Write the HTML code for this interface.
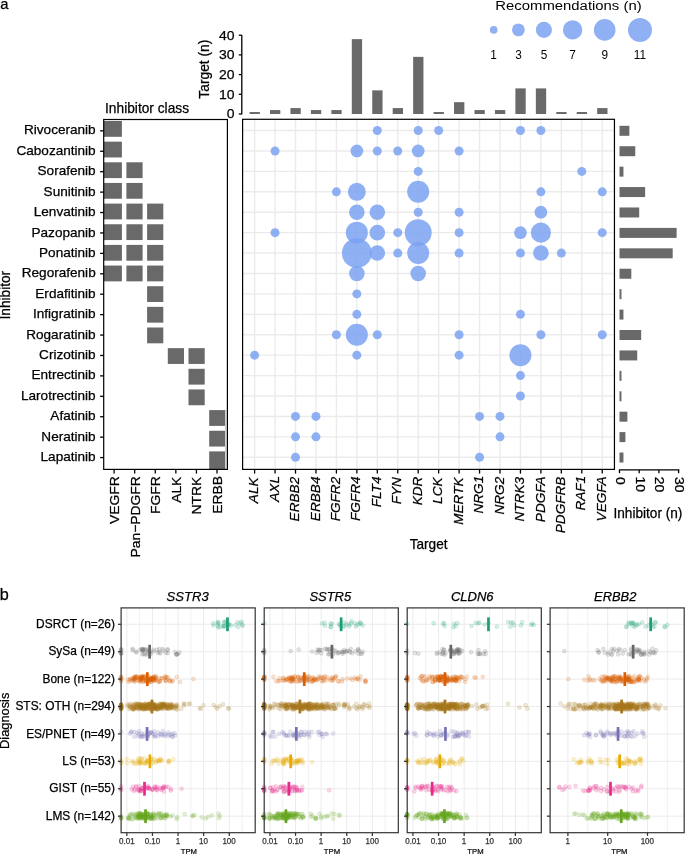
<!DOCTYPE html>
<html><head><meta charset="utf-8"><style>
html,body{margin:0;padding:0;background:#fff;}
svg{display:block;will-change:transform;}
text{-webkit-font-smoothing:antialiased;}
</style></head><body>
<svg width="685" height="854" viewBox="0 0 685 854">
<rect width="685" height="854" fill="#fff"/>
<rect x="242.6" y="119.3" width="371.85" height="350.09999999999997" fill="#fff"/>
<line x1="254.60" y1="119.3" x2="254.60" y2="469.4" stroke="#EBEBEB" stroke-width="1.4"/>
<line x1="275.05" y1="119.3" x2="275.05" y2="469.4" stroke="#EBEBEB" stroke-width="1.4"/>
<line x1="295.50" y1="119.3" x2="295.50" y2="469.4" stroke="#EBEBEB" stroke-width="1.4"/>
<line x1="315.95" y1="119.3" x2="315.95" y2="469.4" stroke="#EBEBEB" stroke-width="1.4"/>
<line x1="336.40" y1="119.3" x2="336.40" y2="469.4" stroke="#EBEBEB" stroke-width="1.4"/>
<line x1="356.85" y1="119.3" x2="356.85" y2="469.4" stroke="#EBEBEB" stroke-width="1.4"/>
<line x1="377.30" y1="119.3" x2="377.30" y2="469.4" stroke="#EBEBEB" stroke-width="1.4"/>
<line x1="397.75" y1="119.3" x2="397.75" y2="469.4" stroke="#EBEBEB" stroke-width="1.4"/>
<line x1="418.20" y1="119.3" x2="418.20" y2="469.4" stroke="#EBEBEB" stroke-width="1.4"/>
<line x1="438.65" y1="119.3" x2="438.65" y2="469.4" stroke="#EBEBEB" stroke-width="1.4"/>
<line x1="459.10" y1="119.3" x2="459.10" y2="469.4" stroke="#EBEBEB" stroke-width="1.4"/>
<line x1="479.55" y1="119.3" x2="479.55" y2="469.4" stroke="#EBEBEB" stroke-width="1.4"/>
<line x1="500.00" y1="119.3" x2="500.00" y2="469.4" stroke="#EBEBEB" stroke-width="1.4"/>
<line x1="520.45" y1="119.3" x2="520.45" y2="469.4" stroke="#EBEBEB" stroke-width="1.4"/>
<line x1="540.90" y1="119.3" x2="540.90" y2="469.4" stroke="#EBEBEB" stroke-width="1.4"/>
<line x1="561.35" y1="119.3" x2="561.35" y2="469.4" stroke="#EBEBEB" stroke-width="1.4"/>
<line x1="581.80" y1="119.3" x2="581.80" y2="469.4" stroke="#EBEBEB" stroke-width="1.4"/>
<line x1="602.25" y1="119.3" x2="602.25" y2="469.4" stroke="#EBEBEB" stroke-width="1.4"/>
<line x1="242.6" y1="130.55" x2="614.45" y2="130.55" stroke="#EBEBEB" stroke-width="1.4"/>
<line x1="242.6" y1="150.97" x2="614.45" y2="150.97" stroke="#EBEBEB" stroke-width="1.4"/>
<line x1="242.6" y1="171.39" x2="614.45" y2="171.39" stroke="#EBEBEB" stroke-width="1.4"/>
<line x1="242.6" y1="191.81" x2="614.45" y2="191.81" stroke="#EBEBEB" stroke-width="1.4"/>
<line x1="242.6" y1="212.23" x2="614.45" y2="212.23" stroke="#EBEBEB" stroke-width="1.4"/>
<line x1="242.6" y1="232.65" x2="614.45" y2="232.65" stroke="#EBEBEB" stroke-width="1.4"/>
<line x1="242.6" y1="253.07" x2="614.45" y2="253.07" stroke="#EBEBEB" stroke-width="1.4"/>
<line x1="242.6" y1="273.49" x2="614.45" y2="273.49" stroke="#EBEBEB" stroke-width="1.4"/>
<line x1="242.6" y1="293.91" x2="614.45" y2="293.91" stroke="#EBEBEB" stroke-width="1.4"/>
<line x1="242.6" y1="314.33" x2="614.45" y2="314.33" stroke="#EBEBEB" stroke-width="1.4"/>
<line x1="242.6" y1="334.75" x2="614.45" y2="334.75" stroke="#EBEBEB" stroke-width="1.4"/>
<line x1="242.6" y1="355.17" x2="614.45" y2="355.17" stroke="#EBEBEB" stroke-width="1.4"/>
<line x1="242.6" y1="375.59" x2="614.45" y2="375.59" stroke="#EBEBEB" stroke-width="1.4"/>
<line x1="242.6" y1="396.01" x2="614.45" y2="396.01" stroke="#EBEBEB" stroke-width="1.4"/>
<line x1="242.6" y1="416.43" x2="614.45" y2="416.43" stroke="#EBEBEB" stroke-width="1.4"/>
<line x1="242.6" y1="436.85" x2="614.45" y2="436.85" stroke="#EBEBEB" stroke-width="1.4"/>
<line x1="242.6" y1="457.27" x2="614.45" y2="457.27" stroke="#EBEBEB" stroke-width="1.4"/>
<g fill="#7DA2F2" fill-opacity="0.85">
<circle cx="377.30" cy="130.55" r="4.50"/>
<circle cx="418.20" cy="130.55" r="4.50"/>
<circle cx="438.65" cy="130.55" r="4.50"/>
<circle cx="520.45" cy="130.55" r="4.50"/>
<circle cx="540.90" cy="130.55" r="4.50"/>
<circle cx="275.05" cy="150.97" r="4.50"/>
<circle cx="356.85" cy="150.97" r="6.36"/>
<circle cx="377.30" cy="150.97" r="4.50"/>
<circle cx="397.75" cy="150.97" r="4.50"/>
<circle cx="418.20" cy="150.97" r="6.36"/>
<circle cx="459.10" cy="150.97" r="4.50"/>
<circle cx="418.20" cy="171.39" r="4.50"/>
<circle cx="581.80" cy="171.39" r="4.50"/>
<circle cx="336.40" cy="191.81" r="4.50"/>
<circle cx="356.85" cy="191.81" r="9.00"/>
<circle cx="418.20" cy="191.81" r="11.02"/>
<circle cx="540.90" cy="191.81" r="4.50"/>
<circle cx="602.25" cy="191.81" r="4.50"/>
<circle cx="356.85" cy="212.23" r="7.79"/>
<circle cx="377.30" cy="212.23" r="7.79"/>
<circle cx="418.20" cy="212.23" r="4.50"/>
<circle cx="459.10" cy="212.23" r="4.50"/>
<circle cx="540.90" cy="212.23" r="6.36"/>
<circle cx="275.05" cy="232.65" r="4.50"/>
<circle cx="356.85" cy="232.65" r="11.02"/>
<circle cx="377.30" cy="232.65" r="7.79"/>
<circle cx="397.75" cy="232.65" r="4.50"/>
<circle cx="418.20" cy="232.65" r="13.50"/>
<circle cx="459.10" cy="232.65" r="4.50"/>
<circle cx="520.45" cy="232.65" r="6.36"/>
<circle cx="540.90" cy="232.65" r="10.06"/>
<circle cx="602.25" cy="232.65" r="4.50"/>
<circle cx="356.85" cy="253.07" r="14.92"/>
<circle cx="377.30" cy="253.07" r="7.79"/>
<circle cx="397.75" cy="253.07" r="4.50"/>
<circle cx="418.20" cy="253.07" r="11.02"/>
<circle cx="459.10" cy="253.07" r="4.50"/>
<circle cx="520.45" cy="253.07" r="4.50"/>
<circle cx="540.90" cy="253.07" r="7.79"/>
<circle cx="561.35" cy="253.07" r="4.50"/>
<circle cx="356.85" cy="273.49" r="7.79"/>
<circle cx="418.20" cy="273.49" r="7.79"/>
<circle cx="356.85" cy="293.91" r="4.50"/>
<circle cx="356.85" cy="314.33" r="4.50"/>
<circle cx="520.45" cy="314.33" r="4.50"/>
<circle cx="336.40" cy="334.75" r="4.50"/>
<circle cx="356.85" cy="334.75" r="11.02"/>
<circle cx="377.30" cy="334.75" r="4.50"/>
<circle cx="459.10" cy="334.75" r="4.50"/>
<circle cx="540.90" cy="334.75" r="4.50"/>
<circle cx="602.25" cy="334.75" r="4.50"/>
<circle cx="254.60" cy="355.17" r="4.50"/>
<circle cx="356.85" cy="355.17" r="4.50"/>
<circle cx="459.10" cy="355.17" r="4.50"/>
<circle cx="520.45" cy="355.17" r="11.02"/>
<circle cx="520.45" cy="375.59" r="4.50"/>
<circle cx="520.45" cy="396.01" r="4.50"/>
<circle cx="295.50" cy="416.43" r="4.50"/>
<circle cx="315.95" cy="416.43" r="4.50"/>
<circle cx="479.55" cy="416.43" r="4.50"/>
<circle cx="500.00" cy="416.43" r="4.50"/>
<circle cx="295.50" cy="436.85" r="4.50"/>
<circle cx="315.95" cy="436.85" r="4.50"/>
<circle cx="500.00" cy="436.85" r="4.50"/>
<circle cx="295.50" cy="457.27" r="4.50"/>
<circle cx="479.55" cy="457.27" r="4.50"/>
</g>
<rect x="242.6" y="119.3" width="371.85" height="350.09999999999997" fill="none" stroke="#000" stroke-width="1.2"/>
<line x1="254.60" y1="469.4" x2="254.60" y2="473.60" stroke="#000" stroke-width="1.3"/>
<line x1="275.05" y1="469.4" x2="275.05" y2="473.60" stroke="#000" stroke-width="1.3"/>
<line x1="295.50" y1="469.4" x2="295.50" y2="473.60" stroke="#000" stroke-width="1.3"/>
<line x1="315.95" y1="469.4" x2="315.95" y2="473.60" stroke="#000" stroke-width="1.3"/>
<line x1="336.40" y1="469.4" x2="336.40" y2="473.60" stroke="#000" stroke-width="1.3"/>
<line x1="356.85" y1="469.4" x2="356.85" y2="473.60" stroke="#000" stroke-width="1.3"/>
<line x1="377.30" y1="469.4" x2="377.30" y2="473.60" stroke="#000" stroke-width="1.3"/>
<line x1="397.75" y1="469.4" x2="397.75" y2="473.60" stroke="#000" stroke-width="1.3"/>
<line x1="418.20" y1="469.4" x2="418.20" y2="473.60" stroke="#000" stroke-width="1.3"/>
<line x1="438.65" y1="469.4" x2="438.65" y2="473.60" stroke="#000" stroke-width="1.3"/>
<line x1="459.10" y1="469.4" x2="459.10" y2="473.60" stroke="#000" stroke-width="1.3"/>
<line x1="479.55" y1="469.4" x2="479.55" y2="473.60" stroke="#000" stroke-width="1.3"/>
<line x1="500.00" y1="469.4" x2="500.00" y2="473.60" stroke="#000" stroke-width="1.3"/>
<line x1="520.45" y1="469.4" x2="520.45" y2="473.60" stroke="#000" stroke-width="1.3"/>
<line x1="540.90" y1="469.4" x2="540.90" y2="473.60" stroke="#000" stroke-width="1.3"/>
<line x1="561.35" y1="469.4" x2="561.35" y2="473.60" stroke="#000" stroke-width="1.3"/>
<line x1="581.80" y1="469.4" x2="581.80" y2="473.60" stroke="#000" stroke-width="1.3"/>
<line x1="602.25" y1="469.4" x2="602.25" y2="473.60" stroke="#000" stroke-width="1.3"/>
<rect x="104.00" y="121.00" width="17.90" height="15.80" fill="#696969"/>
<rect x="104.00" y="141.65" width="17.90" height="15.80" fill="#696969"/>
<rect x="104.00" y="162.30" width="17.90" height="15.80" fill="#696969"/>
<rect x="126.40" y="162.30" width="16.20" height="15.80" fill="#696969"/>
<rect x="104.00" y="182.95" width="17.90" height="15.80" fill="#696969"/>
<rect x="126.40" y="182.95" width="16.20" height="15.80" fill="#696969"/>
<rect x="104.00" y="203.60" width="17.90" height="15.80" fill="#696969"/>
<rect x="126.40" y="203.60" width="16.20" height="15.80" fill="#696969"/>
<rect x="147.10" y="203.60" width="16.20" height="15.80" fill="#696969"/>
<rect x="104.00" y="224.25" width="17.90" height="15.80" fill="#696969"/>
<rect x="126.40" y="224.25" width="16.20" height="15.80" fill="#696969"/>
<rect x="147.10" y="224.25" width="16.20" height="15.80" fill="#696969"/>
<rect x="104.00" y="244.90" width="17.90" height="15.80" fill="#696969"/>
<rect x="126.40" y="244.90" width="16.20" height="15.80" fill="#696969"/>
<rect x="147.10" y="244.90" width="16.20" height="15.80" fill="#696969"/>
<rect x="104.00" y="265.55" width="17.90" height="15.80" fill="#696969"/>
<rect x="126.40" y="265.55" width="16.20" height="15.80" fill="#696969"/>
<rect x="147.10" y="265.55" width="16.20" height="15.80" fill="#696969"/>
<rect x="147.10" y="286.20" width="16.20" height="15.80" fill="#696969"/>
<rect x="147.10" y="306.85" width="16.20" height="15.80" fill="#696969"/>
<rect x="147.10" y="327.50" width="16.20" height="15.80" fill="#696969"/>
<rect x="167.80" y="348.15" width="16.20" height="15.80" fill="#696969"/>
<rect x="188.50" y="348.15" width="16.20" height="15.80" fill="#696969"/>
<rect x="188.50" y="368.80" width="16.20" height="15.80" fill="#696969"/>
<rect x="188.50" y="389.45" width="16.20" height="15.80" fill="#696969"/>
<rect x="209.20" y="410.10" width="16.20" height="15.80" fill="#696969"/>
<rect x="209.20" y="430.75" width="16.20" height="15.80" fill="#696969"/>
<rect x="209.20" y="451.40" width="16.20" height="18.00" fill="#696969"/>
<rect x="225.0" y="410.10" width="1.5" height="59.30" fill="#d2d2d2"/>
<rect x="103.7" y="119.5" width="123.7" height="349.9" fill="none" stroke="#000" stroke-width="1.2"/>
<line x1="114.10" y1="469.4" x2="114.10" y2="473.60" stroke="#000" stroke-width="1.3"/>
<line x1="134.68" y1="469.4" x2="134.68" y2="473.60" stroke="#000" stroke-width="1.3"/>
<line x1="155.26" y1="469.4" x2="155.26" y2="473.60" stroke="#000" stroke-width="1.3"/>
<line x1="175.84" y1="469.4" x2="175.84" y2="473.60" stroke="#000" stroke-width="1.3"/>
<line x1="196.42" y1="469.4" x2="196.42" y2="473.60" stroke="#000" stroke-width="1.3"/>
<line x1="217.00" y1="469.4" x2="217.00" y2="473.60" stroke="#000" stroke-width="1.3"/>
<line x1="100.10" y1="130.85" x2="103.7" y2="130.85" stroke="#000" stroke-width="1.3"/>
<line x1="100.10" y1="151.27" x2="103.7" y2="151.27" stroke="#000" stroke-width="1.3"/>
<line x1="100.10" y1="171.69" x2="103.7" y2="171.69" stroke="#000" stroke-width="1.3"/>
<line x1="100.10" y1="192.11" x2="103.7" y2="192.11" stroke="#000" stroke-width="1.3"/>
<line x1="100.10" y1="212.53" x2="103.7" y2="212.53" stroke="#000" stroke-width="1.3"/>
<line x1="100.10" y1="232.95" x2="103.7" y2="232.95" stroke="#000" stroke-width="1.3"/>
<line x1="100.10" y1="253.37" x2="103.7" y2="253.37" stroke="#000" stroke-width="1.3"/>
<line x1="100.10" y1="273.79" x2="103.7" y2="273.79" stroke="#000" stroke-width="1.3"/>
<line x1="100.10" y1="294.21" x2="103.7" y2="294.21" stroke="#000" stroke-width="1.3"/>
<line x1="100.10" y1="314.63" x2="103.7" y2="314.63" stroke="#000" stroke-width="1.3"/>
<line x1="100.10" y1="335.05" x2="103.7" y2="335.05" stroke="#000" stroke-width="1.3"/>
<line x1="100.10" y1="355.47" x2="103.7" y2="355.47" stroke="#000" stroke-width="1.3"/>
<line x1="100.10" y1="375.89" x2="103.7" y2="375.89" stroke="#000" stroke-width="1.3"/>
<line x1="100.10" y1="396.31" x2="103.7" y2="396.31" stroke="#000" stroke-width="1.3"/>
<line x1="100.10" y1="416.73" x2="103.7" y2="416.73" stroke="#000" stroke-width="1.3"/>
<line x1="100.10" y1="437.15" x2="103.7" y2="437.15" stroke="#000" stroke-width="1.3"/>
<line x1="100.10" y1="457.57" x2="103.7" y2="457.57" stroke="#000" stroke-width="1.3"/>
<rect x="249.55" y="112.03" width="10.3" height="1.97" fill="#696969"/>
<rect x="270.00" y="110.06" width="10.3" height="3.94" fill="#696969"/>
<rect x="290.45" y="108.09" width="10.3" height="5.91" fill="#696969"/>
<rect x="310.90" y="110.06" width="10.3" height="3.94" fill="#696969"/>
<rect x="331.35" y="110.06" width="10.3" height="3.94" fill="#696969"/>
<rect x="351.80" y="39.14" width="10.3" height="74.86" fill="#696969"/>
<rect x="372.25" y="90.36" width="10.3" height="23.64" fill="#696969"/>
<rect x="392.70" y="108.09" width="10.3" height="5.91" fill="#696969"/>
<rect x="413.15" y="56.87" width="10.3" height="57.13" fill="#696969"/>
<rect x="433.60" y="112.03" width="10.3" height="1.97" fill="#696969"/>
<rect x="454.05" y="102.18" width="10.3" height="11.82" fill="#696969"/>
<rect x="474.50" y="110.06" width="10.3" height="3.94" fill="#696969"/>
<rect x="494.95" y="110.06" width="10.3" height="3.94" fill="#696969"/>
<rect x="515.40" y="88.39" width="10.3" height="25.61" fill="#696969"/>
<rect x="535.85" y="88.39" width="10.3" height="25.61" fill="#696969"/>
<rect x="556.30" y="112.03" width="10.3" height="1.97" fill="#696969"/>
<rect x="576.75" y="112.03" width="10.3" height="1.97" fill="#696969"/>
<rect x="597.20" y="108.09" width="10.3" height="5.91" fill="#696969"/>
<line x1="241.8" y1="34.9" x2="241.8" y2="114.3" stroke="#000" stroke-width="1.3"/>
<line x1="238.8" y1="114.00" x2="241.8" y2="114.00" stroke="#000" stroke-width="1.3"/>
<line x1="238.8" y1="94.30" x2="241.8" y2="94.30" stroke="#000" stroke-width="1.3"/>
<line x1="238.8" y1="74.60" x2="241.8" y2="74.60" stroke="#000" stroke-width="1.3"/>
<line x1="238.8" y1="54.90" x2="241.8" y2="54.90" stroke="#000" stroke-width="1.3"/>
<line x1="238.8" y1="35.20" x2="241.8" y2="35.20" stroke="#000" stroke-width="1.3"/>
<rect x="619.50" y="125.80" width="9.85" height="10.0" fill="#696969"/>
<rect x="619.50" y="146.22" width="15.76" height="10.0" fill="#696969"/>
<rect x="619.50" y="166.64" width="3.94" height="10.0" fill="#696969"/>
<rect x="619.50" y="187.06" width="25.61" height="10.0" fill="#696969"/>
<rect x="619.50" y="207.48" width="19.70" height="10.0" fill="#696969"/>
<rect x="619.50" y="227.90" width="57.13" height="10.0" fill="#696969"/>
<rect x="619.50" y="248.32" width="53.19" height="10.0" fill="#696969"/>
<rect x="619.50" y="268.74" width="11.82" height="10.0" fill="#696969"/>
<rect x="619.50" y="289.16" width="1.97" height="10.0" fill="#696969"/>
<rect x="619.50" y="309.58" width="3.94" height="10.0" fill="#696969"/>
<rect x="619.50" y="330.00" width="21.67" height="10.0" fill="#696969"/>
<rect x="619.50" y="350.42" width="17.73" height="10.0" fill="#696969"/>
<rect x="619.50" y="370.84" width="1.97" height="10.0" fill="#696969"/>
<rect x="619.50" y="391.26" width="1.97" height="10.0" fill="#696969"/>
<rect x="619.50" y="411.68" width="7.88" height="10.0" fill="#696969"/>
<rect x="619.50" y="432.10" width="5.91" height="10.0" fill="#696969"/>
<rect x="619.50" y="452.52" width="3.94" height="10.0" fill="#696969"/>
<line x1="618.9" y1="469.9" x2="679.3" y2="469.9" stroke="#000" stroke-width="1.3"/>
<line x1="619.50" y1="469.9" x2="619.50" y2="473.2" stroke="#000" stroke-width="1.3"/>
<line x1="639.20" y1="469.9" x2="639.20" y2="473.2" stroke="#000" stroke-width="1.3"/>
<line x1="658.90" y1="469.9" x2="658.90" y2="473.2" stroke="#000" stroke-width="1.3"/>
<line x1="678.60" y1="469.9" x2="678.60" y2="473.2" stroke="#000" stroke-width="1.3"/>
<circle cx="493.7" cy="29.9" r="3.80" fill="#7DA2F2" fill-opacity="0.85"/>
<circle cx="518.4" cy="29.9" r="6.40" fill="#7DA2F2" fill-opacity="0.85"/>
<circle cx="543.9" cy="29.9" r="8.05" fill="#7DA2F2" fill-opacity="0.85"/>
<circle cx="572.6" cy="29.9" r="9.65" fill="#7DA2F2" fill-opacity="0.85"/>
<circle cx="604.7" cy="29.9" r="10.80" fill="#7DA2F2" fill-opacity="0.85"/>
<circle cx="640.0" cy="29.9" r="12.00" fill="#7DA2F2" fill-opacity="0.85"/>
<text x="0.21" y="8.80" textLength="8.21" lengthAdjust="spacingAndGlyphs" style='font-family:"Liberation Sans",sans-serif;font-size:15.5px;' fill="#000" stroke="#000" stroke-width="0.25">a</text>
<text x="495.31" y="9.90" textLength="146.32" lengthAdjust="spacingAndGlyphs" style='font-family:"Liberation Sans",sans-serif;font-size:12.5px;' fill="#000" stroke="#000" stroke-width="0.0">Recommendations (n)</text>
<text x="490.25" y="59.00" textLength="6.56" lengthAdjust="spacingAndGlyphs" style='font-family:"Liberation Sans",sans-serif;font-size:13.5px;' fill="#000" stroke="#000" stroke-width="0.0">1</text>
<text x="515.13" y="59.00" textLength="6.56" lengthAdjust="spacingAndGlyphs" style='font-family:"Liberation Sans",sans-serif;font-size:13.5px;' fill="#000" stroke="#000" stroke-width="0.0">3</text>
<text x="540.63" y="59.00" textLength="6.56" lengthAdjust="spacingAndGlyphs" style='font-family:"Liberation Sans",sans-serif;font-size:13.5px;' fill="#000" stroke="#000" stroke-width="0.0">5</text>
<text x="569.33" y="59.00" textLength="6.56" lengthAdjust="spacingAndGlyphs" style='font-family:"Liberation Sans",sans-serif;font-size:13.5px;' fill="#000" stroke="#000" stroke-width="0.0">7</text>
<text x="601.43" y="59.00" textLength="6.56" lengthAdjust="spacingAndGlyphs" style='font-family:"Liberation Sans",sans-serif;font-size:13.5px;' fill="#000" stroke="#000" stroke-width="0.0">9</text>
<text x="633.72" y="59.00" textLength="12.25" lengthAdjust="spacingAndGlyphs" style='font-family:"Liberation Sans",sans-serif;font-size:13.5px;' fill="#000" stroke="#000" stroke-width="0.0">11</text>
<text x="-98.68" y="209.30" textLength="58.96" lengthAdjust="spacingAndGlyphs" style='font-family:"Liberation Sans",sans-serif;font-size:14.3px;' fill="#000" stroke="#000" stroke-width="0.25" transform="rotate(-90)">Target (n)</text>
<text x="226.84" y="118.30" textLength="7.77" lengthAdjust="spacingAndGlyphs" style='font-family:"Liberation Sans",sans-serif;font-size:13.7px;' fill="#000" stroke="#000" stroke-width="0.25">0</text>
<text x="219.08" y="98.60" textLength="15.54" lengthAdjust="spacingAndGlyphs" style='font-family:"Liberation Sans",sans-serif;font-size:13.7px;' fill="#000" stroke="#000" stroke-width="0.25">10</text>
<text x="219.08" y="78.90" textLength="15.54" lengthAdjust="spacingAndGlyphs" style='font-family:"Liberation Sans",sans-serif;font-size:13.7px;' fill="#000" stroke="#000" stroke-width="0.25">20</text>
<text x="219.08" y="59.20" textLength="15.54" lengthAdjust="spacingAndGlyphs" style='font-family:"Liberation Sans",sans-serif;font-size:13.7px;' fill="#000" stroke="#000" stroke-width="0.25">30</text>
<text x="219.08" y="39.50" textLength="15.54" lengthAdjust="spacingAndGlyphs" style='font-family:"Liberation Sans",sans-serif;font-size:13.7px;' fill="#000" stroke="#000" stroke-width="0.25">40</text>
<text x="105.06" y="113.00" textLength="84.00" lengthAdjust="spacingAndGlyphs" style='font-family:"Liberation Sans",sans-serif;font-size:14.3px;' fill="#000" stroke="#000" stroke-width="0.25">Inhibitor class</text>
<text x="23.99" y="134.45" textLength="71.66" lengthAdjust="spacingAndGlyphs" style='font-family:"Liberation Sans",sans-serif;font-size:13.4px;' fill="#000" stroke="#000" stroke-width="0.25">Rivoceranib</text>
<text x="16.46" y="154.87" textLength="79.22" lengthAdjust="spacingAndGlyphs" style='font-family:"Liberation Sans",sans-serif;font-size:13.4px;' fill="#000" stroke="#000" stroke-width="0.25">Cabozantinib</text>
<text x="37.56" y="175.29" textLength="58.09" lengthAdjust="spacingAndGlyphs" style='font-family:"Liberation Sans",sans-serif;font-size:13.4px;' fill="#000" stroke="#000" stroke-width="0.25">Sorafenib</text>
<text x="43.60" y="195.71" textLength="52.06" lengthAdjust="spacingAndGlyphs" style='font-family:"Liberation Sans",sans-serif;font-size:13.4px;' fill="#000" stroke="#000" stroke-width="0.25">Sunitinib</text>
<text x="33.76" y="216.13" textLength="61.87" lengthAdjust="spacingAndGlyphs" style='font-family:"Liberation Sans",sans-serif;font-size:13.4px;' fill="#000" stroke="#000" stroke-width="0.25">Lenvatinib</text>
<text x="31.52" y="236.55" textLength="64.14" lengthAdjust="spacingAndGlyphs" style='font-family:"Liberation Sans",sans-serif;font-size:13.4px;' fill="#000" stroke="#000" stroke-width="0.25">Pazopanib</text>
<text x="39.06" y="256.97" textLength="56.59" lengthAdjust="spacingAndGlyphs" style='font-family:"Liberation Sans",sans-serif;font-size:13.4px;' fill="#000" stroke="#000" stroke-width="0.25">Ponatinib</text>
<text x="21.75" y="277.39" textLength="73.94" lengthAdjust="spacingAndGlyphs" style='font-family:"Liberation Sans",sans-serif;font-size:13.4px;' fill="#000" stroke="#000" stroke-width="0.25">Regorafenib</text>
<text x="35.32" y="297.81" textLength="60.35" lengthAdjust="spacingAndGlyphs" style='font-family:"Liberation Sans",sans-serif;font-size:13.4px;' fill="#000" stroke="#000" stroke-width="0.25">Erdafitinib</text>
<text x="33.02" y="318.23" textLength="62.61" lengthAdjust="spacingAndGlyphs" style='font-family:"Liberation Sans",sans-serif;font-size:13.4px;' fill="#000" stroke="#000" stroke-width="0.25">Infigratinib</text>
<text x="26.23" y="338.65" textLength="69.40" lengthAdjust="spacingAndGlyphs" style='font-family:"Liberation Sans",sans-serif;font-size:13.4px;' fill="#000" stroke="#000" stroke-width="0.25">Rogaratinib</text>
<text x="39.12" y="359.07" textLength="56.56" lengthAdjust="spacingAndGlyphs" style='font-family:"Liberation Sans",sans-serif;font-size:13.4px;' fill="#000" stroke="#000" stroke-width="0.25">Crizotinib</text>
<text x="31.52" y="379.49" textLength="64.12" lengthAdjust="spacingAndGlyphs" style='font-family:"Liberation Sans",sans-serif;font-size:13.4px;' fill="#000" stroke="#000" stroke-width="0.25">Entrectinib</text>
<text x="21.01" y="399.91" textLength="74.68" lengthAdjust="spacingAndGlyphs" style='font-family:"Liberation Sans",sans-serif;font-size:13.4px;' fill="#000" stroke="#000" stroke-width="0.25">Larotrectinib</text>
<text x="50.39" y="420.33" textLength="45.26" lengthAdjust="spacingAndGlyphs" style='font-family:"Liberation Sans",sans-serif;font-size:13.4px;' fill="#000" stroke="#000" stroke-width="0.25">Afatinib</text>
<text x="41.36" y="440.75" textLength="54.31" lengthAdjust="spacingAndGlyphs" style='font-family:"Liberation Sans",sans-serif;font-size:13.4px;' fill="#000" stroke="#000" stroke-width="0.25">Neratinib</text>
<text x="40.55" y="461.17" textLength="55.08" lengthAdjust="spacingAndGlyphs" style='font-family:"Liberation Sans",sans-serif;font-size:13.4px;' fill="#000" stroke="#000" stroke-width="0.25">Lapatinib</text>
<text x="-319.43" y="10.30" textLength="48.57" lengthAdjust="spacingAndGlyphs" style='font-family:"Liberation Sans",sans-serif;font-size:14.3px;' fill="#000" stroke="#000" stroke-width="0.25" transform="rotate(-90)">Inhibitor</text>
<text x="-523.99" y="119.00" textLength="47.82" lengthAdjust="spacingAndGlyphs" style='font-family:"Liberation Sans",sans-serif;font-size:13.7px;' fill="#000" stroke="#000" stroke-width="0.25" transform="rotate(-90)">VEGFR</text>
<text x="-557.51" y="139.58" textLength="81.38" lengthAdjust="spacingAndGlyphs" style='font-family:"Liberation Sans",sans-serif;font-size:13.7px;' fill="#000" stroke="#000" stroke-width="0.25" transform="rotate(-90)">Pan−PDGFR</text>
<text x="-513.93" y="160.16" textLength="37.78" lengthAdjust="spacingAndGlyphs" style='font-family:"Liberation Sans",sans-serif;font-size:13.7px;' fill="#000" stroke="#000" stroke-width="0.25" transform="rotate(-90)">FGFR</text>
<text x="-502.89" y="180.74" textLength="26.24" lengthAdjust="spacingAndGlyphs" style='font-family:"Liberation Sans",sans-serif;font-size:13.7px;' fill="#000" stroke="#000" stroke-width="0.25" transform="rotate(-90)">ALK</text>
<text x="-514.41" y="201.32" textLength="37.79" lengthAdjust="spacingAndGlyphs" style='font-family:"Liberation Sans",sans-serif;font-size:13.7px;' fill="#000" stroke="#000" stroke-width="0.25" transform="rotate(-90)">NTRK</text>
<text x="-513.86" y="221.90" textLength="37.80" lengthAdjust="spacingAndGlyphs" style='font-family:"Liberation Sans",sans-serif;font-size:13.7px;' fill="#000" stroke="#000" stroke-width="0.25" transform="rotate(-90)">ERBB</text>
<text x="-503.18" y="258.20" textLength="25.71" lengthAdjust="spacingAndGlyphs" style='font-family:"Liberation Sans",sans-serif;font-size:13.7px;font-style:italic;' fill="#000" stroke="#000" stroke-width="0.25" transform="rotate(-90)">ALK</text>
<text x="-501.75" y="278.65" textLength="25.71" lengthAdjust="spacingAndGlyphs" style='font-family:"Liberation Sans",sans-serif;font-size:13.7px;font-style:italic;' fill="#000" stroke="#000" stroke-width="0.25" transform="rotate(-90)">AXL</text>
<text x="-521.40" y="299.10" textLength="44.60" lengthAdjust="spacingAndGlyphs" style='font-family:"Liberation Sans",sans-serif;font-size:13.7px;font-style:italic;' fill="#000" stroke="#000" stroke-width="0.25" transform="rotate(-90)">ERBB2</text>
<text x="-521.13" y="319.55" textLength="44.60" lengthAdjust="spacingAndGlyphs" style='font-family:"Liberation Sans",sans-serif;font-size:13.7px;font-style:italic;' fill="#000" stroke="#000" stroke-width="0.25" transform="rotate(-90)">ERBB4</text>
<text x="-521.34" y="340.00" textLength="44.58" lengthAdjust="spacingAndGlyphs" style='font-family:"Liberation Sans",sans-serif;font-size:13.7px;font-style:italic;' fill="#000" stroke="#000" stroke-width="0.25" transform="rotate(-90)">FGFR2</text>
<text x="-521.06" y="360.45" textLength="44.58" lengthAdjust="spacingAndGlyphs" style='font-family:"Liberation Sans",sans-serif;font-size:13.7px;font-style:italic;' fill="#000" stroke="#000" stroke-width="0.25" transform="rotate(-90)">FGFR4</text>
<text x="-507.26" y="380.90" textLength="30.73" lengthAdjust="spacingAndGlyphs" style='font-family:"Liberation Sans",sans-serif;font-size:13.7px;font-style:italic;' fill="#000" stroke="#000" stroke-width="0.25" transform="rotate(-90)">FLT4</text>
<text x="-504.27" y="401.35" textLength="27.20" lengthAdjust="spacingAndGlyphs" style='font-family:"Liberation Sans",sans-serif;font-size:13.7px;font-style:italic;' fill="#000" stroke="#000" stroke-width="0.25" transform="rotate(-90)">FYN</text>
<text x="-505.29" y="421.80" textLength="28.72" lengthAdjust="spacingAndGlyphs" style='font-family:"Liberation Sans",sans-serif;font-size:13.7px;font-style:italic;' fill="#000" stroke="#000" stroke-width="0.25" transform="rotate(-90)">KDR</text>
<text x="-503.93" y="442.25" textLength="26.46" lengthAdjust="spacingAndGlyphs" style='font-family:"Liberation Sans",sans-serif;font-size:13.7px;font-style:italic;' fill="#000" stroke="#000" stroke-width="0.25" transform="rotate(-90)">LCK</text>
<text x="-524.80" y="462.70" textLength="47.36" lengthAdjust="spacingAndGlyphs" style='font-family:"Liberation Sans",sans-serif;font-size:13.7px;font-style:italic;' fill="#000" stroke="#000" stroke-width="0.25" transform="rotate(-90)">MERTK</text>
<text x="-513.58" y="483.15" textLength="37.79" lengthAdjust="spacingAndGlyphs" style='font-family:"Liberation Sans",sans-serif;font-size:13.7px;font-style:italic;' fill="#000" stroke="#000" stroke-width="0.25" transform="rotate(-90)">NRG1</text>
<text x="-514.54" y="503.60" textLength="37.79" lengthAdjust="spacingAndGlyphs" style='font-family:"Liberation Sans",sans-serif;font-size:13.7px;font-style:italic;' fill="#000" stroke="#000" stroke-width="0.25" transform="rotate(-90)">NRG2</text>
<text x="-521.47" y="524.05" textLength="44.59" lengthAdjust="spacingAndGlyphs" style='font-family:"Liberation Sans",sans-serif;font-size:13.7px;font-style:italic;' fill="#000" stroke="#000" stroke-width="0.25" transform="rotate(-90)">NTRK3</text>
<text x="-522.15" y="544.50" textLength="45.84" lengthAdjust="spacingAndGlyphs" style='font-family:"Liberation Sans",sans-serif;font-size:13.7px;font-style:italic;' fill="#000" stroke="#000" stroke-width="0.25" transform="rotate(-90)">PDGFA</text>
<text x="-533.24" y="564.95" textLength="56.67" lengthAdjust="spacingAndGlyphs" style='font-family:"Liberation Sans",sans-serif;font-size:13.7px;font-style:italic;' fill="#000" stroke="#000" stroke-width="0.25" transform="rotate(-90)">PDGFRB</text>
<text x="-510.59" y="585.40" textLength="34.77" lengthAdjust="spacingAndGlyphs" style='font-family:"Liberation Sans",sans-serif;font-size:13.7px;font-style:italic;' fill="#000" stroke="#000" stroke-width="0.25" transform="rotate(-90)">RAF1</text>
<text x="-521.40" y="605.85" textLength="45.09" lengthAdjust="spacingAndGlyphs" style='font-family:"Liberation Sans",sans-serif;font-size:13.7px;font-style:italic;' fill="#000" stroke="#000" stroke-width="0.25" transform="rotate(-90)">VEGFA</text>
<text x="409.63" y="548.80" textLength="37.90" lengthAdjust="spacingAndGlyphs" style='font-family:"Liberation Sans",sans-serif;font-size:14.4px;' fill="#000" stroke="#000" stroke-width="0.25">Target</text>
<text x="476.94" y="-615.80" textLength="7.77" lengthAdjust="spacingAndGlyphs" style='font-family:"Liberation Sans",sans-serif;font-size:13.7px;' fill="#000" stroke="#000" stroke-width="0.25" transform="rotate(90)">0</text>
<text x="476.45" y="-635.50" textLength="15.54" lengthAdjust="spacingAndGlyphs" style='font-family:"Liberation Sans",sans-serif;font-size:13.7px;' fill="#000" stroke="#000" stroke-width="0.25" transform="rotate(90)">10</text>
<text x="476.80" y="-655.20" textLength="15.54" lengthAdjust="spacingAndGlyphs" style='font-family:"Liberation Sans",sans-serif;font-size:13.7px;' fill="#000" stroke="#000" stroke-width="0.25" transform="rotate(90)">20</text>
<text x="476.94" y="-674.90" textLength="15.54" lengthAdjust="spacingAndGlyphs" style='font-family:"Liberation Sans",sans-serif;font-size:13.7px;' fill="#000" stroke="#000" stroke-width="0.25" transform="rotate(90)">30</text>
<text x="613.47" y="518.10" textLength="68.88" lengthAdjust="spacingAndGlyphs" style='font-family:"Liberation Sans",sans-serif;font-size:13.8px;' fill="#000" stroke="#000" stroke-width="0.25">Inhibitor (n)</text>
<line x1="139.65" y1="607.9" x2="139.65" y2="832.7" stroke="#EBEBEB" stroke-width="0.75"/>
<line x1="165.25" y1="607.9" x2="165.25" y2="832.7" stroke="#EBEBEB" stroke-width="0.75"/>
<line x1="190.85" y1="607.9" x2="190.85" y2="832.7" stroke="#EBEBEB" stroke-width="0.75"/>
<line x1="216.45" y1="607.9" x2="216.45" y2="832.7" stroke="#EBEBEB" stroke-width="0.75"/>
<line x1="242.05" y1="607.9" x2="242.05" y2="832.7" stroke="#EBEBEB" stroke-width="0.75"/>
<line x1="126.85" y1="607.9" x2="126.85" y2="832.7" stroke="#EBEBEB" stroke-width="1.0"/>
<line x1="152.45" y1="607.9" x2="152.45" y2="832.7" stroke="#EBEBEB" stroke-width="1.0"/>
<line x1="178.05" y1="607.9" x2="178.05" y2="832.7" stroke="#EBEBEB" stroke-width="1.0"/>
<line x1="203.65" y1="607.9" x2="203.65" y2="832.7" stroke="#EBEBEB" stroke-width="1.0"/>
<line x1="229.25" y1="607.9" x2="229.25" y2="832.7" stroke="#EBEBEB" stroke-width="1.0"/>
<line x1="121.1" y1="624.30" x2="255.2" y2="624.30" stroke="#EBEBEB" stroke-width="1.0"/>
<line x1="121.1" y1="651.71" x2="255.2" y2="651.71" stroke="#EBEBEB" stroke-width="1.0"/>
<line x1="121.1" y1="679.12" x2="255.2" y2="679.12" stroke="#EBEBEB" stroke-width="1.0"/>
<line x1="121.1" y1="706.53" x2="255.2" y2="706.53" stroke="#EBEBEB" stroke-width="1.0"/>
<line x1="121.1" y1="733.94" x2="255.2" y2="733.94" stroke="#EBEBEB" stroke-width="1.0"/>
<line x1="121.1" y1="761.35" x2="255.2" y2="761.35" stroke="#EBEBEB" stroke-width="1.0"/>
<line x1="121.1" y1="788.76" x2="255.2" y2="788.76" stroke="#EBEBEB" stroke-width="1.0"/>
<line x1="121.1" y1="816.17" x2="255.2" y2="816.17" stroke="#EBEBEB" stroke-width="1.0"/>
<g fill="#1B9E77" fill-opacity="0.17" stroke="#1B9E77" stroke-opacity="0.3" stroke-width="0.5">
<circle cx="213.18" cy="623.24" r="1.95"/>
<circle cx="224.05" cy="621.60" r="1.95"/>
<circle cx="217.83" cy="625.57" r="1.95"/>
<circle cx="226.17" cy="621.77" r="1.95"/>
<circle cx="218.22" cy="627.27" r="1.95"/>
<circle cx="223.77" cy="626.82" r="1.95"/>
<circle cx="223.75" cy="626.03" r="1.95"/>
<circle cx="223.11" cy="625.93" r="1.95"/>
<circle cx="218.70" cy="623.51" r="1.95"/>
<circle cx="213.59" cy="625.37" r="1.95"/>
<circle cx="242.59" cy="625.87" r="1.95"/>
<circle cx="227.58" cy="624.18" r="1.95"/>
<circle cx="241.75" cy="621.67" r="1.95"/>
<circle cx="229.14" cy="625.06" r="1.95"/>
<circle cx="240.07" cy="623.25" r="1.95"/>
<circle cx="235.49" cy="624.96" r="1.95"/>
<circle cx="228.95" cy="623.82" r="1.95"/>
<circle cx="238.20" cy="627.02" r="1.95"/>
<circle cx="224.29" cy="622.51" r="1.95"/>
<circle cx="224.33" cy="625.91" r="1.95"/>
<circle cx="230.95" cy="625.49" r="1.95"/>
<circle cx="242.32" cy="624.64" r="1.95"/>
<circle cx="217.91" cy="621.78" r="1.95"/>
<circle cx="237.69" cy="622.29" r="1.95"/>
<circle cx="219.90" cy="627.10" r="1.95"/>
<circle cx="217.69" cy="622.68" r="1.95"/>
</g>
<rect x="226.11" y="617.40" width="2.7" height="13.8" fill="#1B9E77"/>
<g fill="#666666" fill-opacity="0.17" stroke="#666666" stroke-opacity="0.3" stroke-width="0.5">
<circle cx="140.13" cy="649.62" r="1.95"/>
<circle cx="150.51" cy="651.90" r="1.95"/>
<circle cx="149.61" cy="652.24" r="1.95"/>
<circle cx="160.30" cy="653.40" r="1.95"/>
<circle cx="156.97" cy="649.69" r="1.95"/>
<circle cx="148.64" cy="651.20" r="1.95"/>
<circle cx="141.92" cy="648.86" r="1.95"/>
<circle cx="157.84" cy="652.69" r="1.95"/>
<circle cx="150.58" cy="653.92" r="1.95"/>
<circle cx="142.32" cy="650.83" r="1.95"/>
<circle cx="147.78" cy="653.61" r="1.95"/>
<circle cx="165.86" cy="652.66" r="1.95"/>
<circle cx="132.53" cy="648.81" r="1.95"/>
<circle cx="153.63" cy="651.53" r="1.95"/>
<circle cx="146.01" cy="648.98" r="1.95"/>
<circle cx="163.37" cy="650.59" r="1.95"/>
<circle cx="143.65" cy="653.51" r="1.95"/>
<circle cx="142.40" cy="649.46" r="1.95"/>
<circle cx="159.35" cy="652.10" r="1.95"/>
<circle cx="159.20" cy="649.05" r="1.95"/>
<circle cx="142.40" cy="649.37" r="1.95"/>
<circle cx="142.54" cy="654.42" r="1.95"/>
<circle cx="167.55" cy="649.29" r="1.95"/>
<circle cx="153.48" cy="649.75" r="1.95"/>
<circle cx="144.74" cy="654.35" r="1.95"/>
<circle cx="142.71" cy="650.56" r="1.95"/>
<circle cx="167.69" cy="650.01" r="1.95"/>
<circle cx="143.34" cy="649.29" r="1.95"/>
<circle cx="135.94" cy="651.71" r="1.95"/>
<circle cx="162.62" cy="649.06" r="1.95"/>
<circle cx="145.90" cy="650.03" r="1.95"/>
<circle cx="132.70" cy="650.04" r="1.95"/>
<circle cx="167.78" cy="653.18" r="1.95"/>
<circle cx="144.56" cy="649.68" r="1.95"/>
<circle cx="136.64" cy="652.24" r="1.95"/>
<circle cx="148.30" cy="650.16" r="1.95"/>
<circle cx="146.52" cy="654.67" r="1.95"/>
<circle cx="176.45" cy="654.65" r="1.95"/>
<circle cx="176.70" cy="654.25" r="1.95"/>
<circle cx="177.94" cy="654.11" r="1.95"/>
<circle cx="175.09" cy="652.03" r="1.95"/>
<circle cx="176.41" cy="654.30" r="1.95"/>
<circle cx="179.33" cy="652.55" r="1.95"/>
<circle cx="121.10" cy="649.94" r="1.95"/>
<circle cx="121.10" cy="652.92" r="1.95"/>
<circle cx="121.10" cy="653.53" r="1.95"/>
<circle cx="121.10" cy="649.19" r="1.95"/>
<circle cx="121.10" cy="650.12" r="1.95"/>
<circle cx="121.10" cy="653.19" r="1.95"/>
</g>
<rect x="148.28" y="644.81" width="2.7" height="13.8" fill="#666666"/>
<g fill="#D95F02" fill-opacity="0.17" stroke="#D95F02" stroke-opacity="0.3" stroke-width="0.5">
<circle cx="150.54" cy="679.77" r="1.95"/>
<circle cx="137.71" cy="676.58" r="1.95"/>
<circle cx="167.01" cy="677.33" r="1.95"/>
<circle cx="142.01" cy="676.74" r="1.95"/>
<circle cx="159.81" cy="678.54" r="1.95"/>
<circle cx="152.47" cy="678.06" r="1.95"/>
<circle cx="128.08" cy="679.47" r="1.95"/>
<circle cx="153.68" cy="680.01" r="1.95"/>
<circle cx="140.39" cy="677.56" r="1.95"/>
<circle cx="137.06" cy="677.73" r="1.95"/>
<circle cx="154.47" cy="676.27" r="1.95"/>
<circle cx="134.10" cy="676.85" r="1.95"/>
<circle cx="151.22" cy="678.41" r="1.95"/>
<circle cx="159.85" cy="681.52" r="1.95"/>
<circle cx="165.34" cy="677.25" r="1.95"/>
<circle cx="151.24" cy="678.57" r="1.95"/>
<circle cx="143.14" cy="676.20" r="1.95"/>
<circle cx="149.84" cy="679.65" r="1.95"/>
<circle cx="130.63" cy="678.64" r="1.95"/>
<circle cx="134.88" cy="678.11" r="1.95"/>
<circle cx="132.19" cy="678.46" r="1.95"/>
<circle cx="140.95" cy="677.76" r="1.95"/>
<circle cx="151.81" cy="678.57" r="1.95"/>
<circle cx="145.02" cy="677.23" r="1.95"/>
<circle cx="138.31" cy="680.40" r="1.95"/>
<circle cx="151.81" cy="681.72" r="1.95"/>
<circle cx="158.58" cy="681.56" r="1.95"/>
<circle cx="161.58" cy="678.32" r="1.95"/>
<circle cx="144.73" cy="676.19" r="1.95"/>
<circle cx="149.23" cy="680.73" r="1.95"/>
<circle cx="139.74" cy="678.89" r="1.95"/>
<circle cx="129.91" cy="679.39" r="1.95"/>
<circle cx="142.81" cy="680.05" r="1.95"/>
<circle cx="148.96" cy="680.99" r="1.95"/>
<circle cx="134.47" cy="679.23" r="1.95"/>
<circle cx="133.41" cy="678.73" r="1.95"/>
<circle cx="153.44" cy="676.91" r="1.95"/>
<circle cx="142.09" cy="676.37" r="1.95"/>
<circle cx="136.90" cy="677.11" r="1.95"/>
<circle cx="142.02" cy="677.05" r="1.95"/>
<circle cx="158.28" cy="681.76" r="1.95"/>
<circle cx="154.95" cy="679.52" r="1.95"/>
<circle cx="148.76" cy="676.28" r="1.95"/>
<circle cx="142.58" cy="678.03" r="1.95"/>
<circle cx="140.75" cy="678.59" r="1.95"/>
<circle cx="146.35" cy="681.13" r="1.95"/>
<circle cx="153.32" cy="678.60" r="1.95"/>
<circle cx="134.46" cy="679.40" r="1.95"/>
<circle cx="155.82" cy="677.70" r="1.95"/>
<circle cx="152.88" cy="678.06" r="1.95"/>
<circle cx="134.77" cy="676.60" r="1.95"/>
<circle cx="140.66" cy="680.82" r="1.95"/>
<circle cx="152.69" cy="679.05" r="1.95"/>
<circle cx="155.26" cy="680.51" r="1.95"/>
<circle cx="146.06" cy="679.55" r="1.95"/>
<circle cx="144.80" cy="676.65" r="1.95"/>
<circle cx="135.85" cy="677.73" r="1.95"/>
<circle cx="155.61" cy="678.04" r="1.95"/>
<circle cx="134.92" cy="680.82" r="1.95"/>
<circle cx="161.78" cy="678.20" r="1.95"/>
<circle cx="128.37" cy="681.91" r="1.95"/>
<circle cx="139.37" cy="680.90" r="1.95"/>
<circle cx="148.94" cy="680.26" r="1.95"/>
<circle cx="149.26" cy="679.31" r="1.95"/>
<circle cx="165.95" cy="680.27" r="1.95"/>
<circle cx="151.70" cy="678.15" r="1.95"/>
<circle cx="147.55" cy="676.73" r="1.95"/>
<circle cx="159.90" cy="681.27" r="1.95"/>
<circle cx="150.84" cy="678.88" r="1.95"/>
<circle cx="140.43" cy="681.87" r="1.95"/>
<circle cx="133.51" cy="680.51" r="1.95"/>
<circle cx="152.71" cy="679.57" r="1.95"/>
<circle cx="142.15" cy="678.68" r="1.95"/>
<circle cx="146.52" cy="680.24" r="1.95"/>
<circle cx="165.03" cy="677.57" r="1.95"/>
<circle cx="155.63" cy="678.24" r="1.95"/>
<circle cx="134.46" cy="678.04" r="1.95"/>
<circle cx="130.41" cy="681.03" r="1.95"/>
<circle cx="134.90" cy="681.82" r="1.95"/>
<circle cx="140.85" cy="676.70" r="1.95"/>
<circle cx="136.79" cy="676.27" r="1.95"/>
<circle cx="151.82" cy="678.24" r="1.95"/>
<circle cx="132.27" cy="680.22" r="1.95"/>
<circle cx="148.81" cy="678.75" r="1.95"/>
<circle cx="154.07" cy="680.68" r="1.95"/>
<circle cx="150.67" cy="681.93" r="1.95"/>
<circle cx="150.47" cy="680.12" r="1.95"/>
<circle cx="142.15" cy="680.12" r="1.95"/>
<circle cx="135.32" cy="676.98" r="1.95"/>
<circle cx="155.03" cy="679.63" r="1.95"/>
<circle cx="140.66" cy="679.89" r="1.95"/>
<circle cx="153.86" cy="677.29" r="1.95"/>
<circle cx="156.28" cy="676.28" r="1.95"/>
<circle cx="165.60" cy="680.19" r="1.95"/>
<circle cx="149.47" cy="682.08" r="1.95"/>
<circle cx="153.14" cy="680.00" r="1.95"/>
<circle cx="141.33" cy="677.32" r="1.95"/>
<circle cx="165.64" cy="681.34" r="1.95"/>
<circle cx="143.59" cy="678.03" r="1.95"/>
<circle cx="140.44" cy="678.17" r="1.95"/>
<circle cx="145.95" cy="681.00" r="1.95"/>
<circle cx="145.75" cy="680.88" r="1.95"/>
<circle cx="143.29" cy="681.71" r="1.95"/>
<circle cx="143.71" cy="681.43" r="1.95"/>
<circle cx="165.35" cy="676.13" r="1.95"/>
<circle cx="144.65" cy="677.49" r="1.95"/>
<circle cx="138.84" cy="679.62" r="1.95"/>
<circle cx="167.88" cy="677.51" r="1.95"/>
<circle cx="169.57" cy="681.23" r="1.95"/>
<circle cx="172.72" cy="680.54" r="1.95"/>
<circle cx="170.26" cy="680.66" r="1.95"/>
<circle cx="172.02" cy="681.78" r="1.95"/>
<circle cx="169.69" cy="680.37" r="1.95"/>
<circle cx="180.10" cy="681.90" r="1.95"/>
<circle cx="193.41" cy="678.92" r="1.95"/>
<circle cx="176.77" cy="676.94" r="1.95"/>
<circle cx="121.10" cy="679.21" r="1.95"/>
<circle cx="121.10" cy="681.45" r="1.95"/>
<circle cx="121.10" cy="679.71" r="1.95"/>
<circle cx="121.10" cy="678.20" r="1.95"/>
<circle cx="121.10" cy="677.03" r="1.95"/>
<circle cx="121.10" cy="677.22" r="1.95"/>
</g>
<rect x="145.98" y="672.22" width="2.7" height="13.8" fill="#D95F02"/>
<g fill="#A6761D" fill-opacity="0.17" stroke="#A6761D" stroke-opacity="0.3" stroke-width="0.5">
<circle cx="163.24" cy="704.88" r="1.95"/>
<circle cx="147.42" cy="708.68" r="1.95"/>
<circle cx="145.92" cy="708.26" r="1.95"/>
<circle cx="143.25" cy="706.98" r="1.95"/>
<circle cx="142.80" cy="704.74" r="1.95"/>
<circle cx="176.74" cy="706.40" r="1.95"/>
<circle cx="140.63" cy="708.44" r="1.95"/>
<circle cx="167.27" cy="704.18" r="1.95"/>
<circle cx="152.53" cy="708.95" r="1.95"/>
<circle cx="151.79" cy="704.00" r="1.95"/>
<circle cx="166.13" cy="707.86" r="1.95"/>
<circle cx="136.69" cy="703.64" r="1.95"/>
<circle cx="152.13" cy="708.66" r="1.95"/>
<circle cx="156.21" cy="705.42" r="1.95"/>
<circle cx="154.81" cy="706.84" r="1.95"/>
<circle cx="152.90" cy="703.79" r="1.95"/>
<circle cx="160.67" cy="707.53" r="1.95"/>
<circle cx="157.65" cy="709.51" r="1.95"/>
<circle cx="164.78" cy="705.34" r="1.95"/>
<circle cx="162.44" cy="708.56" r="1.95"/>
<circle cx="148.38" cy="704.44" r="1.95"/>
<circle cx="159.89" cy="703.75" r="1.95"/>
<circle cx="141.35" cy="707.53" r="1.95"/>
<circle cx="172.74" cy="705.15" r="1.95"/>
<circle cx="159.48" cy="707.82" r="1.95"/>
<circle cx="135.90" cy="703.92" r="1.95"/>
<circle cx="160.48" cy="704.33" r="1.95"/>
<circle cx="163.36" cy="705.43" r="1.95"/>
<circle cx="176.26" cy="706.64" r="1.95"/>
<circle cx="168.33" cy="704.97" r="1.95"/>
<circle cx="144.23" cy="704.29" r="1.95"/>
<circle cx="127.46" cy="704.20" r="1.95"/>
<circle cx="147.66" cy="705.73" r="1.95"/>
<circle cx="139.94" cy="703.90" r="1.95"/>
<circle cx="140.97" cy="706.78" r="1.95"/>
<circle cx="163.26" cy="703.71" r="1.95"/>
<circle cx="136.31" cy="706.65" r="1.95"/>
<circle cx="169.52" cy="705.43" r="1.95"/>
<circle cx="145.22" cy="703.77" r="1.95"/>
<circle cx="163.37" cy="703.66" r="1.95"/>
<circle cx="155.88" cy="707.02" r="1.95"/>
<circle cx="161.50" cy="707.80" r="1.95"/>
<circle cx="163.70" cy="704.61" r="1.95"/>
<circle cx="129.77" cy="706.96" r="1.95"/>
<circle cx="152.86" cy="704.04" r="1.95"/>
<circle cx="153.99" cy="706.32" r="1.95"/>
<circle cx="169.12" cy="708.43" r="1.95"/>
<circle cx="164.00" cy="704.66" r="1.95"/>
<circle cx="171.97" cy="706.32" r="1.95"/>
<circle cx="143.64" cy="708.95" r="1.95"/>
<circle cx="148.41" cy="705.14" r="1.95"/>
<circle cx="141.47" cy="708.23" r="1.95"/>
<circle cx="135.86" cy="704.00" r="1.95"/>
<circle cx="143.35" cy="705.17" r="1.95"/>
<circle cx="130.47" cy="708.19" r="1.95"/>
<circle cx="144.55" cy="708.74" r="1.95"/>
<circle cx="146.03" cy="705.28" r="1.95"/>
<circle cx="157.80" cy="706.00" r="1.95"/>
<circle cx="143.58" cy="705.52" r="1.95"/>
<circle cx="153.57" cy="704.68" r="1.95"/>
<circle cx="171.10" cy="705.51" r="1.95"/>
<circle cx="154.17" cy="708.56" r="1.95"/>
<circle cx="154.87" cy="706.97" r="1.95"/>
<circle cx="168.00" cy="708.59" r="1.95"/>
<circle cx="173.40" cy="706.95" r="1.95"/>
<circle cx="171.42" cy="707.59" r="1.95"/>
<circle cx="152.99" cy="706.86" r="1.95"/>
<circle cx="172.19" cy="704.80" r="1.95"/>
<circle cx="139.07" cy="706.47" r="1.95"/>
<circle cx="162.05" cy="705.60" r="1.95"/>
<circle cx="140.14" cy="704.90" r="1.95"/>
<circle cx="164.20" cy="705.43" r="1.95"/>
<circle cx="129.53" cy="709.05" r="1.95"/>
<circle cx="132.74" cy="709.31" r="1.95"/>
<circle cx="133.33" cy="709.34" r="1.95"/>
<circle cx="148.62" cy="706.80" r="1.95"/>
<circle cx="160.19" cy="705.18" r="1.95"/>
<circle cx="140.83" cy="705.72" r="1.95"/>
<circle cx="150.48" cy="705.31" r="1.95"/>
<circle cx="150.95" cy="709.30" r="1.95"/>
<circle cx="133.70" cy="708.71" r="1.95"/>
<circle cx="134.06" cy="708.25" r="1.95"/>
<circle cx="138.65" cy="706.65" r="1.95"/>
<circle cx="163.97" cy="706.44" r="1.95"/>
<circle cx="136.27" cy="707.94" r="1.95"/>
<circle cx="140.29" cy="708.87" r="1.95"/>
<circle cx="141.02" cy="707.83" r="1.95"/>
<circle cx="133.84" cy="709.21" r="1.95"/>
<circle cx="171.66" cy="707.15" r="1.95"/>
<circle cx="152.30" cy="708.56" r="1.95"/>
<circle cx="167.21" cy="707.17" r="1.95"/>
<circle cx="154.16" cy="706.83" r="1.95"/>
<circle cx="147.08" cy="708.46" r="1.95"/>
<circle cx="155.34" cy="706.21" r="1.95"/>
<circle cx="158.04" cy="708.59" r="1.95"/>
<circle cx="129.11" cy="705.08" r="1.95"/>
<circle cx="138.52" cy="709.38" r="1.95"/>
<circle cx="148.45" cy="707.92" r="1.95"/>
<circle cx="161.36" cy="704.70" r="1.95"/>
<circle cx="138.61" cy="707.64" r="1.95"/>
<circle cx="142.38" cy="705.26" r="1.95"/>
<circle cx="169.86" cy="704.11" r="1.95"/>
<circle cx="150.02" cy="704.32" r="1.95"/>
<circle cx="157.77" cy="706.13" r="1.95"/>
<circle cx="176.09" cy="709.22" r="1.95"/>
<circle cx="164.13" cy="704.96" r="1.95"/>
<circle cx="171.34" cy="706.79" r="1.95"/>
<circle cx="162.77" cy="706.17" r="1.95"/>
<circle cx="152.93" cy="704.55" r="1.95"/>
<circle cx="134.30" cy="707.70" r="1.95"/>
<circle cx="133.62" cy="705.35" r="1.95"/>
<circle cx="150.00" cy="703.80" r="1.95"/>
<circle cx="137.16" cy="708.63" r="1.95"/>
<circle cx="168.07" cy="708.10" r="1.95"/>
<circle cx="149.03" cy="703.81" r="1.95"/>
<circle cx="154.53" cy="706.24" r="1.95"/>
<circle cx="141.49" cy="705.44" r="1.95"/>
<circle cx="145.57" cy="707.47" r="1.95"/>
<circle cx="145.65" cy="705.41" r="1.95"/>
<circle cx="159.86" cy="707.73" r="1.95"/>
<circle cx="153.04" cy="703.80" r="1.95"/>
<circle cx="158.09" cy="708.98" r="1.95"/>
<circle cx="165.80" cy="707.41" r="1.95"/>
<circle cx="142.83" cy="705.92" r="1.95"/>
<circle cx="157.52" cy="708.44" r="1.95"/>
<circle cx="172.03" cy="707.97" r="1.95"/>
<circle cx="164.93" cy="705.41" r="1.95"/>
<circle cx="133.71" cy="704.07" r="1.95"/>
<circle cx="155.48" cy="707.36" r="1.95"/>
<circle cx="127.25" cy="706.08" r="1.95"/>
<circle cx="163.60" cy="708.73" r="1.95"/>
<circle cx="154.21" cy="704.43" r="1.95"/>
<circle cx="148.83" cy="708.51" r="1.95"/>
<circle cx="166.82" cy="708.59" r="1.95"/>
<circle cx="153.05" cy="704.76" r="1.95"/>
<circle cx="153.99" cy="705.06" r="1.95"/>
<circle cx="155.09" cy="707.21" r="1.95"/>
<circle cx="177.28" cy="705.24" r="1.95"/>
<circle cx="154.55" cy="706.45" r="1.95"/>
<circle cx="140.92" cy="706.73" r="1.95"/>
<circle cx="151.25" cy="705.89" r="1.95"/>
<circle cx="162.11" cy="704.27" r="1.95"/>
<circle cx="135.69" cy="705.23" r="1.95"/>
<circle cx="173.73" cy="708.40" r="1.95"/>
<circle cx="159.50" cy="708.33" r="1.95"/>
<circle cx="162.28" cy="704.14" r="1.95"/>
<circle cx="139.44" cy="707.69" r="1.95"/>
<circle cx="161.07" cy="708.81" r="1.95"/>
<circle cx="145.20" cy="707.19" r="1.95"/>
<circle cx="157.31" cy="709.29" r="1.95"/>
<circle cx="161.90" cy="707.07" r="1.95"/>
<circle cx="163.59" cy="706.34" r="1.95"/>
<circle cx="133.23" cy="705.94" r="1.95"/>
<circle cx="152.73" cy="707.03" r="1.95"/>
<circle cx="155.08" cy="707.50" r="1.95"/>
<circle cx="177.24" cy="709.48" r="1.95"/>
<circle cx="166.42" cy="704.43" r="1.95"/>
<circle cx="155.65" cy="705.48" r="1.95"/>
<circle cx="150.39" cy="708.89" r="1.95"/>
<circle cx="142.94" cy="707.65" r="1.95"/>
<circle cx="169.99" cy="705.38" r="1.95"/>
<circle cx="163.37" cy="706.91" r="1.95"/>
<circle cx="171.36" cy="703.91" r="1.95"/>
<circle cx="176.57" cy="704.43" r="1.95"/>
<circle cx="164.86" cy="703.76" r="1.95"/>
<circle cx="171.04" cy="708.60" r="1.95"/>
<circle cx="160.39" cy="704.35" r="1.95"/>
<circle cx="147.68" cy="705.76" r="1.95"/>
<circle cx="147.08" cy="705.51" r="1.95"/>
<circle cx="145.47" cy="707.71" r="1.95"/>
<circle cx="160.57" cy="703.97" r="1.95"/>
<circle cx="146.02" cy="703.58" r="1.95"/>
<circle cx="148.59" cy="704.56" r="1.95"/>
<circle cx="175.78" cy="706.94" r="1.95"/>
<circle cx="155.54" cy="705.65" r="1.95"/>
<circle cx="137.98" cy="703.99" r="1.95"/>
<circle cx="166.98" cy="705.25" r="1.95"/>
<circle cx="132.37" cy="705.12" r="1.95"/>
<circle cx="160.04" cy="707.89" r="1.95"/>
<circle cx="156.98" cy="707.81" r="1.95"/>
<circle cx="151.05" cy="703.65" r="1.95"/>
<circle cx="168.15" cy="708.54" r="1.95"/>
<circle cx="138.37" cy="704.17" r="1.95"/>
<circle cx="129.77" cy="705.93" r="1.95"/>
<circle cx="136.71" cy="706.07" r="1.95"/>
<circle cx="152.84" cy="703.71" r="1.95"/>
<circle cx="139.51" cy="704.18" r="1.95"/>
<circle cx="168.95" cy="707.98" r="1.95"/>
<circle cx="147.41" cy="707.66" r="1.95"/>
<circle cx="166.27" cy="708.26" r="1.95"/>
<circle cx="155.59" cy="709.34" r="1.95"/>
<circle cx="145.75" cy="708.86" r="1.95"/>
<circle cx="172.29" cy="705.33" r="1.95"/>
<circle cx="138.35" cy="707.47" r="1.95"/>
<circle cx="145.19" cy="707.49" r="1.95"/>
<circle cx="137.95" cy="704.89" r="1.95"/>
<circle cx="135.54" cy="708.09" r="1.95"/>
<circle cx="133.23" cy="708.99" r="1.95"/>
<circle cx="140.64" cy="707.08" r="1.95"/>
<circle cx="153.90" cy="708.22" r="1.95"/>
<circle cx="157.16" cy="705.22" r="1.95"/>
<circle cx="155.03" cy="708.60" r="1.95"/>
<circle cx="168.14" cy="705.52" r="1.95"/>
<circle cx="150.31" cy="705.35" r="1.95"/>
<circle cx="131.97" cy="706.91" r="1.95"/>
<circle cx="144.32" cy="707.20" r="1.95"/>
<circle cx="151.71" cy="706.33" r="1.95"/>
<circle cx="154.94" cy="708.52" r="1.95"/>
<circle cx="137.53" cy="708.06" r="1.95"/>
<circle cx="154.58" cy="706.68" r="1.95"/>
<circle cx="142.34" cy="708.83" r="1.95"/>
<circle cx="175.49" cy="705.94" r="1.95"/>
<circle cx="167.86" cy="705.87" r="1.95"/>
<circle cx="150.15" cy="709.41" r="1.95"/>
<circle cx="150.73" cy="705.42" r="1.95"/>
<circle cx="145.70" cy="704.33" r="1.95"/>
<circle cx="145.81" cy="708.66" r="1.95"/>
<circle cx="144.05" cy="707.67" r="1.95"/>
<circle cx="143.76" cy="705.46" r="1.95"/>
<circle cx="152.71" cy="708.37" r="1.95"/>
<circle cx="150.60" cy="707.60" r="1.95"/>
<circle cx="145.62" cy="706.25" r="1.95"/>
<circle cx="152.50" cy="706.71" r="1.95"/>
<circle cx="144.62" cy="709.23" r="1.95"/>
<circle cx="162.00" cy="706.77" r="1.95"/>
<circle cx="149.54" cy="704.15" r="1.95"/>
<circle cx="161.57" cy="706.17" r="1.95"/>
<circle cx="141.51" cy="705.35" r="1.95"/>
<circle cx="142.58" cy="709.28" r="1.95"/>
<circle cx="163.63" cy="706.15" r="1.95"/>
<circle cx="149.96" cy="705.93" r="1.95"/>
<circle cx="149.55" cy="708.12" r="1.95"/>
<circle cx="153.66" cy="708.12" r="1.95"/>
<circle cx="130.48" cy="704.01" r="1.95"/>
<circle cx="131.31" cy="707.61" r="1.95"/>
<circle cx="143.66" cy="709.13" r="1.95"/>
<circle cx="170.33" cy="707.01" r="1.95"/>
<circle cx="141.12" cy="705.19" r="1.95"/>
<circle cx="150.88" cy="709.12" r="1.95"/>
<circle cx="140.92" cy="703.92" r="1.95"/>
<circle cx="159.59" cy="706.47" r="1.95"/>
<circle cx="147.82" cy="704.72" r="1.95"/>
<circle cx="166.35" cy="706.86" r="1.95"/>
<circle cx="159.36" cy="705.94" r="1.95"/>
<circle cx="155.71" cy="708.82" r="1.95"/>
<circle cx="149.32" cy="703.97" r="1.95"/>
<circle cx="147.99" cy="706.32" r="1.95"/>
<circle cx="164.53" cy="705.26" r="1.95"/>
<circle cx="156.46" cy="704.18" r="1.95"/>
<circle cx="156.59" cy="708.60" r="1.95"/>
<circle cx="160.55" cy="707.43" r="1.95"/>
<circle cx="138.26" cy="705.64" r="1.95"/>
<circle cx="134.45" cy="706.72" r="1.95"/>
<circle cx="153.59" cy="706.21" r="1.95"/>
<circle cx="188.66" cy="703.89" r="1.95"/>
<circle cx="183.79" cy="705.51" r="1.95"/>
<circle cx="190.03" cy="703.73" r="1.95"/>
<circle cx="223.05" cy="704.12" r="1.95"/>
<circle cx="200.75" cy="708.63" r="1.95"/>
<circle cx="228.19" cy="708.22" r="1.95"/>
<circle cx="203.47" cy="705.31" r="1.95"/>
<circle cx="183.99" cy="703.64" r="1.95"/>
<circle cx="217.22" cy="708.82" r="1.95"/>
<circle cx="184.18" cy="703.94" r="1.95"/>
<circle cx="213.70" cy="704.99" r="1.95"/>
<circle cx="229.05" cy="708.62" r="1.95"/>
<circle cx="216.17" cy="706.98" r="1.95"/>
<circle cx="219.71" cy="706.16" r="1.95"/>
<circle cx="199.84" cy="708.22" r="1.95"/>
<circle cx="181.24" cy="709.04" r="1.95"/>
<circle cx="121.10" cy="706.93" r="1.95"/>
<circle cx="121.10" cy="708.72" r="1.95"/>
<circle cx="121.10" cy="704.29" r="1.95"/>
<circle cx="121.10" cy="706.63" r="1.95"/>
<circle cx="121.10" cy="707.50" r="1.95"/>
<circle cx="121.10" cy="708.33" r="1.95"/>
<circle cx="121.10" cy="706.40" r="1.95"/>
<circle cx="121.10" cy="707.20" r="1.95"/>
<circle cx="121.10" cy="705.43" r="1.95"/>
<circle cx="121.10" cy="707.73" r="1.95"/>
<circle cx="121.10" cy="706.94" r="1.95"/>
<circle cx="121.10" cy="709.08" r="1.95"/>
<circle cx="121.10" cy="706.68" r="1.95"/>
<circle cx="121.10" cy="704.93" r="1.95"/>
<circle cx="121.10" cy="708.05" r="1.95"/>
<circle cx="121.10" cy="706.28" r="1.95"/>
<circle cx="121.10" cy="704.61" r="1.95"/>
<circle cx="121.10" cy="708.93" r="1.95"/>
<circle cx="121.10" cy="706.51" r="1.95"/>
<circle cx="121.10" cy="704.80" r="1.95"/>
<circle cx="121.10" cy="704.98" r="1.95"/>
<circle cx="121.10" cy="705.25" r="1.95"/>
<circle cx="121.10" cy="708.75" r="1.95"/>
<circle cx="121.10" cy="708.16" r="1.95"/>
</g>
<rect x="150.59" y="699.63" width="2.7" height="13.8" fill="#A6761D"/>
<g fill="#7570B3" fill-opacity="0.17" stroke="#7570B3" stroke-opacity="0.3" stroke-width="0.5">
<circle cx="161.29" cy="735.13" r="1.95"/>
<circle cx="146.68" cy="735.01" r="1.95"/>
<circle cx="172.60" cy="736.56" r="1.95"/>
<circle cx="159.74" cy="733.93" r="1.95"/>
<circle cx="147.82" cy="736.04" r="1.95"/>
<circle cx="161.49" cy="733.96" r="1.95"/>
<circle cx="172.26" cy="736.87" r="1.95"/>
<circle cx="134.32" cy="731.94" r="1.95"/>
<circle cx="151.13" cy="732.74" r="1.95"/>
<circle cx="175.31" cy="735.56" r="1.95"/>
<circle cx="141.57" cy="733.47" r="1.95"/>
<circle cx="138.54" cy="734.32" r="1.95"/>
<circle cx="147.97" cy="736.26" r="1.95"/>
<circle cx="151.14" cy="732.22" r="1.95"/>
<circle cx="131.21" cy="731.33" r="1.95"/>
<circle cx="139.33" cy="731.04" r="1.95"/>
<circle cx="148.09" cy="734.65" r="1.95"/>
<circle cx="134.23" cy="736.61" r="1.95"/>
<circle cx="168.52" cy="732.38" r="1.95"/>
<circle cx="144.05" cy="733.97" r="1.95"/>
<circle cx="129.83" cy="733.51" r="1.95"/>
<circle cx="165.02" cy="733.90" r="1.95"/>
<circle cx="163.57" cy="735.88" r="1.95"/>
<circle cx="158.02" cy="736.25" r="1.95"/>
<circle cx="169.10" cy="734.45" r="1.95"/>
<circle cx="149.73" cy="733.78" r="1.95"/>
<circle cx="142.73" cy="736.38" r="1.95"/>
<circle cx="153.05" cy="733.60" r="1.95"/>
<circle cx="137.24" cy="732.76" r="1.95"/>
<circle cx="172.38" cy="733.81" r="1.95"/>
<circle cx="170.78" cy="734.91" r="1.95"/>
<circle cx="157.98" cy="732.35" r="1.95"/>
<circle cx="141.23" cy="735.41" r="1.95"/>
<circle cx="174.51" cy="733.18" r="1.95"/>
<circle cx="154.29" cy="731.30" r="1.95"/>
<circle cx="165.20" cy="735.13" r="1.95"/>
<circle cx="154.23" cy="736.25" r="1.95"/>
<circle cx="155.13" cy="736.40" r="1.95"/>
<circle cx="140.53" cy="736.83" r="1.95"/>
<circle cx="147.52" cy="731.23" r="1.95"/>
<circle cx="141.99" cy="736.78" r="1.95"/>
<circle cx="137.91" cy="736.34" r="1.95"/>
<circle cx="145.02" cy="736.28" r="1.95"/>
<circle cx="162.92" cy="730.99" r="1.95"/>
<circle cx="154.89" cy="734.97" r="1.95"/>
<circle cx="131.54" cy="732.13" r="1.95"/>
<circle cx="168.15" cy="736.35" r="1.95"/>
<circle cx="150.50" cy="732.59" r="1.95"/>
<circle cx="121.10" cy="731.64" r="1.95"/>
</g>
<rect x="145.72" y="727.04" width="2.7" height="13.8" fill="#7570B3"/>
<g fill="#E6AB02" fill-opacity="0.17" stroke="#E6AB02" stroke-opacity="0.3" stroke-width="0.5">
<circle cx="156.56" cy="760.21" r="1.95"/>
<circle cx="131.61" cy="761.17" r="1.95"/>
<circle cx="153.81" cy="758.71" r="1.95"/>
<circle cx="147.88" cy="760.16" r="1.95"/>
<circle cx="141.57" cy="758.38" r="1.95"/>
<circle cx="141.55" cy="759.08" r="1.95"/>
<circle cx="140.56" cy="762.30" r="1.95"/>
<circle cx="146.78" cy="761.69" r="1.95"/>
<circle cx="147.26" cy="761.12" r="1.95"/>
<circle cx="138.12" cy="758.50" r="1.95"/>
<circle cx="152.86" cy="762.90" r="1.95"/>
<circle cx="160.33" cy="758.94" r="1.95"/>
<circle cx="156.39" cy="762.54" r="1.95"/>
<circle cx="147.20" cy="760.79" r="1.95"/>
<circle cx="140.88" cy="763.58" r="1.95"/>
<circle cx="126.80" cy="758.93" r="1.95"/>
<circle cx="150.78" cy="760.46" r="1.95"/>
<circle cx="144.85" cy="758.60" r="1.95"/>
<circle cx="134.66" cy="763.97" r="1.95"/>
<circle cx="137.93" cy="762.04" r="1.95"/>
<circle cx="162.17" cy="760.38" r="1.95"/>
<circle cx="151.84" cy="759.32" r="1.95"/>
<circle cx="137.08" cy="763.70" r="1.95"/>
<circle cx="158.54" cy="760.48" r="1.95"/>
<circle cx="173.39" cy="759.10" r="1.95"/>
<circle cx="160.84" cy="761.16" r="1.95"/>
<circle cx="158.34" cy="760.53" r="1.95"/>
<circle cx="127.17" cy="763.26" r="1.95"/>
<circle cx="139.83" cy="758.71" r="1.95"/>
<circle cx="146.72" cy="762.95" r="1.95"/>
<circle cx="143.83" cy="763.68" r="1.95"/>
<circle cx="150.89" cy="758.71" r="1.95"/>
<circle cx="140.59" cy="762.43" r="1.95"/>
<circle cx="168.51" cy="762.71" r="1.95"/>
<circle cx="144.76" cy="762.90" r="1.95"/>
<circle cx="139.63" cy="763.56" r="1.95"/>
<circle cx="168.58" cy="761.15" r="1.95"/>
<circle cx="139.19" cy="762.23" r="1.95"/>
<circle cx="142.51" cy="761.87" r="1.95"/>
<circle cx="169.17" cy="761.00" r="1.95"/>
<circle cx="160.23" cy="759.15" r="1.95"/>
<circle cx="156.21" cy="761.61" r="1.95"/>
<circle cx="147.72" cy="761.51" r="1.95"/>
<circle cx="138.86" cy="760.42" r="1.95"/>
<circle cx="132.82" cy="762.73" r="1.95"/>
<circle cx="145.71" cy="763.67" r="1.95"/>
<circle cx="159.38" cy="761.40" r="1.95"/>
<circle cx="168.94" cy="760.62" r="1.95"/>
<circle cx="134.43" cy="761.41" r="1.95"/>
<circle cx="151.84" cy="762.78" r="1.95"/>
<circle cx="121.10" cy="760.32" r="1.95"/>
<circle cx="121.10" cy="763.04" r="1.95"/>
<circle cx="121.10" cy="762.19" r="1.95"/>
</g>
<rect x="148.54" y="754.45" width="2.7" height="13.8" fill="#E6AB02"/>
<g fill="#E7298A" fill-opacity="0.17" stroke="#E7298A" stroke-opacity="0.3" stroke-width="0.5">
<circle cx="163.12" cy="787.61" r="1.95"/>
<circle cx="152.90" cy="789.69" r="1.95"/>
<circle cx="133.82" cy="791.06" r="1.95"/>
<circle cx="141.40" cy="788.45" r="1.95"/>
<circle cx="140.81" cy="791.10" r="1.95"/>
<circle cx="157.25" cy="790.34" r="1.95"/>
<circle cx="154.41" cy="787.33" r="1.95"/>
<circle cx="163.96" cy="786.17" r="1.95"/>
<circle cx="148.23" cy="787.66" r="1.95"/>
<circle cx="152.40" cy="789.33" r="1.95"/>
<circle cx="149.95" cy="789.25" r="1.95"/>
<circle cx="132.92" cy="786.73" r="1.95"/>
<circle cx="137.66" cy="789.87" r="1.95"/>
<circle cx="147.50" cy="787.67" r="1.95"/>
<circle cx="142.01" cy="788.06" r="1.95"/>
<circle cx="155.14" cy="786.44" r="1.95"/>
<circle cx="161.69" cy="790.02" r="1.95"/>
<circle cx="164.82" cy="787.26" r="1.95"/>
<circle cx="168.63" cy="786.98" r="1.95"/>
<circle cx="139.68" cy="791.13" r="1.95"/>
<circle cx="162.75" cy="787.76" r="1.95"/>
<circle cx="170.70" cy="790.61" r="1.95"/>
<circle cx="144.35" cy="786.11" r="1.95"/>
<circle cx="146.18" cy="788.78" r="1.95"/>
<circle cx="134.80" cy="789.63" r="1.95"/>
<circle cx="140.84" cy="789.99" r="1.95"/>
<circle cx="156.55" cy="788.55" r="1.95"/>
<circle cx="157.14" cy="786.79" r="1.95"/>
<circle cx="161.02" cy="789.02" r="1.95"/>
<circle cx="141.13" cy="791.06" r="1.95"/>
<circle cx="148.78" cy="787.53" r="1.95"/>
<circle cx="147.74" cy="788.20" r="1.95"/>
<circle cx="156.72" cy="789.74" r="1.95"/>
<circle cx="155.23" cy="787.87" r="1.95"/>
<circle cx="139.75" cy="789.66" r="1.95"/>
<circle cx="149.29" cy="788.26" r="1.95"/>
<circle cx="166.28" cy="786.74" r="1.95"/>
<circle cx="143.99" cy="788.63" r="1.95"/>
<circle cx="148.17" cy="786.13" r="1.95"/>
<circle cx="135.85" cy="786.24" r="1.95"/>
<circle cx="142.77" cy="788.34" r="1.95"/>
<circle cx="159.85" cy="787.81" r="1.95"/>
<circle cx="138.47" cy="790.58" r="1.95"/>
<circle cx="139.13" cy="786.08" r="1.95"/>
<circle cx="163.64" cy="787.84" r="1.95"/>
<circle cx="139.37" cy="789.37" r="1.95"/>
<circle cx="171.06" cy="789.18" r="1.95"/>
<circle cx="152.23" cy="789.48" r="1.95"/>
<circle cx="131.69" cy="789.22" r="1.95"/>
<circle cx="164.06" cy="791.55" r="1.95"/>
<circle cx="136.44" cy="787.10" r="1.95"/>
<circle cx="181.63" cy="788.80" r="1.95"/>
<circle cx="121.10" cy="786.55" r="1.95"/>
<circle cx="121.10" cy="790.13" r="1.95"/>
<circle cx="121.10" cy="789.01" r="1.95"/>
</g>
<rect x="143.16" y="781.86" width="2.7" height="13.8" fill="#E7298A"/>
<g fill="#66A61E" fill-opacity="0.17" stroke="#66A61E" stroke-opacity="0.3" stroke-width="0.5">
<circle cx="138.74" cy="816.40" r="1.95"/>
<circle cx="127.77" cy="818.14" r="1.95"/>
<circle cx="131.95" cy="819.17" r="1.95"/>
<circle cx="135.76" cy="817.48" r="1.95"/>
<circle cx="147.34" cy="813.18" r="1.95"/>
<circle cx="128.89" cy="818.61" r="1.95"/>
<circle cx="151.63" cy="816.72" r="1.95"/>
<circle cx="167.03" cy="813.94" r="1.95"/>
<circle cx="143.48" cy="817.38" r="1.95"/>
<circle cx="146.25" cy="818.80" r="1.95"/>
<circle cx="140.48" cy="814.81" r="1.95"/>
<circle cx="147.33" cy="816.61" r="1.95"/>
<circle cx="152.67" cy="816.94" r="1.95"/>
<circle cx="145.05" cy="816.80" r="1.95"/>
<circle cx="137.73" cy="815.19" r="1.95"/>
<circle cx="150.78" cy="816.47" r="1.95"/>
<circle cx="154.36" cy="818.70" r="1.95"/>
<circle cx="170.27" cy="816.48" r="1.95"/>
<circle cx="141.17" cy="814.18" r="1.95"/>
<circle cx="148.50" cy="816.60" r="1.95"/>
<circle cx="128.71" cy="817.64" r="1.95"/>
<circle cx="148.26" cy="813.63" r="1.95"/>
<circle cx="144.01" cy="818.34" r="1.95"/>
<circle cx="139.18" cy="816.02" r="1.95"/>
<circle cx="150.28" cy="814.46" r="1.95"/>
<circle cx="135.24" cy="814.51" r="1.95"/>
<circle cx="139.99" cy="813.65" r="1.95"/>
<circle cx="139.84" cy="818.27" r="1.95"/>
<circle cx="146.41" cy="818.09" r="1.95"/>
<circle cx="165.71" cy="815.66" r="1.95"/>
<circle cx="133.05" cy="819.09" r="1.95"/>
<circle cx="150.93" cy="814.51" r="1.95"/>
<circle cx="139.94" cy="813.19" r="1.95"/>
<circle cx="164.47" cy="818.15" r="1.95"/>
<circle cx="150.41" cy="817.73" r="1.95"/>
<circle cx="144.41" cy="814.26" r="1.95"/>
<circle cx="139.80" cy="815.09" r="1.95"/>
<circle cx="140.87" cy="813.65" r="1.95"/>
<circle cx="138.16" cy="816.51" r="1.95"/>
<circle cx="157.00" cy="816.36" r="1.95"/>
<circle cx="144.17" cy="816.96" r="1.95"/>
<circle cx="139.15" cy="818.23" r="1.95"/>
<circle cx="160.55" cy="818.25" r="1.95"/>
<circle cx="138.45" cy="815.23" r="1.95"/>
<circle cx="130.08" cy="815.69" r="1.95"/>
<circle cx="161.00" cy="814.08" r="1.95"/>
<circle cx="137.88" cy="816.67" r="1.95"/>
<circle cx="140.69" cy="815.50" r="1.95"/>
<circle cx="149.09" cy="817.34" r="1.95"/>
<circle cx="164.86" cy="814.99" r="1.95"/>
<circle cx="148.61" cy="815.33" r="1.95"/>
<circle cx="163.27" cy="817.07" r="1.95"/>
<circle cx="143.00" cy="814.07" r="1.95"/>
<circle cx="129.76" cy="814.59" r="1.95"/>
<circle cx="145.06" cy="816.52" r="1.95"/>
<circle cx="145.11" cy="817.16" r="1.95"/>
<circle cx="138.66" cy="813.90" r="1.95"/>
<circle cx="162.07" cy="815.63" r="1.95"/>
<circle cx="144.35" cy="815.89" r="1.95"/>
<circle cx="146.29" cy="815.61" r="1.95"/>
<circle cx="132.73" cy="813.58" r="1.95"/>
<circle cx="142.37" cy="817.29" r="1.95"/>
<circle cx="146.39" cy="817.36" r="1.95"/>
<circle cx="165.27" cy="814.65" r="1.95"/>
<circle cx="140.66" cy="816.39" r="1.95"/>
<circle cx="154.10" cy="818.14" r="1.95"/>
<circle cx="142.84" cy="817.62" r="1.95"/>
<circle cx="153.71" cy="813.23" r="1.95"/>
<circle cx="133.86" cy="815.08" r="1.95"/>
<circle cx="153.31" cy="814.50" r="1.95"/>
<circle cx="136.77" cy="818.38" r="1.95"/>
<circle cx="140.08" cy="817.36" r="1.95"/>
<circle cx="141.42" cy="817.67" r="1.95"/>
<circle cx="158.86" cy="813.25" r="1.95"/>
<circle cx="151.95" cy="817.64" r="1.95"/>
<circle cx="145.35" cy="814.02" r="1.95"/>
<circle cx="156.75" cy="814.28" r="1.95"/>
<circle cx="142.44" cy="815.96" r="1.95"/>
<circle cx="134.96" cy="816.82" r="1.95"/>
<circle cx="151.35" cy="814.69" r="1.95"/>
<circle cx="157.35" cy="818.34" r="1.95"/>
<circle cx="137.66" cy="817.55" r="1.95"/>
<circle cx="152.49" cy="818.96" r="1.95"/>
<circle cx="136.62" cy="814.04" r="1.95"/>
<circle cx="161.55" cy="816.00" r="1.95"/>
<circle cx="145.28" cy="815.37" r="1.95"/>
<circle cx="143.13" cy="815.55" r="1.95"/>
<circle cx="146.92" cy="813.77" r="1.95"/>
<circle cx="137.56" cy="818.60" r="1.95"/>
<circle cx="147.30" cy="813.92" r="1.95"/>
<circle cx="158.62" cy="813.48" r="1.95"/>
<circle cx="137.72" cy="813.27" r="1.95"/>
<circle cx="165.63" cy="817.92" r="1.95"/>
<circle cx="151.52" cy="818.39" r="1.95"/>
<circle cx="157.81" cy="815.11" r="1.95"/>
<circle cx="143.20" cy="814.31" r="1.95"/>
<circle cx="144.14" cy="814.85" r="1.95"/>
<circle cx="167.36" cy="815.76" r="1.95"/>
<circle cx="145.71" cy="816.85" r="1.95"/>
<circle cx="147.63" cy="814.77" r="1.95"/>
<circle cx="152.15" cy="817.61" r="1.95"/>
<circle cx="148.22" cy="817.58" r="1.95"/>
<circle cx="149.96" cy="818.74" r="1.95"/>
<circle cx="145.65" cy="818.81" r="1.95"/>
<circle cx="128.54" cy="817.64" r="1.95"/>
<circle cx="150.01" cy="818.82" r="1.95"/>
<circle cx="140.15" cy="817.85" r="1.95"/>
<circle cx="166.64" cy="815.49" r="1.95"/>
<circle cx="147.31" cy="813.32" r="1.95"/>
<circle cx="130.94" cy="814.46" r="1.95"/>
<circle cx="143.33" cy="818.84" r="1.95"/>
<circle cx="151.80" cy="817.14" r="1.95"/>
<circle cx="142.53" cy="818.08" r="1.95"/>
<circle cx="161.21" cy="813.51" r="1.95"/>
<circle cx="139.98" cy="817.88" r="1.95"/>
<circle cx="153.80" cy="814.85" r="1.95"/>
<circle cx="153.33" cy="814.94" r="1.95"/>
<circle cx="143.37" cy="815.79" r="1.95"/>
<circle cx="161.39" cy="818.17" r="1.95"/>
<circle cx="161.01" cy="817.42" r="1.95"/>
<circle cx="129.31" cy="819.10" r="1.95"/>
<circle cx="139.76" cy="813.21" r="1.95"/>
<circle cx="166.56" cy="815.79" r="1.95"/>
<circle cx="208.07" cy="816.88" r="1.95"/>
<circle cx="219.93" cy="815.86" r="1.95"/>
<circle cx="172.41" cy="815.51" r="1.95"/>
<circle cx="205.66" cy="818.56" r="1.95"/>
<circle cx="192.83" cy="816.22" r="1.95"/>
<circle cx="184.68" cy="814.08" r="1.95"/>
<circle cx="192.44" cy="815.50" r="1.95"/>
<circle cx="211.84" cy="815.55" r="1.95"/>
<circle cx="194.49" cy="814.88" r="1.95"/>
<circle cx="218.52" cy="813.77" r="1.95"/>
<circle cx="218.84" cy="818.19" r="1.95"/>
<circle cx="201.65" cy="817.36" r="1.95"/>
<circle cx="176.61" cy="819.01" r="1.95"/>
<circle cx="177.19" cy="817.31" r="1.95"/>
<circle cx="121.10" cy="816.16" r="1.95"/>
<circle cx="121.10" cy="818.36" r="1.95"/>
<circle cx="121.10" cy="816.76" r="1.95"/>
<circle cx="121.10" cy="818.17" r="1.95"/>
<circle cx="121.10" cy="818.19" r="1.95"/>
</g>
<rect x="144.19" y="809.27" width="2.7" height="13.8" fill="#66A61E"/>
<rect x="121.1" y="607.9" width="134.1" height="224.80" fill="none" stroke="#333333" stroke-width="1.2"/>
<line x1="117.89999999999999" y1="624.30" x2="121.1" y2="624.30" stroke="#333333" stroke-width="1.25"/>
<line x1="117.89999999999999" y1="651.71" x2="121.1" y2="651.71" stroke="#333333" stroke-width="1.25"/>
<line x1="117.89999999999999" y1="679.12" x2="121.1" y2="679.12" stroke="#333333" stroke-width="1.25"/>
<line x1="117.89999999999999" y1="706.53" x2="121.1" y2="706.53" stroke="#333333" stroke-width="1.25"/>
<line x1="117.89999999999999" y1="733.94" x2="121.1" y2="733.94" stroke="#333333" stroke-width="1.25"/>
<line x1="117.89999999999999" y1="761.35" x2="121.1" y2="761.35" stroke="#333333" stroke-width="1.25"/>
<line x1="117.89999999999999" y1="788.76" x2="121.1" y2="788.76" stroke="#333333" stroke-width="1.25"/>
<line x1="117.89999999999999" y1="816.17" x2="121.1" y2="816.17" stroke="#333333" stroke-width="1.25"/>
<line x1="126.85" y1="832.7" x2="126.85" y2="835.90" stroke="#333333" stroke-width="1.25"/>
<text x="119.09" y="844.20" textLength="15.57" lengthAdjust="spacingAndGlyphs" style='font-family:"Liberation Sans",sans-serif;font-size:8.5px;' fill="#333333" stroke="#333333" stroke-width="0.25">0.01</text>
<line x1="152.45" y1="832.7" x2="152.45" y2="835.90" stroke="#333333" stroke-width="1.25"/>
<text x="144.65" y="844.20" textLength="15.57" lengthAdjust="spacingAndGlyphs" style='font-family:"Liberation Sans",sans-serif;font-size:8.5px;' fill="#333333" stroke="#333333" stroke-width="0.25">0.10</text>
<line x1="178.05" y1="832.7" x2="178.05" y2="835.90" stroke="#333333" stroke-width="1.25"/>
<text x="175.71" y="844.20" textLength="4.45" lengthAdjust="spacingAndGlyphs" style='font-family:"Liberation Sans",sans-serif;font-size:8.5px;' fill="#333333" stroke="#333333" stroke-width="0.25">1</text>
<line x1="203.65" y1="832.7" x2="203.65" y2="835.90" stroke="#333333" stroke-width="1.25"/>
<text x="199.05" y="844.20" textLength="8.90" lengthAdjust="spacingAndGlyphs" style='font-family:"Liberation Sans",sans-serif;font-size:8.5px;' fill="#333333" stroke="#333333" stroke-width="0.25">10</text>
<line x1="229.25" y1="832.7" x2="229.25" y2="835.90" stroke="#333333" stroke-width="1.25"/>
<text x="222.43" y="844.20" textLength="13.35" lengthAdjust="spacingAndGlyphs" style='font-family:"Liberation Sans",sans-serif;font-size:8.5px;' fill="#333333" stroke="#333333" stroke-width="0.25">100</text>
<text x="180.71" y="854.30" textLength="16.25" lengthAdjust="spacingAndGlyphs" style='font-family:"Liberation Sans",sans-serif;font-size:8.0px;' fill="#111111" stroke="#111111" stroke-width="0.25">TPM</text>
<text x="166.61" y="601.00" textLength="42.10" lengthAdjust="spacingAndGlyphs" style='font-family:"Liberation Sans",sans-serif;font-size:13.2px;font-style:italic;' fill="#000" stroke="#000" stroke-width="0.25">SSTR3</text>
<line x1="282.75" y1="607.9" x2="282.75" y2="832.7" stroke="#EBEBEB" stroke-width="0.75"/>
<line x1="308.35" y1="607.9" x2="308.35" y2="832.7" stroke="#EBEBEB" stroke-width="0.75"/>
<line x1="333.95" y1="607.9" x2="333.95" y2="832.7" stroke="#EBEBEB" stroke-width="0.75"/>
<line x1="359.55" y1="607.9" x2="359.55" y2="832.7" stroke="#EBEBEB" stroke-width="0.75"/>
<line x1="385.15" y1="607.9" x2="385.15" y2="832.7" stroke="#EBEBEB" stroke-width="0.75"/>
<line x1="269.95" y1="607.9" x2="269.95" y2="832.7" stroke="#EBEBEB" stroke-width="1.0"/>
<line x1="295.55" y1="607.9" x2="295.55" y2="832.7" stroke="#EBEBEB" stroke-width="1.0"/>
<line x1="321.15" y1="607.9" x2="321.15" y2="832.7" stroke="#EBEBEB" stroke-width="1.0"/>
<line x1="346.75" y1="607.9" x2="346.75" y2="832.7" stroke="#EBEBEB" stroke-width="1.0"/>
<line x1="372.35" y1="607.9" x2="372.35" y2="832.7" stroke="#EBEBEB" stroke-width="1.0"/>
<line x1="264.2" y1="624.30" x2="398.29999999999995" y2="624.30" stroke="#EBEBEB" stroke-width="1.0"/>
<line x1="264.2" y1="651.71" x2="398.29999999999995" y2="651.71" stroke="#EBEBEB" stroke-width="1.0"/>
<line x1="264.2" y1="679.12" x2="398.29999999999995" y2="679.12" stroke="#EBEBEB" stroke-width="1.0"/>
<line x1="264.2" y1="706.53" x2="398.29999999999995" y2="706.53" stroke="#EBEBEB" stroke-width="1.0"/>
<line x1="264.2" y1="733.94" x2="398.29999999999995" y2="733.94" stroke="#EBEBEB" stroke-width="1.0"/>
<line x1="264.2" y1="761.35" x2="398.29999999999995" y2="761.35" stroke="#EBEBEB" stroke-width="1.0"/>
<line x1="264.2" y1="788.76" x2="398.29999999999995" y2="788.76" stroke="#EBEBEB" stroke-width="1.0"/>
<line x1="264.2" y1="816.17" x2="398.29999999999995" y2="816.17" stroke="#EBEBEB" stroke-width="1.0"/>
<g fill="#1B9E77" fill-opacity="0.17" stroke="#1B9E77" stroke-opacity="0.3" stroke-width="0.5">
<circle cx="330.70" cy="626.95" r="1.95"/>
<circle cx="360.93" cy="623.57" r="1.95"/>
<circle cx="338.92" cy="623.99" r="1.95"/>
<circle cx="355.91" cy="626.55" r="1.95"/>
<circle cx="360.22" cy="622.31" r="1.95"/>
<circle cx="330.79" cy="626.69" r="1.95"/>
<circle cx="340.38" cy="626.20" r="1.95"/>
<circle cx="354.91" cy="623.14" r="1.95"/>
<circle cx="351.55" cy="621.32" r="1.95"/>
<circle cx="348.90" cy="624.47" r="1.95"/>
<circle cx="324.52" cy="622.48" r="1.95"/>
<circle cx="344.12" cy="622.42" r="1.95"/>
<circle cx="330.60" cy="623.60" r="1.95"/>
<circle cx="359.41" cy="623.74" r="1.95"/>
<circle cx="325.03" cy="625.77" r="1.95"/>
<circle cx="362.64" cy="625.47" r="1.95"/>
<circle cx="349.41" cy="626.13" r="1.95"/>
<circle cx="343.56" cy="625.97" r="1.95"/>
<circle cx="331.83" cy="623.70" r="1.95"/>
<circle cx="351.01" cy="623.39" r="1.95"/>
<circle cx="321.91" cy="623.58" r="1.95"/>
<circle cx="339.72" cy="624.45" r="1.95"/>
<circle cx="346.24" cy="624.20" r="1.95"/>
<circle cx="357.20" cy="624.71" r="1.95"/>
<circle cx="343.85" cy="626.80" r="1.95"/>
<circle cx="264.20" cy="623.56" r="1.95"/>
</g>
<rect x="339.77" y="617.40" width="2.7" height="13.8" fill="#1B9E77"/>
<g fill="#666666" fill-opacity="0.17" stroke="#666666" stroke-opacity="0.3" stroke-width="0.5">
<circle cx="317.40" cy="649.71" r="1.95"/>
<circle cx="325.10" cy="648.79" r="1.95"/>
<circle cx="329.33" cy="648.94" r="1.95"/>
<circle cx="319.79" cy="649.95" r="1.95"/>
<circle cx="321.53" cy="650.06" r="1.95"/>
<circle cx="321.33" cy="653.41" r="1.95"/>
<circle cx="362.77" cy="651.77" r="1.95"/>
<circle cx="342.56" cy="653.95" r="1.95"/>
<circle cx="349.49" cy="650.88" r="1.95"/>
<circle cx="329.00" cy="649.61" r="1.95"/>
<circle cx="334.48" cy="650.44" r="1.95"/>
<circle cx="344.06" cy="649.86" r="1.95"/>
<circle cx="352.04" cy="653.32" r="1.95"/>
<circle cx="328.13" cy="654.34" r="1.95"/>
<circle cx="342.25" cy="651.98" r="1.95"/>
<circle cx="342.37" cy="652.03" r="1.95"/>
<circle cx="343.87" cy="652.09" r="1.95"/>
<circle cx="338.43" cy="652.90" r="1.95"/>
<circle cx="358.39" cy="653.70" r="1.95"/>
<circle cx="361.84" cy="653.66" r="1.95"/>
<circle cx="355.40" cy="651.38" r="1.95"/>
<circle cx="345.47" cy="651.72" r="1.95"/>
<circle cx="318.59" cy="651.50" r="1.95"/>
<circle cx="327.07" cy="649.69" r="1.95"/>
<circle cx="358.33" cy="649.15" r="1.95"/>
<circle cx="360.70" cy="653.64" r="1.95"/>
<circle cx="311.94" cy="651.36" r="1.95"/>
<circle cx="357.99" cy="649.75" r="1.95"/>
<circle cx="331.96" cy="648.95" r="1.95"/>
<circle cx="326.81" cy="648.85" r="1.95"/>
<circle cx="335.73" cy="651.29" r="1.95"/>
<circle cx="339.31" cy="652.14" r="1.95"/>
<circle cx="329.20" cy="654.21" r="1.95"/>
<circle cx="337.58" cy="653.26" r="1.95"/>
<circle cx="347.21" cy="651.13" r="1.95"/>
<circle cx="330.15" cy="652.23" r="1.95"/>
<circle cx="350.75" cy="648.83" r="1.95"/>
<circle cx="318.84" cy="649.68" r="1.95"/>
<circle cx="346.58" cy="651.34" r="1.95"/>
<circle cx="350.24" cy="652.25" r="1.95"/>
<circle cx="316.53" cy="652.78" r="1.95"/>
<circle cx="333.06" cy="654.23" r="1.95"/>
<circle cx="359.09" cy="650.87" r="1.95"/>
<circle cx="290.69" cy="651.07" r="1.95"/>
<circle cx="298.75" cy="649.56" r="1.95"/>
<circle cx="264.20" cy="650.57" r="1.95"/>
<circle cx="264.20" cy="650.10" r="1.95"/>
<circle cx="264.20" cy="653.39" r="1.95"/>
<circle cx="264.20" cy="652.35" r="1.95"/>
</g>
<rect x="330.55" y="644.81" width="2.7" height="13.8" fill="#666666"/>
<g fill="#D95F02" fill-opacity="0.17" stroke="#D95F02" stroke-opacity="0.3" stroke-width="0.5">
<circle cx="298.38" cy="677.21" r="1.95"/>
<circle cx="295.81" cy="681.59" r="1.95"/>
<circle cx="306.86" cy="680.55" r="1.95"/>
<circle cx="300.94" cy="677.56" r="1.95"/>
<circle cx="335.72" cy="676.37" r="1.95"/>
<circle cx="335.10" cy="678.06" r="1.95"/>
<circle cx="303.44" cy="678.68" r="1.95"/>
<circle cx="303.07" cy="677.61" r="1.95"/>
<circle cx="303.67" cy="678.40" r="1.95"/>
<circle cx="310.95" cy="678.87" r="1.95"/>
<circle cx="312.64" cy="677.41" r="1.95"/>
<circle cx="292.32" cy="681.46" r="1.95"/>
<circle cx="306.06" cy="679.97" r="1.95"/>
<circle cx="312.55" cy="681.84" r="1.95"/>
<circle cx="315.00" cy="679.83" r="1.95"/>
<circle cx="292.64" cy="677.25" r="1.95"/>
<circle cx="318.59" cy="676.52" r="1.95"/>
<circle cx="322.78" cy="677.87" r="1.95"/>
<circle cx="287.54" cy="679.42" r="1.95"/>
<circle cx="297.51" cy="681.34" r="1.95"/>
<circle cx="299.75" cy="681.02" r="1.95"/>
<circle cx="308.60" cy="681.65" r="1.95"/>
<circle cx="290.21" cy="680.69" r="1.95"/>
<circle cx="299.54" cy="679.21" r="1.95"/>
<circle cx="283.72" cy="678.27" r="1.95"/>
<circle cx="324.55" cy="677.04" r="1.95"/>
<circle cx="294.84" cy="676.18" r="1.95"/>
<circle cx="313.17" cy="680.79" r="1.95"/>
<circle cx="327.53" cy="679.80" r="1.95"/>
<circle cx="321.28" cy="677.72" r="1.95"/>
<circle cx="273.44" cy="676.84" r="1.95"/>
<circle cx="304.26" cy="676.25" r="1.95"/>
<circle cx="291.90" cy="678.88" r="1.95"/>
<circle cx="291.46" cy="677.58" r="1.95"/>
<circle cx="278.36" cy="681.25" r="1.95"/>
<circle cx="308.62" cy="676.53" r="1.95"/>
<circle cx="293.06" cy="679.05" r="1.95"/>
<circle cx="290.21" cy="678.90" r="1.95"/>
<circle cx="308.47" cy="680.12" r="1.95"/>
<circle cx="332.33" cy="677.32" r="1.95"/>
<circle cx="301.99" cy="679.65" r="1.95"/>
<circle cx="290.77" cy="677.60" r="1.95"/>
<circle cx="333.23" cy="678.52" r="1.95"/>
<circle cx="327.57" cy="677.47" r="1.95"/>
<circle cx="292.13" cy="681.06" r="1.95"/>
<circle cx="323.90" cy="679.21" r="1.95"/>
<circle cx="324.90" cy="676.22" r="1.95"/>
<circle cx="307.46" cy="679.01" r="1.95"/>
<circle cx="311.56" cy="681.21" r="1.95"/>
<circle cx="298.46" cy="676.75" r="1.95"/>
<circle cx="276.15" cy="681.17" r="1.95"/>
<circle cx="285.82" cy="680.14" r="1.95"/>
<circle cx="301.31" cy="680.60" r="1.95"/>
<circle cx="284.29" cy="680.55" r="1.95"/>
<circle cx="304.55" cy="676.31" r="1.95"/>
<circle cx="308.88" cy="678.59" r="1.95"/>
<circle cx="299.62" cy="681.13" r="1.95"/>
<circle cx="293.83" cy="680.32" r="1.95"/>
<circle cx="279.88" cy="680.66" r="1.95"/>
<circle cx="316.87" cy="679.83" r="1.95"/>
<circle cx="331.48" cy="678.40" r="1.95"/>
<circle cx="289.69" cy="681.13" r="1.95"/>
<circle cx="320.75" cy="676.93" r="1.95"/>
<circle cx="291.19" cy="681.24" r="1.95"/>
<circle cx="304.34" cy="681.10" r="1.95"/>
<circle cx="317.84" cy="679.02" r="1.95"/>
<circle cx="314.06" cy="679.68" r="1.95"/>
<circle cx="316.39" cy="680.42" r="1.95"/>
<circle cx="308.21" cy="676.24" r="1.95"/>
<circle cx="288.93" cy="677.08" r="1.95"/>
<circle cx="324.37" cy="680.94" r="1.95"/>
<circle cx="290.34" cy="677.84" r="1.95"/>
<circle cx="304.87" cy="678.57" r="1.95"/>
<circle cx="321.60" cy="680.74" r="1.95"/>
<circle cx="330.97" cy="680.23" r="1.95"/>
<circle cx="335.92" cy="676.46" r="1.95"/>
<circle cx="288.66" cy="678.50" r="1.95"/>
<circle cx="297.77" cy="677.48" r="1.95"/>
<circle cx="314.87" cy="678.80" r="1.95"/>
<circle cx="318.88" cy="678.47" r="1.95"/>
<circle cx="292.33" cy="678.31" r="1.95"/>
<circle cx="331.88" cy="680.80" r="1.95"/>
<circle cx="293.11" cy="678.97" r="1.95"/>
<circle cx="333.56" cy="679.91" r="1.95"/>
<circle cx="294.87" cy="677.36" r="1.95"/>
<circle cx="312.78" cy="677.97" r="1.95"/>
<circle cx="314.40" cy="678.92" r="1.95"/>
<circle cx="286.47" cy="679.74" r="1.95"/>
<circle cx="293.33" cy="678.68" r="1.95"/>
<circle cx="312.62" cy="680.79" r="1.95"/>
<circle cx="279.39" cy="678.31" r="1.95"/>
<circle cx="306.60" cy="677.54" r="1.95"/>
<circle cx="283.12" cy="677.94" r="1.95"/>
<circle cx="286.65" cy="678.97" r="1.95"/>
<circle cx="322.77" cy="681.22" r="1.95"/>
<circle cx="283.00" cy="680.57" r="1.95"/>
<circle cx="354.82" cy="677.43" r="1.95"/>
<circle cx="365.38" cy="681.90" r="1.95"/>
<circle cx="342.09" cy="681.45" r="1.95"/>
<circle cx="352.32" cy="679.96" r="1.95"/>
<circle cx="342.54" cy="679.22" r="1.95"/>
<circle cx="338.31" cy="681.34" r="1.95"/>
<circle cx="365.60" cy="680.17" r="1.95"/>
<circle cx="359.65" cy="679.78" r="1.95"/>
<circle cx="360.51" cy="676.38" r="1.95"/>
<circle cx="355.92" cy="679.26" r="1.95"/>
<circle cx="338.58" cy="681.19" r="1.95"/>
<circle cx="347.10" cy="678.64" r="1.95"/>
<circle cx="365.78" cy="681.77" r="1.95"/>
<circle cx="350.71" cy="678.36" r="1.95"/>
<circle cx="357.62" cy="678.66" r="1.95"/>
<circle cx="365.00" cy="680.92" r="1.95"/>
<circle cx="357.69" cy="678.73" r="1.95"/>
<circle cx="264.20" cy="677.54" r="1.95"/>
<circle cx="264.20" cy="679.75" r="1.95"/>
<circle cx="264.20" cy="677.00" r="1.95"/>
<circle cx="264.20" cy="677.08" r="1.95"/>
<circle cx="264.20" cy="679.76" r="1.95"/>
<circle cx="264.20" cy="679.30" r="1.95"/>
<circle cx="264.20" cy="677.14" r="1.95"/>
<circle cx="264.20" cy="678.66" r="1.95"/>
<circle cx="264.20" cy="676.60" r="1.95"/>
</g>
<rect x="302.90" y="672.22" width="2.7" height="13.8" fill="#D95F02"/>
<g fill="#A6761D" fill-opacity="0.17" stroke="#A6761D" stroke-opacity="0.3" stroke-width="0.5">
<circle cx="302.79" cy="707.44" r="1.95"/>
<circle cx="293.48" cy="707.13" r="1.95"/>
<circle cx="313.68" cy="707.23" r="1.95"/>
<circle cx="314.34" cy="709.23" r="1.95"/>
<circle cx="316.95" cy="703.91" r="1.95"/>
<circle cx="319.93" cy="706.81" r="1.95"/>
<circle cx="312.62" cy="704.28" r="1.95"/>
<circle cx="307.73" cy="705.29" r="1.95"/>
<circle cx="304.92" cy="705.98" r="1.95"/>
<circle cx="309.59" cy="708.11" r="1.95"/>
<circle cx="298.56" cy="707.90" r="1.95"/>
<circle cx="297.69" cy="706.68" r="1.95"/>
<circle cx="279.04" cy="708.18" r="1.95"/>
<circle cx="294.86" cy="705.94" r="1.95"/>
<circle cx="314.73" cy="705.50" r="1.95"/>
<circle cx="294.48" cy="706.24" r="1.95"/>
<circle cx="300.30" cy="708.84" r="1.95"/>
<circle cx="300.93" cy="708.05" r="1.95"/>
<circle cx="313.78" cy="706.41" r="1.95"/>
<circle cx="310.56" cy="705.83" r="1.95"/>
<circle cx="311.00" cy="706.07" r="1.95"/>
<circle cx="291.76" cy="705.32" r="1.95"/>
<circle cx="313.66" cy="706.65" r="1.95"/>
<circle cx="310.39" cy="703.61" r="1.95"/>
<circle cx="280.39" cy="709.16" r="1.95"/>
<circle cx="313.46" cy="704.86" r="1.95"/>
<circle cx="304.52" cy="705.04" r="1.95"/>
<circle cx="334.33" cy="708.78" r="1.95"/>
<circle cx="301.18" cy="704.03" r="1.95"/>
<circle cx="295.09" cy="706.45" r="1.95"/>
<circle cx="326.87" cy="704.89" r="1.95"/>
<circle cx="292.17" cy="704.59" r="1.95"/>
<circle cx="311.93" cy="704.72" r="1.95"/>
<circle cx="288.27" cy="704.66" r="1.95"/>
<circle cx="293.27" cy="705.85" r="1.95"/>
<circle cx="293.39" cy="708.70" r="1.95"/>
<circle cx="325.00" cy="709.17" r="1.95"/>
<circle cx="307.71" cy="707.47" r="1.95"/>
<circle cx="333.57" cy="705.35" r="1.95"/>
<circle cx="301.32" cy="705.56" r="1.95"/>
<circle cx="308.08" cy="705.05" r="1.95"/>
<circle cx="306.09" cy="705.63" r="1.95"/>
<circle cx="303.28" cy="708.39" r="1.95"/>
<circle cx="292.17" cy="705.53" r="1.95"/>
<circle cx="287.68" cy="708.16" r="1.95"/>
<circle cx="330.01" cy="706.51" r="1.95"/>
<circle cx="298.77" cy="703.61" r="1.95"/>
<circle cx="307.13" cy="706.11" r="1.95"/>
<circle cx="292.70" cy="706.20" r="1.95"/>
<circle cx="296.09" cy="707.68" r="1.95"/>
<circle cx="322.31" cy="705.01" r="1.95"/>
<circle cx="321.02" cy="705.36" r="1.95"/>
<circle cx="290.00" cy="704.67" r="1.95"/>
<circle cx="320.64" cy="708.18" r="1.95"/>
<circle cx="310.58" cy="703.78" r="1.95"/>
<circle cx="303.65" cy="708.42" r="1.95"/>
<circle cx="311.93" cy="706.83" r="1.95"/>
<circle cx="298.19" cy="707.56" r="1.95"/>
<circle cx="293.24" cy="705.89" r="1.95"/>
<circle cx="290.35" cy="707.77" r="1.95"/>
<circle cx="322.90" cy="707.59" r="1.95"/>
<circle cx="310.42" cy="707.53" r="1.95"/>
<circle cx="320.18" cy="708.30" r="1.95"/>
<circle cx="324.26" cy="709.37" r="1.95"/>
<circle cx="300.99" cy="706.70" r="1.95"/>
<circle cx="281.31" cy="703.61" r="1.95"/>
<circle cx="312.13" cy="704.89" r="1.95"/>
<circle cx="277.64" cy="704.47" r="1.95"/>
<circle cx="291.34" cy="706.58" r="1.95"/>
<circle cx="317.97" cy="704.72" r="1.95"/>
<circle cx="295.81" cy="707.41" r="1.95"/>
<circle cx="315.94" cy="708.26" r="1.95"/>
<circle cx="328.39" cy="707.69" r="1.95"/>
<circle cx="332.69" cy="705.01" r="1.95"/>
<circle cx="305.53" cy="706.70" r="1.95"/>
<circle cx="308.49" cy="709.26" r="1.95"/>
<circle cx="298.84" cy="707.49" r="1.95"/>
<circle cx="307.56" cy="706.01" r="1.95"/>
<circle cx="309.18" cy="703.69" r="1.95"/>
<circle cx="316.89" cy="708.50" r="1.95"/>
<circle cx="320.80" cy="707.41" r="1.95"/>
<circle cx="296.53" cy="706.38" r="1.95"/>
<circle cx="291.13" cy="708.41" r="1.95"/>
<circle cx="307.13" cy="709.13" r="1.95"/>
<circle cx="332.25" cy="704.59" r="1.95"/>
<circle cx="292.19" cy="706.07" r="1.95"/>
<circle cx="290.87" cy="707.27" r="1.95"/>
<circle cx="274.19" cy="703.65" r="1.95"/>
<circle cx="295.25" cy="706.43" r="1.95"/>
<circle cx="285.35" cy="708.68" r="1.95"/>
<circle cx="281.42" cy="705.15" r="1.95"/>
<circle cx="287.51" cy="707.04" r="1.95"/>
<circle cx="307.68" cy="707.63" r="1.95"/>
<circle cx="328.30" cy="708.30" r="1.95"/>
<circle cx="299.99" cy="708.52" r="1.95"/>
<circle cx="311.98" cy="707.51" r="1.95"/>
<circle cx="286.98" cy="708.02" r="1.95"/>
<circle cx="308.86" cy="704.07" r="1.95"/>
<circle cx="314.87" cy="704.98" r="1.95"/>
<circle cx="318.36" cy="708.84" r="1.95"/>
<circle cx="299.93" cy="707.05" r="1.95"/>
<circle cx="291.94" cy="705.06" r="1.95"/>
<circle cx="269.25" cy="705.79" r="1.95"/>
<circle cx="321.28" cy="706.20" r="1.95"/>
<circle cx="325.92" cy="705.78" r="1.95"/>
<circle cx="305.40" cy="703.99" r="1.95"/>
<circle cx="303.11" cy="706.61" r="1.95"/>
<circle cx="285.19" cy="705.82" r="1.95"/>
<circle cx="296.56" cy="703.87" r="1.95"/>
<circle cx="307.93" cy="708.50" r="1.95"/>
<circle cx="317.26" cy="704.59" r="1.95"/>
<circle cx="308.63" cy="703.98" r="1.95"/>
<circle cx="301.40" cy="709.41" r="1.95"/>
<circle cx="334.95" cy="708.50" r="1.95"/>
<circle cx="303.06" cy="704.89" r="1.95"/>
<circle cx="285.51" cy="708.80" r="1.95"/>
<circle cx="308.82" cy="708.72" r="1.95"/>
<circle cx="305.42" cy="704.71" r="1.95"/>
<circle cx="272.35" cy="708.15" r="1.95"/>
<circle cx="288.26" cy="704.11" r="1.95"/>
<circle cx="310.26" cy="708.40" r="1.95"/>
<circle cx="302.14" cy="705.76" r="1.95"/>
<circle cx="278.94" cy="705.01" r="1.95"/>
<circle cx="286.89" cy="709.11" r="1.95"/>
<circle cx="283.01" cy="706.01" r="1.95"/>
<circle cx="305.92" cy="707.25" r="1.95"/>
<circle cx="316.85" cy="705.88" r="1.95"/>
<circle cx="302.43" cy="708.77" r="1.95"/>
<circle cx="316.13" cy="708.50" r="1.95"/>
<circle cx="311.56" cy="708.95" r="1.95"/>
<circle cx="302.53" cy="706.92" r="1.95"/>
<circle cx="335.78" cy="708.54" r="1.95"/>
<circle cx="285.85" cy="706.30" r="1.95"/>
<circle cx="292.42" cy="709.52" r="1.95"/>
<circle cx="323.97" cy="707.09" r="1.95"/>
<circle cx="285.28" cy="704.38" r="1.95"/>
<circle cx="322.60" cy="706.79" r="1.95"/>
<circle cx="312.03" cy="707.88" r="1.95"/>
<circle cx="321.74" cy="705.10" r="1.95"/>
<circle cx="333.71" cy="708.18" r="1.95"/>
<circle cx="295.25" cy="707.68" r="1.95"/>
<circle cx="321.40" cy="707.95" r="1.95"/>
<circle cx="284.87" cy="707.03" r="1.95"/>
<circle cx="328.03" cy="706.37" r="1.95"/>
<circle cx="275.30" cy="707.01" r="1.95"/>
<circle cx="285.50" cy="706.32" r="1.95"/>
<circle cx="316.08" cy="706.83" r="1.95"/>
<circle cx="298.56" cy="706.24" r="1.95"/>
<circle cx="334.16" cy="704.96" r="1.95"/>
<circle cx="279.56" cy="705.59" r="1.95"/>
<circle cx="320.66" cy="706.80" r="1.95"/>
<circle cx="286.81" cy="704.82" r="1.95"/>
<circle cx="315.21" cy="706.96" r="1.95"/>
<circle cx="285.32" cy="703.77" r="1.95"/>
<circle cx="316.89" cy="704.77" r="1.95"/>
<circle cx="305.85" cy="705.07" r="1.95"/>
<circle cx="327.47" cy="703.78" r="1.95"/>
<circle cx="323.31" cy="703.70" r="1.95"/>
<circle cx="287.83" cy="706.42" r="1.95"/>
<circle cx="323.97" cy="707.16" r="1.95"/>
<circle cx="316.04" cy="707.41" r="1.95"/>
<circle cx="293.52" cy="709.05" r="1.95"/>
<circle cx="270.14" cy="705.91" r="1.95"/>
<circle cx="326.34" cy="707.07" r="1.95"/>
<circle cx="290.04" cy="704.29" r="1.95"/>
<circle cx="296.63" cy="705.11" r="1.95"/>
<circle cx="335.80" cy="703.88" r="1.95"/>
<circle cx="293.94" cy="708.86" r="1.95"/>
<circle cx="317.48" cy="708.09" r="1.95"/>
<circle cx="293.65" cy="707.79" r="1.95"/>
<circle cx="287.07" cy="708.99" r="1.95"/>
<circle cx="335.32" cy="708.00" r="1.95"/>
<circle cx="294.98" cy="709.28" r="1.95"/>
<circle cx="323.52" cy="708.35" r="1.95"/>
<circle cx="308.71" cy="704.41" r="1.95"/>
<circle cx="280.94" cy="705.80" r="1.95"/>
<circle cx="316.54" cy="705.90" r="1.95"/>
<circle cx="283.01" cy="706.78" r="1.95"/>
<circle cx="312.51" cy="708.15" r="1.95"/>
<circle cx="296.50" cy="707.51" r="1.95"/>
<circle cx="324.16" cy="706.09" r="1.95"/>
<circle cx="306.90" cy="707.64" r="1.95"/>
<circle cx="331.78" cy="709.20" r="1.95"/>
<circle cx="298.23" cy="703.99" r="1.95"/>
<circle cx="296.76" cy="704.32" r="1.95"/>
<circle cx="286.27" cy="705.41" r="1.95"/>
<circle cx="307.05" cy="704.58" r="1.95"/>
<circle cx="318.45" cy="708.37" r="1.95"/>
<circle cx="309.18" cy="708.52" r="1.95"/>
<circle cx="274.95" cy="704.74" r="1.95"/>
<circle cx="293.58" cy="703.91" r="1.95"/>
<circle cx="306.46" cy="706.20" r="1.95"/>
<circle cx="288.97" cy="704.67" r="1.95"/>
<circle cx="294.87" cy="707.17" r="1.95"/>
<circle cx="302.85" cy="709.22" r="1.95"/>
<circle cx="320.43" cy="706.33" r="1.95"/>
<circle cx="270.62" cy="706.95" r="1.95"/>
<circle cx="328.91" cy="707.33" r="1.95"/>
<circle cx="308.85" cy="704.20" r="1.95"/>
<circle cx="269.41" cy="709.39" r="1.95"/>
<circle cx="315.69" cy="704.33" r="1.95"/>
<circle cx="300.70" cy="705.48" r="1.95"/>
<circle cx="306.67" cy="707.08" r="1.95"/>
<circle cx="311.30" cy="706.56" r="1.95"/>
<circle cx="326.15" cy="703.63" r="1.95"/>
<circle cx="292.86" cy="705.30" r="1.95"/>
<circle cx="303.65" cy="707.54" r="1.95"/>
<circle cx="285.63" cy="705.52" r="1.95"/>
<circle cx="304.13" cy="703.85" r="1.95"/>
<circle cx="296.23" cy="707.95" r="1.95"/>
<circle cx="328.56" cy="704.07" r="1.95"/>
<circle cx="300.27" cy="704.76" r="1.95"/>
<circle cx="322.08" cy="704.57" r="1.95"/>
<circle cx="309.04" cy="709.51" r="1.95"/>
<circle cx="323.32" cy="707.00" r="1.95"/>
<circle cx="308.03" cy="706.32" r="1.95"/>
<circle cx="326.52" cy="707.90" r="1.95"/>
<circle cx="302.38" cy="707.11" r="1.95"/>
<circle cx="302.69" cy="709.07" r="1.95"/>
<circle cx="285.94" cy="704.79" r="1.95"/>
<circle cx="299.72" cy="705.24" r="1.95"/>
<circle cx="271.66" cy="706.63" r="1.95"/>
<circle cx="283.25" cy="705.07" r="1.95"/>
<circle cx="317.71" cy="707.50" r="1.95"/>
<circle cx="304.94" cy="705.74" r="1.95"/>
<circle cx="296.21" cy="703.79" r="1.95"/>
<circle cx="302.50" cy="706.48" r="1.95"/>
<circle cx="308.50" cy="704.27" r="1.95"/>
<circle cx="302.32" cy="707.99" r="1.95"/>
<circle cx="306.86" cy="707.86" r="1.95"/>
<circle cx="269.45" cy="707.90" r="1.95"/>
<circle cx="303.13" cy="704.69" r="1.95"/>
<circle cx="290.69" cy="706.35" r="1.95"/>
<circle cx="320.24" cy="704.63" r="1.95"/>
<circle cx="297.77" cy="707.76" r="1.95"/>
<circle cx="281.48" cy="703.53" r="1.95"/>
<circle cx="330.56" cy="708.37" r="1.95"/>
<circle cx="311.02" cy="709.40" r="1.95"/>
<circle cx="313.23" cy="708.46" r="1.95"/>
<circle cx="287.00" cy="707.70" r="1.95"/>
<circle cx="330.15" cy="707.18" r="1.95"/>
<circle cx="359.54" cy="706.26" r="1.95"/>
<circle cx="348.62" cy="706.92" r="1.95"/>
<circle cx="369.74" cy="706.57" r="1.95"/>
<circle cx="344.85" cy="705.72" r="1.95"/>
<circle cx="361.66" cy="706.79" r="1.95"/>
<circle cx="347.86" cy="704.30" r="1.95"/>
<circle cx="344.85" cy="703.97" r="1.95"/>
<circle cx="344.91" cy="705.31" r="1.95"/>
<circle cx="357.34" cy="709.30" r="1.95"/>
<circle cx="363.29" cy="707.23" r="1.95"/>
<circle cx="349.00" cy="709.06" r="1.95"/>
<circle cx="369.22" cy="707.84" r="1.95"/>
<circle cx="356.38" cy="708.15" r="1.95"/>
<circle cx="353.92" cy="706.55" r="1.95"/>
<circle cx="358.90" cy="707.20" r="1.95"/>
<circle cx="356.22" cy="703.71" r="1.95"/>
<circle cx="363.55" cy="704.11" r="1.95"/>
<circle cx="369.02" cy="703.62" r="1.95"/>
<circle cx="367.02" cy="706.15" r="1.95"/>
<circle cx="338.68" cy="703.76" r="1.95"/>
<circle cx="364.73" cy="704.51" r="1.95"/>
<circle cx="343.91" cy="704.14" r="1.95"/>
<circle cx="362.61" cy="709.17" r="1.95"/>
<circle cx="339.23" cy="705.32" r="1.95"/>
<circle cx="343.87" cy="704.91" r="1.95"/>
<circle cx="350.08" cy="708.40" r="1.95"/>
<circle cx="344.04" cy="707.16" r="1.95"/>
<circle cx="264.20" cy="705.62" r="1.95"/>
<circle cx="264.20" cy="705.30" r="1.95"/>
<circle cx="264.20" cy="708.59" r="1.95"/>
<circle cx="264.20" cy="704.82" r="1.95"/>
<circle cx="264.20" cy="704.16" r="1.95"/>
<circle cx="264.20" cy="706.08" r="1.95"/>
<circle cx="264.20" cy="707.55" r="1.95"/>
<circle cx="264.20" cy="707.51" r="1.95"/>
<circle cx="264.20" cy="704.41" r="1.95"/>
<circle cx="264.20" cy="706.19" r="1.95"/>
<circle cx="264.20" cy="706.84" r="1.95"/>
<circle cx="264.20" cy="707.69" r="1.95"/>
<circle cx="264.20" cy="707.56" r="1.95"/>
<circle cx="264.20" cy="706.24" r="1.95"/>
<circle cx="264.20" cy="707.84" r="1.95"/>
<circle cx="264.20" cy="706.51" r="1.95"/>
<circle cx="264.20" cy="704.54" r="1.95"/>
<circle cx="264.20" cy="704.68" r="1.95"/>
<circle cx="264.20" cy="704.58" r="1.95"/>
<circle cx="264.20" cy="707.49" r="1.95"/>
<circle cx="264.20" cy="704.01" r="1.95"/>
<circle cx="264.20" cy="705.10" r="1.95"/>
<circle cx="264.20" cy="709.08" r="1.95"/>
<circle cx="264.20" cy="708.33" r="1.95"/>
<circle cx="264.20" cy="706.55" r="1.95"/>
<circle cx="264.20" cy="704.39" r="1.95"/>
</g>
<rect x="298.55" y="699.63" width="2.7" height="13.8" fill="#A6761D"/>
<g fill="#7570B3" fill-opacity="0.17" stroke="#7570B3" stroke-opacity="0.3" stroke-width="0.5">
<circle cx="295.68" cy="732.67" r="1.95"/>
<circle cx="279.30" cy="733.97" r="1.95"/>
<circle cx="286.00" cy="735.11" r="1.95"/>
<circle cx="282.53" cy="731.87" r="1.95"/>
<circle cx="305.09" cy="731.96" r="1.95"/>
<circle cx="301.01" cy="732.28" r="1.95"/>
<circle cx="304.22" cy="735.24" r="1.95"/>
<circle cx="308.74" cy="734.61" r="1.95"/>
<circle cx="271.66" cy="736.90" r="1.95"/>
<circle cx="283.82" cy="733.00" r="1.95"/>
<circle cx="307.40" cy="733.93" r="1.95"/>
<circle cx="301.53" cy="732.03" r="1.95"/>
<circle cx="309.40" cy="736.74" r="1.95"/>
<circle cx="299.52" cy="735.13" r="1.95"/>
<circle cx="301.09" cy="734.83" r="1.95"/>
<circle cx="311.82" cy="732.07" r="1.95"/>
<circle cx="270.05" cy="735.80" r="1.95"/>
<circle cx="286.27" cy="735.96" r="1.95"/>
<circle cx="290.23" cy="731.74" r="1.95"/>
<circle cx="308.86" cy="731.74" r="1.95"/>
<circle cx="294.82" cy="736.14" r="1.95"/>
<circle cx="293.87" cy="734.16" r="1.95"/>
<circle cx="289.41" cy="735.48" r="1.95"/>
<circle cx="275.06" cy="736.56" r="1.95"/>
<circle cx="287.87" cy="735.60" r="1.95"/>
<circle cx="273.46" cy="731.89" r="1.95"/>
<circle cx="272.55" cy="731.98" r="1.95"/>
<circle cx="297.87" cy="735.19" r="1.95"/>
<circle cx="293.04" cy="734.72" r="1.95"/>
<circle cx="293.72" cy="736.16" r="1.95"/>
<circle cx="293.43" cy="735.29" r="1.95"/>
<circle cx="296.85" cy="732.81" r="1.95"/>
<circle cx="284.06" cy="734.61" r="1.95"/>
<circle cx="304.16" cy="734.61" r="1.95"/>
<circle cx="299.55" cy="736.69" r="1.95"/>
<circle cx="322.56" cy="736.82" r="1.95"/>
<circle cx="321.55" cy="734.02" r="1.95"/>
<circle cx="325.61" cy="733.66" r="1.95"/>
<circle cx="319.50" cy="734.89" r="1.95"/>
<circle cx="322.04" cy="734.00" r="1.95"/>
<circle cx="333.14" cy="733.61" r="1.95"/>
<circle cx="317.69" cy="732.07" r="1.95"/>
<circle cx="319.60" cy="731.96" r="1.95"/>
<circle cx="326.91" cy="734.19" r="1.95"/>
<circle cx="264.20" cy="733.48" r="1.95"/>
<circle cx="264.20" cy="734.02" r="1.95"/>
<circle cx="264.20" cy="735.17" r="1.95"/>
<circle cx="264.20" cy="732.20" r="1.95"/>
<circle cx="264.20" cy="732.72" r="1.95"/>
</g>
<rect x="294.97" y="727.04" width="2.7" height="13.8" fill="#7570B3"/>
<g fill="#E6AB02" fill-opacity="0.17" stroke="#E6AB02" stroke-opacity="0.3" stroke-width="0.5">
<circle cx="277.30" cy="759.02" r="1.95"/>
<circle cx="283.19" cy="763.95" r="1.95"/>
<circle cx="303.13" cy="763.09" r="1.95"/>
<circle cx="302.46" cy="760.25" r="1.95"/>
<circle cx="299.44" cy="760.94" r="1.95"/>
<circle cx="297.50" cy="760.84" r="1.95"/>
<circle cx="288.31" cy="759.42" r="1.95"/>
<circle cx="297.65" cy="763.11" r="1.95"/>
<circle cx="297.79" cy="762.88" r="1.95"/>
<circle cx="283.07" cy="763.13" r="1.95"/>
<circle cx="283.07" cy="759.42" r="1.95"/>
<circle cx="298.65" cy="760.55" r="1.95"/>
<circle cx="296.24" cy="762.42" r="1.95"/>
<circle cx="285.17" cy="758.94" r="1.95"/>
<circle cx="293.78" cy="762.90" r="1.95"/>
<circle cx="280.54" cy="760.39" r="1.95"/>
<circle cx="289.15" cy="758.36" r="1.95"/>
<circle cx="284.35" cy="760.42" r="1.95"/>
<circle cx="292.07" cy="763.82" r="1.95"/>
<circle cx="275.03" cy="760.53" r="1.95"/>
<circle cx="297.82" cy="760.26" r="1.95"/>
<circle cx="301.10" cy="759.02" r="1.95"/>
<circle cx="299.83" cy="760.64" r="1.95"/>
<circle cx="291.19" cy="758.93" r="1.95"/>
<circle cx="291.24" cy="758.42" r="1.95"/>
<circle cx="301.75" cy="762.21" r="1.95"/>
<circle cx="290.20" cy="763.13" r="1.95"/>
<circle cx="292.65" cy="760.73" r="1.95"/>
<circle cx="292.28" cy="763.99" r="1.95"/>
<circle cx="289.41" cy="761.35" r="1.95"/>
<circle cx="294.99" cy="761.24" r="1.95"/>
<circle cx="273.52" cy="761.25" r="1.95"/>
<circle cx="278.46" cy="763.69" r="1.95"/>
<circle cx="282.78" cy="761.43" r="1.95"/>
<circle cx="296.69" cy="760.79" r="1.95"/>
<circle cx="290.99" cy="760.12" r="1.95"/>
<circle cx="296.61" cy="761.37" r="1.95"/>
<circle cx="283.18" cy="761.93" r="1.95"/>
<circle cx="286.54" cy="761.00" r="1.95"/>
<circle cx="271.55" cy="763.75" r="1.95"/>
<circle cx="285.55" cy="758.53" r="1.95"/>
<circle cx="277.06" cy="761.00" r="1.95"/>
<circle cx="288.79" cy="758.89" r="1.95"/>
<circle cx="272.75" cy="760.55" r="1.95"/>
<circle cx="284.27" cy="763.45" r="1.95"/>
<circle cx="284.20" cy="764.18" r="1.95"/>
<circle cx="285.23" cy="760.36" r="1.95"/>
<circle cx="311.93" cy="762.13" r="1.95"/>
<circle cx="264.20" cy="759.93" r="1.95"/>
<circle cx="264.20" cy="758.98" r="1.95"/>
<circle cx="264.20" cy="758.88" r="1.95"/>
<circle cx="264.20" cy="761.90" r="1.95"/>
<circle cx="264.20" cy="761.73" r="1.95"/>
</g>
<rect x="289.34" y="754.45" width="2.7" height="13.8" fill="#E6AB02"/>
<g fill="#E7298A" fill-opacity="0.17" stroke="#E7298A" stroke-opacity="0.3" stroke-width="0.5">
<circle cx="295.07" cy="787.12" r="1.95"/>
<circle cx="272.57" cy="790.28" r="1.95"/>
<circle cx="284.92" cy="787.19" r="1.95"/>
<circle cx="277.06" cy="789.53" r="1.95"/>
<circle cx="295.87" cy="789.30" r="1.95"/>
<circle cx="295.01" cy="791.25" r="1.95"/>
<circle cx="292.05" cy="786.87" r="1.95"/>
<circle cx="285.38" cy="786.46" r="1.95"/>
<circle cx="288.33" cy="790.20" r="1.95"/>
<circle cx="297.27" cy="787.93" r="1.95"/>
<circle cx="301.31" cy="790.48" r="1.95"/>
<circle cx="281.45" cy="787.55" r="1.95"/>
<circle cx="275.94" cy="786.31" r="1.95"/>
<circle cx="288.87" cy="791.23" r="1.95"/>
<circle cx="301.79" cy="790.31" r="1.95"/>
<circle cx="287.29" cy="791.63" r="1.95"/>
<circle cx="289.89" cy="791.72" r="1.95"/>
<circle cx="296.07" cy="786.87" r="1.95"/>
<circle cx="283.42" cy="786.15" r="1.95"/>
<circle cx="280.48" cy="787.19" r="1.95"/>
<circle cx="292.90" cy="787.36" r="1.95"/>
<circle cx="296.84" cy="790.47" r="1.95"/>
<circle cx="297.28" cy="789.92" r="1.95"/>
<circle cx="272.92" cy="787.10" r="1.95"/>
<circle cx="288.81" cy="789.86" r="1.95"/>
<circle cx="285.18" cy="788.00" r="1.95"/>
<circle cx="284.67" cy="791.44" r="1.95"/>
<circle cx="273.46" cy="790.82" r="1.95"/>
<circle cx="293.93" cy="786.43" r="1.95"/>
<circle cx="289.85" cy="789.07" r="1.95"/>
<circle cx="289.27" cy="786.75" r="1.95"/>
<circle cx="298.94" cy="790.98" r="1.95"/>
<circle cx="271.57" cy="791.56" r="1.95"/>
<circle cx="277.40" cy="790.17" r="1.95"/>
<circle cx="299.17" cy="790.36" r="1.95"/>
<circle cx="302.37" cy="786.83" r="1.95"/>
<circle cx="290.95" cy="787.97" r="1.95"/>
<circle cx="283.92" cy="791.73" r="1.95"/>
<circle cx="270.33" cy="787.93" r="1.95"/>
<circle cx="294.58" cy="790.63" r="1.95"/>
<circle cx="283.24" cy="788.68" r="1.95"/>
<circle cx="272.73" cy="790.93" r="1.95"/>
<circle cx="275.60" cy="791.49" r="1.95"/>
<circle cx="292.22" cy="790.84" r="1.95"/>
<circle cx="283.81" cy="791.25" r="1.95"/>
<circle cx="270.37" cy="787.94" r="1.95"/>
<circle cx="280.52" cy="786.56" r="1.95"/>
<circle cx="329.09" cy="790.34" r="1.95"/>
<circle cx="264.20" cy="790.71" r="1.95"/>
<circle cx="264.20" cy="788.35" r="1.95"/>
<circle cx="264.20" cy="788.11" r="1.95"/>
<circle cx="264.20" cy="789.54" r="1.95"/>
<circle cx="264.20" cy="791.15" r="1.95"/>
<circle cx="264.20" cy="786.81" r="1.95"/>
<circle cx="264.20" cy="790.38" r="1.95"/>
</g>
<rect x="287.54" y="781.86" width="2.7" height="13.8" fill="#E7298A"/>
<g fill="#66A61E" fill-opacity="0.17" stroke="#66A61E" stroke-opacity="0.3" stroke-width="0.5">
<circle cx="285.96" cy="818.92" r="1.95"/>
<circle cx="290.76" cy="815.48" r="1.95"/>
<circle cx="295.06" cy="813.55" r="1.95"/>
<circle cx="290.06" cy="813.29" r="1.95"/>
<circle cx="278.40" cy="819.08" r="1.95"/>
<circle cx="284.90" cy="818.47" r="1.95"/>
<circle cx="281.96" cy="818.43" r="1.95"/>
<circle cx="275.33" cy="817.47" r="1.95"/>
<circle cx="272.62" cy="816.21" r="1.95"/>
<circle cx="287.97" cy="815.11" r="1.95"/>
<circle cx="271.07" cy="815.27" r="1.95"/>
<circle cx="287.86" cy="816.09" r="1.95"/>
<circle cx="297.53" cy="814.37" r="1.95"/>
<circle cx="287.62" cy="815.71" r="1.95"/>
<circle cx="285.54" cy="818.85" r="1.95"/>
<circle cx="284.42" cy="816.29" r="1.95"/>
<circle cx="285.12" cy="816.28" r="1.95"/>
<circle cx="283.66" cy="816.08" r="1.95"/>
<circle cx="287.27" cy="816.21" r="1.95"/>
<circle cx="285.93" cy="818.53" r="1.95"/>
<circle cx="294.20" cy="817.06" r="1.95"/>
<circle cx="281.05" cy="817.59" r="1.95"/>
<circle cx="274.67" cy="818.73" r="1.95"/>
<circle cx="274.46" cy="817.72" r="1.95"/>
<circle cx="269.19" cy="817.41" r="1.95"/>
<circle cx="278.23" cy="818.20" r="1.95"/>
<circle cx="291.00" cy="815.66" r="1.95"/>
<circle cx="289.68" cy="816.84" r="1.95"/>
<circle cx="282.77" cy="814.75" r="1.95"/>
<circle cx="277.78" cy="818.41" r="1.95"/>
<circle cx="269.43" cy="818.09" r="1.95"/>
<circle cx="277.09" cy="816.02" r="1.95"/>
<circle cx="287.72" cy="817.06" r="1.95"/>
<circle cx="269.43" cy="818.92" r="1.95"/>
<circle cx="278.29" cy="815.07" r="1.95"/>
<circle cx="288.57" cy="816.63" r="1.95"/>
<circle cx="300.93" cy="818.42" r="1.95"/>
<circle cx="285.21" cy="816.25" r="1.95"/>
<circle cx="269.24" cy="813.65" r="1.95"/>
<circle cx="280.84" cy="814.36" r="1.95"/>
<circle cx="297.41" cy="813.70" r="1.95"/>
<circle cx="283.50" cy="815.37" r="1.95"/>
<circle cx="292.65" cy="813.55" r="1.95"/>
<circle cx="275.93" cy="817.60" r="1.95"/>
<circle cx="277.88" cy="814.20" r="1.95"/>
<circle cx="283.56" cy="813.25" r="1.95"/>
<circle cx="277.78" cy="813.47" r="1.95"/>
<circle cx="295.02" cy="813.39" r="1.95"/>
<circle cx="282.69" cy="818.12" r="1.95"/>
<circle cx="290.11" cy="813.40" r="1.95"/>
<circle cx="290.96" cy="815.41" r="1.95"/>
<circle cx="272.32" cy="818.22" r="1.95"/>
<circle cx="280.06" cy="818.14" r="1.95"/>
<circle cx="281.26" cy="814.84" r="1.95"/>
<circle cx="288.29" cy="813.25" r="1.95"/>
<circle cx="287.15" cy="818.27" r="1.95"/>
<circle cx="291.34" cy="817.08" r="1.95"/>
<circle cx="276.83" cy="818.66" r="1.95"/>
<circle cx="282.30" cy="817.32" r="1.95"/>
<circle cx="288.11" cy="817.71" r="1.95"/>
<circle cx="299.22" cy="816.88" r="1.95"/>
<circle cx="282.56" cy="817.23" r="1.95"/>
<circle cx="295.57" cy="816.90" r="1.95"/>
<circle cx="282.21" cy="813.88" r="1.95"/>
<circle cx="293.21" cy="814.66" r="1.95"/>
<circle cx="292.14" cy="817.52" r="1.95"/>
<circle cx="287.33" cy="818.77" r="1.95"/>
<circle cx="284.54" cy="814.12" r="1.95"/>
<circle cx="293.84" cy="814.30" r="1.95"/>
<circle cx="287.86" cy="815.05" r="1.95"/>
<circle cx="289.00" cy="816.55" r="1.95"/>
<circle cx="283.97" cy="818.46" r="1.95"/>
<circle cx="300.71" cy="814.12" r="1.95"/>
<circle cx="286.52" cy="818.89" r="1.95"/>
<circle cx="282.16" cy="816.07" r="1.95"/>
<circle cx="286.26" cy="813.49" r="1.95"/>
<circle cx="283.22" cy="816.28" r="1.95"/>
<circle cx="284.88" cy="815.30" r="1.95"/>
<circle cx="287.88" cy="815.57" r="1.95"/>
<circle cx="269.56" cy="818.56" r="1.95"/>
<circle cx="279.04" cy="813.35" r="1.95"/>
<circle cx="269.29" cy="814.94" r="1.95"/>
<circle cx="274.31" cy="816.45" r="1.95"/>
<circle cx="276.68" cy="815.29" r="1.95"/>
<circle cx="274.43" cy="816.13" r="1.95"/>
<circle cx="294.64" cy="817.28" r="1.95"/>
<circle cx="287.11" cy="815.94" r="1.95"/>
<circle cx="277.13" cy="813.71" r="1.95"/>
<circle cx="299.89" cy="816.49" r="1.95"/>
<circle cx="283.56" cy="813.52" r="1.95"/>
<circle cx="291.89" cy="815.25" r="1.95"/>
<circle cx="290.61" cy="817.68" r="1.95"/>
<circle cx="295.59" cy="814.68" r="1.95"/>
<circle cx="283.64" cy="814.55" r="1.95"/>
<circle cx="286.69" cy="814.30" r="1.95"/>
<circle cx="291.95" cy="813.30" r="1.95"/>
<circle cx="294.74" cy="816.63" r="1.95"/>
<circle cx="289.87" cy="814.26" r="1.95"/>
<circle cx="302.69" cy="817.56" r="1.95"/>
<circle cx="287.21" cy="813.58" r="1.95"/>
<circle cx="296.00" cy="813.89" r="1.95"/>
<circle cx="283.41" cy="816.93" r="1.95"/>
<circle cx="272.80" cy="816.86" r="1.95"/>
<circle cx="280.83" cy="814.87" r="1.95"/>
<circle cx="279.44" cy="814.08" r="1.95"/>
<circle cx="294.46" cy="818.24" r="1.95"/>
<circle cx="278.88" cy="816.88" r="1.95"/>
<circle cx="287.97" cy="816.02" r="1.95"/>
<circle cx="298.60" cy="813.98" r="1.95"/>
<circle cx="296.03" cy="815.17" r="1.95"/>
<circle cx="302.48" cy="816.87" r="1.95"/>
<circle cx="302.52" cy="814.05" r="1.95"/>
<circle cx="327.16" cy="816.52" r="1.95"/>
<circle cx="321.09" cy="818.36" r="1.95"/>
<circle cx="327.89" cy="815.61" r="1.95"/>
<circle cx="321.33" cy="816.40" r="1.95"/>
<circle cx="339.21" cy="815.64" r="1.95"/>
<circle cx="334.47" cy="813.90" r="1.95"/>
<circle cx="303.48" cy="816.45" r="1.95"/>
<circle cx="319.55" cy="813.67" r="1.95"/>
<circle cx="315.39" cy="818.53" r="1.95"/>
<circle cx="333.10" cy="818.73" r="1.95"/>
<circle cx="315.34" cy="818.69" r="1.95"/>
<circle cx="316.49" cy="818.41" r="1.95"/>
<circle cx="339.48" cy="814.65" r="1.95"/>
<circle cx="324.58" cy="816.79" r="1.95"/>
<circle cx="315.85" cy="817.65" r="1.95"/>
<circle cx="312.20" cy="815.78" r="1.95"/>
<circle cx="303.32" cy="817.35" r="1.95"/>
<circle cx="310.95" cy="816.97" r="1.95"/>
<circle cx="310.72" cy="813.59" r="1.95"/>
<circle cx="331.80" cy="813.46" r="1.95"/>
<circle cx="264.20" cy="818.26" r="1.95"/>
<circle cx="264.20" cy="818.27" r="1.95"/>
<circle cx="264.20" cy="817.31" r="1.95"/>
<circle cx="264.20" cy="816.30" r="1.95"/>
<circle cx="264.20" cy="817.71" r="1.95"/>
<circle cx="264.20" cy="818.32" r="1.95"/>
<circle cx="264.20" cy="817.49" r="1.95"/>
<circle cx="264.20" cy="817.10" r="1.95"/>
<circle cx="264.20" cy="813.82" r="1.95"/>
<circle cx="264.20" cy="814.89" r="1.95"/>
</g>
<rect x="284.60" y="809.27" width="2.7" height="13.8" fill="#66A61E"/>
<rect x="264.2" y="607.9" width="134.1" height="224.80" fill="none" stroke="#333333" stroke-width="1.2"/>
<line x1="261.0" y1="624.30" x2="264.2" y2="624.30" stroke="#333333" stroke-width="1.25"/>
<line x1="261.0" y1="651.71" x2="264.2" y2="651.71" stroke="#333333" stroke-width="1.25"/>
<line x1="261.0" y1="679.12" x2="264.2" y2="679.12" stroke="#333333" stroke-width="1.25"/>
<line x1="261.0" y1="706.53" x2="264.2" y2="706.53" stroke="#333333" stroke-width="1.25"/>
<line x1="261.0" y1="733.94" x2="264.2" y2="733.94" stroke="#333333" stroke-width="1.25"/>
<line x1="261.0" y1="761.35" x2="264.2" y2="761.35" stroke="#333333" stroke-width="1.25"/>
<line x1="261.0" y1="788.76" x2="264.2" y2="788.76" stroke="#333333" stroke-width="1.25"/>
<line x1="261.0" y1="816.17" x2="264.2" y2="816.17" stroke="#333333" stroke-width="1.25"/>
<line x1="269.95" y1="832.7" x2="269.95" y2="835.90" stroke="#333333" stroke-width="1.25"/>
<text x="262.19" y="844.20" textLength="15.57" lengthAdjust="spacingAndGlyphs" style='font-family:"Liberation Sans",sans-serif;font-size:8.5px;' fill="#333333" stroke="#333333" stroke-width="0.25">0.01</text>
<line x1="295.55" y1="832.7" x2="295.55" y2="835.90" stroke="#333333" stroke-width="1.25"/>
<text x="287.75" y="844.20" textLength="15.57" lengthAdjust="spacingAndGlyphs" style='font-family:"Liberation Sans",sans-serif;font-size:8.5px;' fill="#333333" stroke="#333333" stroke-width="0.25">0.10</text>
<line x1="321.15" y1="832.7" x2="321.15" y2="835.90" stroke="#333333" stroke-width="1.25"/>
<text x="318.81" y="844.20" textLength="4.45" lengthAdjust="spacingAndGlyphs" style='font-family:"Liberation Sans",sans-serif;font-size:8.5px;' fill="#333333" stroke="#333333" stroke-width="0.25">1</text>
<line x1="346.75" y1="832.7" x2="346.75" y2="835.90" stroke="#333333" stroke-width="1.25"/>
<text x="342.15" y="844.20" textLength="8.90" lengthAdjust="spacingAndGlyphs" style='font-family:"Liberation Sans",sans-serif;font-size:8.5px;' fill="#333333" stroke="#333333" stroke-width="0.25">10</text>
<line x1="372.35" y1="832.7" x2="372.35" y2="835.90" stroke="#333333" stroke-width="1.25"/>
<text x="365.53" y="844.20" textLength="13.35" lengthAdjust="spacingAndGlyphs" style='font-family:"Liberation Sans",sans-serif;font-size:8.5px;' fill="#333333" stroke="#333333" stroke-width="0.25">100</text>
<text x="323.81" y="854.30" textLength="16.25" lengthAdjust="spacingAndGlyphs" style='font-family:"Liberation Sans",sans-serif;font-size:8.0px;' fill="#111111" stroke="#111111" stroke-width="0.25">TPM</text>
<text x="309.41" y="601.00" textLength="41.77" lengthAdjust="spacingAndGlyphs" style='font-family:"Liberation Sans",sans-serif;font-size:13.2px;font-style:italic;' fill="#000" stroke="#000" stroke-width="0.25">SSTR5</text>
<line x1="425.75" y1="607.9" x2="425.75" y2="832.7" stroke="#EBEBEB" stroke-width="0.75"/>
<line x1="451.35" y1="607.9" x2="451.35" y2="832.7" stroke="#EBEBEB" stroke-width="0.75"/>
<line x1="476.95" y1="607.9" x2="476.95" y2="832.7" stroke="#EBEBEB" stroke-width="0.75"/>
<line x1="502.55" y1="607.9" x2="502.55" y2="832.7" stroke="#EBEBEB" stroke-width="0.75"/>
<line x1="528.15" y1="607.9" x2="528.15" y2="832.7" stroke="#EBEBEB" stroke-width="0.75"/>
<line x1="412.95" y1="607.9" x2="412.95" y2="832.7" stroke="#EBEBEB" stroke-width="1.0"/>
<line x1="438.55" y1="607.9" x2="438.55" y2="832.7" stroke="#EBEBEB" stroke-width="1.0"/>
<line x1="464.15" y1="607.9" x2="464.15" y2="832.7" stroke="#EBEBEB" stroke-width="1.0"/>
<line x1="489.75" y1="607.9" x2="489.75" y2="832.7" stroke="#EBEBEB" stroke-width="1.0"/>
<line x1="515.35" y1="607.9" x2="515.35" y2="832.7" stroke="#EBEBEB" stroke-width="1.0"/>
<line x1="407.2" y1="624.30" x2="541.3" y2="624.30" stroke="#EBEBEB" stroke-width="1.0"/>
<line x1="407.2" y1="651.71" x2="541.3" y2="651.71" stroke="#EBEBEB" stroke-width="1.0"/>
<line x1="407.2" y1="679.12" x2="541.3" y2="679.12" stroke="#EBEBEB" stroke-width="1.0"/>
<line x1="407.2" y1="706.53" x2="541.3" y2="706.53" stroke="#EBEBEB" stroke-width="1.0"/>
<line x1="407.2" y1="733.94" x2="541.3" y2="733.94" stroke="#EBEBEB" stroke-width="1.0"/>
<line x1="407.2" y1="761.35" x2="541.3" y2="761.35" stroke="#EBEBEB" stroke-width="1.0"/>
<line x1="407.2" y1="788.76" x2="541.3" y2="788.76" stroke="#EBEBEB" stroke-width="1.0"/>
<line x1="407.2" y1="816.17" x2="541.3" y2="816.17" stroke="#EBEBEB" stroke-width="1.0"/>
<g fill="#1B9E77" fill-opacity="0.17" stroke="#1B9E77" stroke-opacity="0.3" stroke-width="0.5">
<circle cx="433.69" cy="623.30" r="1.95"/>
<circle cx="443.16" cy="624.05" r="1.95"/>
<circle cx="443.93" cy="623.05" r="1.95"/>
<circle cx="444.69" cy="626.11" r="1.95"/>
<circle cx="453.40" cy="627.26" r="1.95"/>
<circle cx="454.17" cy="623.66" r="1.95"/>
<circle cx="455.70" cy="626.12" r="1.95"/>
<circle cx="457.24" cy="623.18" r="1.95"/>
<circle cx="471.57" cy="625.99" r="1.95"/>
<circle cx="475.67" cy="622.87" r="1.95"/>
<circle cx="478.23" cy="623.40" r="1.95"/>
<circle cx="479.51" cy="622.46" r="1.95"/>
<circle cx="484.63" cy="624.49" r="1.95"/>
<circle cx="488.47" cy="623.15" r="1.95"/>
<circle cx="496.92" cy="626.63" r="1.95"/>
<circle cx="508.18" cy="622.09" r="1.95"/>
<circle cx="510.23" cy="626.68" r="1.95"/>
<circle cx="511.25" cy="622.61" r="1.95"/>
<circle cx="512.79" cy="622.61" r="1.95"/>
<circle cx="514.33" cy="625.43" r="1.95"/>
<circle cx="520.98" cy="625.38" r="1.95"/>
<circle cx="522.01" cy="622.17" r="1.95"/>
<circle cx="531.22" cy="624.89" r="1.95"/>
<circle cx="532.25" cy="623.51" r="1.95"/>
<circle cx="533.78" cy="624.95" r="1.95"/>
<circle cx="407.20" cy="623.90" r="1.95"/>
</g>
<rect x="487.12" y="617.40" width="2.7" height="13.8" fill="#1B9E77"/>
<g fill="#666666" fill-opacity="0.17" stroke="#666666" stroke-opacity="0.3" stroke-width="0.5">
<circle cx="436.85" cy="654.05" r="1.95"/>
<circle cx="459.32" cy="653.37" r="1.95"/>
<circle cx="458.11" cy="649.58" r="1.95"/>
<circle cx="450.69" cy="650.79" r="1.95"/>
<circle cx="457.98" cy="650.22" r="1.95"/>
<circle cx="460.37" cy="650.04" r="1.95"/>
<circle cx="443.83" cy="649.95" r="1.95"/>
<circle cx="458.94" cy="652.74" r="1.95"/>
<circle cx="454.99" cy="650.92" r="1.95"/>
<circle cx="451.54" cy="650.20" r="1.95"/>
<circle cx="449.93" cy="650.68" r="1.95"/>
<circle cx="443.10" cy="653.78" r="1.95"/>
<circle cx="457.17" cy="649.59" r="1.95"/>
<circle cx="441.62" cy="653.93" r="1.95"/>
<circle cx="459.88" cy="652.31" r="1.95"/>
<circle cx="454.43" cy="651.58" r="1.95"/>
<circle cx="450.30" cy="649.69" r="1.95"/>
<circle cx="444.51" cy="654.69" r="1.95"/>
<circle cx="453.63" cy="653.68" r="1.95"/>
<circle cx="443.14" cy="652.43" r="1.95"/>
<circle cx="457.66" cy="651.91" r="1.95"/>
<circle cx="439.97" cy="652.39" r="1.95"/>
<circle cx="462.24" cy="651.06" r="1.95"/>
<circle cx="442.53" cy="648.88" r="1.95"/>
<circle cx="444.17" cy="649.83" r="1.95"/>
<circle cx="457.28" cy="650.73" r="1.95"/>
<circle cx="457.05" cy="649.33" r="1.95"/>
<circle cx="454.10" cy="653.26" r="1.95"/>
<circle cx="453.03" cy="652.02" r="1.95"/>
<circle cx="458.28" cy="653.75" r="1.95"/>
<circle cx="453.92" cy="654.02" r="1.95"/>
<circle cx="456.35" cy="652.21" r="1.95"/>
<circle cx="437.03" cy="652.67" r="1.95"/>
<circle cx="452.15" cy="650.03" r="1.95"/>
<circle cx="458.76" cy="649.33" r="1.95"/>
<circle cx="445.50" cy="653.12" r="1.95"/>
<circle cx="478.83" cy="653.96" r="1.95"/>
<circle cx="478.37" cy="650.00" r="1.95"/>
<circle cx="485.61" cy="653.79" r="1.95"/>
<circle cx="485.11" cy="651.24" r="1.95"/>
<circle cx="471.10" cy="652.21" r="1.95"/>
<circle cx="483.72" cy="654.01" r="1.95"/>
<circle cx="480.16" cy="654.12" r="1.95"/>
<circle cx="480.11" cy="653.60" r="1.95"/>
<circle cx="477.63" cy="653.68" r="1.95"/>
<circle cx="415.00" cy="652.89" r="1.95"/>
<circle cx="418.33" cy="653.70" r="1.95"/>
<circle cx="407.20" cy="653.35" r="1.95"/>
<circle cx="407.20" cy="650.49" r="1.95"/>
</g>
<rect x="449.49" y="644.81" width="2.7" height="13.8" fill="#666666"/>
<g fill="#D95F02" fill-opacity="0.17" stroke="#D95F02" stroke-opacity="0.3" stroke-width="0.5">
<circle cx="440.06" cy="678.66" r="1.95"/>
<circle cx="465.13" cy="681.76" r="1.95"/>
<circle cx="438.53" cy="680.07" r="1.95"/>
<circle cx="430.02" cy="678.05" r="1.95"/>
<circle cx="444.48" cy="677.01" r="1.95"/>
<circle cx="441.19" cy="676.38" r="1.95"/>
<circle cx="436.43" cy="676.61" r="1.95"/>
<circle cx="453.19" cy="678.75" r="1.95"/>
<circle cx="452.59" cy="680.42" r="1.95"/>
<circle cx="445.81" cy="682.08" r="1.95"/>
<circle cx="452.31" cy="680.55" r="1.95"/>
<circle cx="465.24" cy="679.29" r="1.95"/>
<circle cx="456.05" cy="679.60" r="1.95"/>
<circle cx="428.73" cy="679.62" r="1.95"/>
<circle cx="466.89" cy="676.47" r="1.95"/>
<circle cx="440.26" cy="679.64" r="1.95"/>
<circle cx="421.55" cy="676.52" r="1.95"/>
<circle cx="456.69" cy="677.08" r="1.95"/>
<circle cx="423.21" cy="681.45" r="1.95"/>
<circle cx="451.36" cy="677.94" r="1.95"/>
<circle cx="447.80" cy="680.12" r="1.95"/>
<circle cx="419.77" cy="678.05" r="1.95"/>
<circle cx="462.44" cy="677.34" r="1.95"/>
<circle cx="458.47" cy="678.70" r="1.95"/>
<circle cx="440.22" cy="679.57" r="1.95"/>
<circle cx="435.02" cy="681.65" r="1.95"/>
<circle cx="451.71" cy="679.57" r="1.95"/>
<circle cx="434.78" cy="677.00" r="1.95"/>
<circle cx="423.31" cy="676.13" r="1.95"/>
<circle cx="455.22" cy="679.23" r="1.95"/>
<circle cx="454.89" cy="676.68" r="1.95"/>
<circle cx="456.97" cy="678.09" r="1.95"/>
<circle cx="444.55" cy="676.61" r="1.95"/>
<circle cx="459.94" cy="676.45" r="1.95"/>
<circle cx="455.76" cy="680.78" r="1.95"/>
<circle cx="435.47" cy="679.39" r="1.95"/>
<circle cx="448.00" cy="678.60" r="1.95"/>
<circle cx="442.89" cy="679.97" r="1.95"/>
<circle cx="449.63" cy="681.22" r="1.95"/>
<circle cx="443.49" cy="676.24" r="1.95"/>
<circle cx="432.71" cy="681.67" r="1.95"/>
<circle cx="422.68" cy="680.57" r="1.95"/>
<circle cx="421.30" cy="679.83" r="1.95"/>
<circle cx="427.02" cy="679.76" r="1.95"/>
<circle cx="455.85" cy="681.15" r="1.95"/>
<circle cx="435.49" cy="679.74" r="1.95"/>
<circle cx="425.53" cy="681.23" r="1.95"/>
<circle cx="439.37" cy="678.21" r="1.95"/>
<circle cx="431.97" cy="677.22" r="1.95"/>
<circle cx="439.14" cy="679.82" r="1.95"/>
<circle cx="446.51" cy="680.53" r="1.95"/>
<circle cx="443.67" cy="681.86" r="1.95"/>
<circle cx="447.74" cy="681.24" r="1.95"/>
<circle cx="439.36" cy="679.76" r="1.95"/>
<circle cx="440.20" cy="681.03" r="1.95"/>
<circle cx="434.46" cy="680.44" r="1.95"/>
<circle cx="454.38" cy="679.72" r="1.95"/>
<circle cx="438.79" cy="680.36" r="1.95"/>
<circle cx="438.51" cy="676.95" r="1.95"/>
<circle cx="438.03" cy="678.13" r="1.95"/>
<circle cx="456.13" cy="679.60" r="1.95"/>
<circle cx="442.77" cy="677.46" r="1.95"/>
<circle cx="432.87" cy="677.80" r="1.95"/>
<circle cx="425.02" cy="676.41" r="1.95"/>
<circle cx="440.79" cy="676.16" r="1.95"/>
<circle cx="443.66" cy="682.06" r="1.95"/>
<circle cx="437.84" cy="676.45" r="1.95"/>
<circle cx="444.13" cy="676.84" r="1.95"/>
<circle cx="455.26" cy="680.10" r="1.95"/>
<circle cx="442.35" cy="679.49" r="1.95"/>
<circle cx="446.94" cy="676.88" r="1.95"/>
<circle cx="450.73" cy="679.39" r="1.95"/>
<circle cx="447.57" cy="679.94" r="1.95"/>
<circle cx="453.12" cy="676.64" r="1.95"/>
<circle cx="447.23" cy="680.66" r="1.95"/>
<circle cx="461.60" cy="677.23" r="1.95"/>
<circle cx="440.16" cy="676.76" r="1.95"/>
<circle cx="456.03" cy="681.04" r="1.95"/>
<circle cx="459.42" cy="678.78" r="1.95"/>
<circle cx="440.87" cy="676.87" r="1.95"/>
<circle cx="438.56" cy="680.23" r="1.95"/>
<circle cx="447.00" cy="677.39" r="1.95"/>
<circle cx="446.29" cy="679.32" r="1.95"/>
<circle cx="441.47" cy="676.73" r="1.95"/>
<circle cx="447.33" cy="680.27" r="1.95"/>
<circle cx="451.43" cy="679.94" r="1.95"/>
<circle cx="447.10" cy="678.10" r="1.95"/>
<circle cx="443.64" cy="676.62" r="1.95"/>
<circle cx="435.06" cy="680.15" r="1.95"/>
<circle cx="457.08" cy="677.91" r="1.95"/>
<circle cx="459.29" cy="681.27" r="1.95"/>
<circle cx="447.00" cy="681.79" r="1.95"/>
<circle cx="437.88" cy="676.55" r="1.95"/>
<circle cx="432.23" cy="676.51" r="1.95"/>
<circle cx="440.98" cy="676.35" r="1.95"/>
<circle cx="429.33" cy="676.19" r="1.95"/>
<circle cx="421.38" cy="676.19" r="1.95"/>
<circle cx="432.72" cy="681.93" r="1.95"/>
<circle cx="439.35" cy="677.89" r="1.95"/>
<circle cx="443.20" cy="680.64" r="1.95"/>
<circle cx="452.46" cy="679.92" r="1.95"/>
<circle cx="439.53" cy="680.37" r="1.95"/>
<circle cx="450.43" cy="678.06" r="1.95"/>
<circle cx="438.28" cy="678.05" r="1.95"/>
<circle cx="441.95" cy="677.35" r="1.95"/>
<circle cx="446.92" cy="676.31" r="1.95"/>
<circle cx="445.29" cy="679.41" r="1.95"/>
<circle cx="460.91" cy="677.00" r="1.95"/>
<circle cx="426.14" cy="679.88" r="1.95"/>
<circle cx="455.92" cy="677.36" r="1.95"/>
<circle cx="474.39" cy="677.31" r="1.95"/>
<circle cx="475.93" cy="677.82" r="1.95"/>
<circle cx="482.84" cy="676.77" r="1.95"/>
<circle cx="407.20" cy="678.81" r="1.95"/>
<circle cx="407.20" cy="680.73" r="1.95"/>
<circle cx="407.20" cy="677.00" r="1.95"/>
<circle cx="407.20" cy="680.00" r="1.95"/>
<circle cx="407.20" cy="676.71" r="1.95"/>
<circle cx="407.20" cy="677.79" r="1.95"/>
<circle cx="407.20" cy="677.99" r="1.95"/>
<circle cx="407.20" cy="678.36" r="1.95"/>
<circle cx="407.20" cy="680.53" r="1.95"/>
</g>
<rect x="443.60" y="672.22" width="2.7" height="13.8" fill="#D95F02"/>
<g fill="#A6761D" fill-opacity="0.17" stroke="#A6761D" stroke-opacity="0.3" stroke-width="0.5">
<circle cx="438.62" cy="704.63" r="1.95"/>
<circle cx="440.40" cy="707.28" r="1.95"/>
<circle cx="427.32" cy="709.23" r="1.95"/>
<circle cx="453.43" cy="704.52" r="1.95"/>
<circle cx="430.79" cy="707.49" r="1.95"/>
<circle cx="437.70" cy="708.12" r="1.95"/>
<circle cx="431.86" cy="705.58" r="1.95"/>
<circle cx="430.49" cy="708.74" r="1.95"/>
<circle cx="439.63" cy="707.27" r="1.95"/>
<circle cx="449.31" cy="706.71" r="1.95"/>
<circle cx="453.56" cy="704.40" r="1.95"/>
<circle cx="438.19" cy="706.50" r="1.95"/>
<circle cx="452.51" cy="706.31" r="1.95"/>
<circle cx="459.61" cy="709.36" r="1.95"/>
<circle cx="447.74" cy="706.89" r="1.95"/>
<circle cx="450.60" cy="707.80" r="1.95"/>
<circle cx="435.14" cy="708.31" r="1.95"/>
<circle cx="465.85" cy="708.93" r="1.95"/>
<circle cx="460.19" cy="704.71" r="1.95"/>
<circle cx="455.54" cy="704.79" r="1.95"/>
<circle cx="450.13" cy="708.32" r="1.95"/>
<circle cx="443.00" cy="705.13" r="1.95"/>
<circle cx="449.87" cy="704.64" r="1.95"/>
<circle cx="442.52" cy="703.83" r="1.95"/>
<circle cx="467.70" cy="706.56" r="1.95"/>
<circle cx="464.53" cy="706.64" r="1.95"/>
<circle cx="441.63" cy="704.72" r="1.95"/>
<circle cx="462.83" cy="709.18" r="1.95"/>
<circle cx="450.85" cy="704.31" r="1.95"/>
<circle cx="439.41" cy="705.34" r="1.95"/>
<circle cx="467.67" cy="704.57" r="1.95"/>
<circle cx="465.59" cy="705.68" r="1.95"/>
<circle cx="442.68" cy="708.94" r="1.95"/>
<circle cx="449.52" cy="708.99" r="1.95"/>
<circle cx="416.88" cy="704.27" r="1.95"/>
<circle cx="438.46" cy="705.35" r="1.95"/>
<circle cx="420.23" cy="703.69" r="1.95"/>
<circle cx="450.02" cy="707.34" r="1.95"/>
<circle cx="448.57" cy="707.17" r="1.95"/>
<circle cx="442.13" cy="707.94" r="1.95"/>
<circle cx="450.26" cy="706.32" r="1.95"/>
<circle cx="423.37" cy="704.47" r="1.95"/>
<circle cx="443.86" cy="705.24" r="1.95"/>
<circle cx="461.60" cy="709.20" r="1.95"/>
<circle cx="465.18" cy="705.51" r="1.95"/>
<circle cx="430.82" cy="708.03" r="1.95"/>
<circle cx="443.06" cy="707.73" r="1.95"/>
<circle cx="438.44" cy="708.43" r="1.95"/>
<circle cx="452.94" cy="706.72" r="1.95"/>
<circle cx="439.37" cy="705.73" r="1.95"/>
<circle cx="441.04" cy="708.47" r="1.95"/>
<circle cx="437.75" cy="705.38" r="1.95"/>
<circle cx="431.96" cy="708.91" r="1.95"/>
<circle cx="456.82" cy="707.18" r="1.95"/>
<circle cx="425.31" cy="705.27" r="1.95"/>
<circle cx="461.76" cy="704.32" r="1.95"/>
<circle cx="460.12" cy="706.40" r="1.95"/>
<circle cx="447.12" cy="705.37" r="1.95"/>
<circle cx="454.41" cy="704.85" r="1.95"/>
<circle cx="451.74" cy="703.95" r="1.95"/>
<circle cx="418.22" cy="704.09" r="1.95"/>
<circle cx="465.69" cy="709.06" r="1.95"/>
<circle cx="445.56" cy="709.38" r="1.95"/>
<circle cx="447.44" cy="707.81" r="1.95"/>
<circle cx="448.48" cy="705.41" r="1.95"/>
<circle cx="428.43" cy="703.76" r="1.95"/>
<circle cx="448.22" cy="708.50" r="1.95"/>
<circle cx="464.47" cy="706.07" r="1.95"/>
<circle cx="458.16" cy="708.77" r="1.95"/>
<circle cx="436.36" cy="706.36" r="1.95"/>
<circle cx="448.68" cy="706.64" r="1.95"/>
<circle cx="433.53" cy="704.51" r="1.95"/>
<circle cx="464.57" cy="707.75" r="1.95"/>
<circle cx="466.91" cy="706.15" r="1.95"/>
<circle cx="461.42" cy="703.56" r="1.95"/>
<circle cx="423.89" cy="706.17" r="1.95"/>
<circle cx="426.85" cy="709.47" r="1.95"/>
<circle cx="455.66" cy="704.80" r="1.95"/>
<circle cx="434.64" cy="706.63" r="1.95"/>
<circle cx="438.15" cy="707.08" r="1.95"/>
<circle cx="421.71" cy="707.75" r="1.95"/>
<circle cx="448.75" cy="704.33" r="1.95"/>
<circle cx="445.27" cy="709.30" r="1.95"/>
<circle cx="439.74" cy="705.07" r="1.95"/>
<circle cx="456.53" cy="708.55" r="1.95"/>
<circle cx="441.29" cy="706.66" r="1.95"/>
<circle cx="454.58" cy="707.58" r="1.95"/>
<circle cx="467.89" cy="704.29" r="1.95"/>
<circle cx="454.29" cy="705.92" r="1.95"/>
<circle cx="443.47" cy="705.28" r="1.95"/>
<circle cx="431.76" cy="704.59" r="1.95"/>
<circle cx="433.09" cy="703.82" r="1.95"/>
<circle cx="415.79" cy="705.55" r="1.95"/>
<circle cx="455.21" cy="707.93" r="1.95"/>
<circle cx="446.22" cy="703.64" r="1.95"/>
<circle cx="455.09" cy="707.20" r="1.95"/>
<circle cx="450.17" cy="707.74" r="1.95"/>
<circle cx="457.18" cy="704.08" r="1.95"/>
<circle cx="444.66" cy="708.45" r="1.95"/>
<circle cx="467.68" cy="707.60" r="1.95"/>
<circle cx="459.84" cy="707.62" r="1.95"/>
<circle cx="449.03" cy="708.90" r="1.95"/>
<circle cx="434.10" cy="707.19" r="1.95"/>
<circle cx="450.35" cy="704.53" r="1.95"/>
<circle cx="448.45" cy="706.97" r="1.95"/>
<circle cx="449.05" cy="705.95" r="1.95"/>
<circle cx="442.96" cy="705.57" r="1.95"/>
<circle cx="418.73" cy="708.10" r="1.95"/>
<circle cx="429.73" cy="703.56" r="1.95"/>
<circle cx="444.51" cy="707.96" r="1.95"/>
<circle cx="440.42" cy="703.59" r="1.95"/>
<circle cx="422.25" cy="705.63" r="1.95"/>
<circle cx="443.22" cy="703.87" r="1.95"/>
<circle cx="443.52" cy="706.07" r="1.95"/>
<circle cx="435.71" cy="704.93" r="1.95"/>
<circle cx="459.97" cy="707.51" r="1.95"/>
<circle cx="452.95" cy="706.07" r="1.95"/>
<circle cx="426.02" cy="707.83" r="1.95"/>
<circle cx="444.58" cy="704.64" r="1.95"/>
<circle cx="435.97" cy="704.20" r="1.95"/>
<circle cx="421.68" cy="704.84" r="1.95"/>
<circle cx="437.00" cy="707.01" r="1.95"/>
<circle cx="429.89" cy="706.68" r="1.95"/>
<circle cx="438.62" cy="709.18" r="1.95"/>
<circle cx="455.01" cy="704.31" r="1.95"/>
<circle cx="457.00" cy="708.78" r="1.95"/>
<circle cx="457.74" cy="708.61" r="1.95"/>
<circle cx="442.56" cy="708.68" r="1.95"/>
<circle cx="434.34" cy="703.82" r="1.95"/>
<circle cx="417.75" cy="707.49" r="1.95"/>
<circle cx="436.88" cy="703.85" r="1.95"/>
<circle cx="445.30" cy="709.15" r="1.95"/>
<circle cx="463.75" cy="704.42" r="1.95"/>
<circle cx="435.62" cy="706.05" r="1.95"/>
<circle cx="437.89" cy="705.61" r="1.95"/>
<circle cx="449.73" cy="704.09" r="1.95"/>
<circle cx="431.69" cy="706.39" r="1.95"/>
<circle cx="441.27" cy="707.02" r="1.95"/>
<circle cx="450.49" cy="704.37" r="1.95"/>
<circle cx="456.39" cy="704.12" r="1.95"/>
<circle cx="452.00" cy="703.80" r="1.95"/>
<circle cx="457.72" cy="705.50" r="1.95"/>
<circle cx="440.57" cy="708.88" r="1.95"/>
<circle cx="460.17" cy="704.51" r="1.95"/>
<circle cx="454.51" cy="706.44" r="1.95"/>
<circle cx="438.50" cy="706.65" r="1.95"/>
<circle cx="453.70" cy="705.97" r="1.95"/>
<circle cx="449.60" cy="709.01" r="1.95"/>
<circle cx="431.71" cy="705.66" r="1.95"/>
<circle cx="451.21" cy="705.54" r="1.95"/>
<circle cx="433.61" cy="709.45" r="1.95"/>
<circle cx="441.32" cy="704.03" r="1.95"/>
<circle cx="448.83" cy="708.00" r="1.95"/>
<circle cx="419.10" cy="707.30" r="1.95"/>
<circle cx="420.55" cy="707.25" r="1.95"/>
<circle cx="441.39" cy="706.64" r="1.95"/>
<circle cx="429.54" cy="706.02" r="1.95"/>
<circle cx="464.27" cy="704.97" r="1.95"/>
<circle cx="437.02" cy="707.11" r="1.95"/>
<circle cx="464.58" cy="705.81" r="1.95"/>
<circle cx="439.56" cy="707.40" r="1.95"/>
<circle cx="454.77" cy="708.02" r="1.95"/>
<circle cx="444.98" cy="707.21" r="1.95"/>
<circle cx="456.33" cy="706.83" r="1.95"/>
<circle cx="445.21" cy="703.97" r="1.95"/>
<circle cx="447.50" cy="706.17" r="1.95"/>
<circle cx="454.14" cy="706.10" r="1.95"/>
<circle cx="466.78" cy="705.32" r="1.95"/>
<circle cx="429.40" cy="705.76" r="1.95"/>
<circle cx="440.56" cy="705.91" r="1.95"/>
<circle cx="419.06" cy="707.11" r="1.95"/>
<circle cx="447.60" cy="707.72" r="1.95"/>
<circle cx="460.21" cy="707.83" r="1.95"/>
<circle cx="462.63" cy="707.48" r="1.95"/>
<circle cx="434.55" cy="703.77" r="1.95"/>
<circle cx="418.40" cy="708.73" r="1.95"/>
<circle cx="420.13" cy="708.05" r="1.95"/>
<circle cx="420.94" cy="704.83" r="1.95"/>
<circle cx="454.07" cy="709.01" r="1.95"/>
<circle cx="418.14" cy="708.61" r="1.95"/>
<circle cx="437.67" cy="704.60" r="1.95"/>
<circle cx="427.83" cy="704.02" r="1.95"/>
<circle cx="426.72" cy="703.93" r="1.95"/>
<circle cx="441.64" cy="708.55" r="1.95"/>
<circle cx="428.82" cy="703.84" r="1.95"/>
<circle cx="441.19" cy="708.27" r="1.95"/>
<circle cx="452.85" cy="706.09" r="1.95"/>
<circle cx="458.67" cy="706.31" r="1.95"/>
<circle cx="451.84" cy="705.29" r="1.95"/>
<circle cx="425.99" cy="707.58" r="1.95"/>
<circle cx="429.08" cy="709.45" r="1.95"/>
<circle cx="455.05" cy="707.07" r="1.95"/>
<circle cx="450.02" cy="706.17" r="1.95"/>
<circle cx="423.91" cy="706.49" r="1.95"/>
<circle cx="427.62" cy="706.73" r="1.95"/>
<circle cx="431.81" cy="706.71" r="1.95"/>
<circle cx="441.10" cy="705.43" r="1.95"/>
<circle cx="421.64" cy="707.87" r="1.95"/>
<circle cx="428.64" cy="706.41" r="1.95"/>
<circle cx="443.90" cy="705.44" r="1.95"/>
<circle cx="440.18" cy="706.49" r="1.95"/>
<circle cx="447.76" cy="707.87" r="1.95"/>
<circle cx="428.25" cy="707.58" r="1.95"/>
<circle cx="429.34" cy="706.26" r="1.95"/>
<circle cx="452.07" cy="709.53" r="1.95"/>
<circle cx="456.65" cy="704.07" r="1.95"/>
<circle cx="436.63" cy="706.41" r="1.95"/>
<circle cx="443.63" cy="705.57" r="1.95"/>
<circle cx="441.71" cy="709.31" r="1.95"/>
<circle cx="441.86" cy="709.07" r="1.95"/>
<circle cx="433.29" cy="706.32" r="1.95"/>
<circle cx="456.22" cy="709.40" r="1.95"/>
<circle cx="447.26" cy="708.58" r="1.95"/>
<circle cx="451.27" cy="706.10" r="1.95"/>
<circle cx="436.48" cy="707.30" r="1.95"/>
<circle cx="425.61" cy="708.39" r="1.95"/>
<circle cx="456.95" cy="704.96" r="1.95"/>
<circle cx="437.06" cy="707.33" r="1.95"/>
<circle cx="450.71" cy="704.34" r="1.95"/>
<circle cx="466.70" cy="708.07" r="1.95"/>
<circle cx="461.70" cy="707.81" r="1.95"/>
<circle cx="446.16" cy="705.59" r="1.95"/>
<circle cx="467.06" cy="707.15" r="1.95"/>
<circle cx="439.82" cy="707.28" r="1.95"/>
<circle cx="434.73" cy="706.79" r="1.95"/>
<circle cx="429.30" cy="706.48" r="1.95"/>
<circle cx="424.36" cy="704.68" r="1.95"/>
<circle cx="440.17" cy="709.30" r="1.95"/>
<circle cx="423.02" cy="708.55" r="1.95"/>
<circle cx="436.29" cy="706.83" r="1.95"/>
<circle cx="420.09" cy="704.68" r="1.95"/>
<circle cx="453.67" cy="704.12" r="1.95"/>
<circle cx="424.67" cy="708.66" r="1.95"/>
<circle cx="425.17" cy="709.24" r="1.95"/>
<circle cx="425.67" cy="707.32" r="1.95"/>
<circle cx="453.16" cy="703.69" r="1.95"/>
<circle cx="448.89" cy="705.61" r="1.95"/>
<circle cx="446.46" cy="706.72" r="1.95"/>
<circle cx="429.53" cy="704.93" r="1.95"/>
<circle cx="443.00" cy="703.88" r="1.95"/>
<circle cx="454.00" cy="707.52" r="1.95"/>
<circle cx="428.48" cy="708.93" r="1.95"/>
<circle cx="454.72" cy="704.51" r="1.95"/>
<circle cx="430.55" cy="706.00" r="1.95"/>
<circle cx="443.08" cy="709.13" r="1.95"/>
<circle cx="416.79" cy="704.25" r="1.95"/>
<circle cx="467.84" cy="705.06" r="1.95"/>
<circle cx="448.57" cy="703.79" r="1.95"/>
<circle cx="438.04" cy="709.29" r="1.95"/>
<circle cx="456.70" cy="705.47" r="1.95"/>
<circle cx="434.20" cy="704.12" r="1.95"/>
<circle cx="484.51" cy="705.98" r="1.95"/>
<circle cx="482.60" cy="705.97" r="1.95"/>
<circle cx="485.77" cy="708.93" r="1.95"/>
<circle cx="486.90" cy="704.63" r="1.95"/>
<circle cx="483.15" cy="705.64" r="1.95"/>
<circle cx="468.32" cy="704.70" r="1.95"/>
<circle cx="479.99" cy="707.49" r="1.95"/>
<circle cx="476.34" cy="704.38" r="1.95"/>
<circle cx="481.67" cy="706.69" r="1.95"/>
<circle cx="482.38" cy="706.39" r="1.95"/>
<circle cx="477.20" cy="708.89" r="1.95"/>
<circle cx="487.47" cy="708.31" r="1.95"/>
<circle cx="472.01" cy="706.10" r="1.95"/>
<circle cx="508.18" cy="703.73" r="1.95"/>
<circle cx="519.45" cy="707.52" r="1.95"/>
<circle cx="525.59" cy="705.22" r="1.95"/>
<circle cx="527.38" cy="708.59" r="1.95"/>
<circle cx="407.20" cy="705.74" r="1.95"/>
<circle cx="407.20" cy="704.79" r="1.95"/>
<circle cx="407.20" cy="706.58" r="1.95"/>
<circle cx="407.20" cy="709.11" r="1.95"/>
<circle cx="407.20" cy="708.40" r="1.95"/>
<circle cx="407.20" cy="708.63" r="1.95"/>
<circle cx="407.20" cy="707.37" r="1.95"/>
<circle cx="407.20" cy="704.42" r="1.95"/>
<circle cx="407.20" cy="705.82" r="1.95"/>
<circle cx="407.20" cy="708.26" r="1.95"/>
<circle cx="407.20" cy="704.79" r="1.95"/>
<circle cx="407.20" cy="707.44" r="1.95"/>
<circle cx="407.20" cy="708.77" r="1.95"/>
<circle cx="407.20" cy="706.61" r="1.95"/>
<circle cx="407.20" cy="706.10" r="1.95"/>
<circle cx="407.20" cy="704.43" r="1.95"/>
<circle cx="407.20" cy="708.02" r="1.95"/>
<circle cx="407.20" cy="705.44" r="1.95"/>
<circle cx="407.20" cy="704.56" r="1.95"/>
<circle cx="407.20" cy="705.63" r="1.95"/>
<circle cx="407.20" cy="705.68" r="1.95"/>
<circle cx="407.20" cy="704.33" r="1.95"/>
<circle cx="407.20" cy="708.69" r="1.95"/>
<circle cx="407.20" cy="708.95" r="1.95"/>
<circle cx="407.20" cy="705.85" r="1.95"/>
<circle cx="407.20" cy="708.39" r="1.95"/>
</g>
<rect x="443.60" y="699.63" width="2.7" height="13.8" fill="#A6761D"/>
<g fill="#7570B3" fill-opacity="0.17" stroke="#7570B3" stroke-opacity="0.3" stroke-width="0.5">
<circle cx="433.02" cy="735.24" r="1.95"/>
<circle cx="463.36" cy="734.62" r="1.95"/>
<circle cx="427.24" cy="735.50" r="1.95"/>
<circle cx="451.82" cy="731.19" r="1.95"/>
<circle cx="465.11" cy="735.88" r="1.95"/>
<circle cx="440.23" cy="731.05" r="1.95"/>
<circle cx="456.35" cy="733.50" r="1.95"/>
<circle cx="462.74" cy="733.60" r="1.95"/>
<circle cx="429.74" cy="733.46" r="1.95"/>
<circle cx="430.99" cy="734.16" r="1.95"/>
<circle cx="457.01" cy="735.26" r="1.95"/>
<circle cx="454.92" cy="735.77" r="1.95"/>
<circle cx="452.90" cy="736.94" r="1.95"/>
<circle cx="457.62" cy="732.66" r="1.95"/>
<circle cx="444.34" cy="733.39" r="1.95"/>
<circle cx="413.56" cy="733.74" r="1.95"/>
<circle cx="441.14" cy="734.77" r="1.95"/>
<circle cx="469.02" cy="736.35" r="1.95"/>
<circle cx="441.22" cy="735.77" r="1.95"/>
<circle cx="443.52" cy="734.76" r="1.95"/>
<circle cx="465.78" cy="731.99" r="1.95"/>
<circle cx="454.68" cy="731.62" r="1.95"/>
<circle cx="454.65" cy="736.45" r="1.95"/>
<circle cx="434.04" cy="735.79" r="1.95"/>
<circle cx="415.24" cy="733.25" r="1.95"/>
<circle cx="440.89" cy="734.82" r="1.95"/>
<circle cx="462.44" cy="732.61" r="1.95"/>
<circle cx="466.14" cy="735.56" r="1.95"/>
<circle cx="434.22" cy="733.57" r="1.95"/>
<circle cx="446.78" cy="736.34" r="1.95"/>
<circle cx="455.36" cy="736.55" r="1.95"/>
<circle cx="459.08" cy="735.18" r="1.95"/>
<circle cx="436.70" cy="733.76" r="1.95"/>
<circle cx="416.22" cy="735.81" r="1.95"/>
<circle cx="458.20" cy="736.80" r="1.95"/>
<circle cx="444.48" cy="733.10" r="1.95"/>
<circle cx="460.51" cy="733.33" r="1.95"/>
<circle cx="427.29" cy="732.12" r="1.95"/>
<circle cx="458.24" cy="735.73" r="1.95"/>
<circle cx="468.14" cy="732.26" r="1.95"/>
<circle cx="459.62" cy="735.58" r="1.95"/>
<circle cx="438.10" cy="736.61" r="1.95"/>
<circle cx="426.67" cy="734.72" r="1.95"/>
<circle cx="469.03" cy="731.81" r="1.95"/>
<circle cx="447.58" cy="734.26" r="1.95"/>
<circle cx="407.20" cy="732.01" r="1.95"/>
<circle cx="407.20" cy="733.46" r="1.95"/>
<circle cx="407.20" cy="732.13" r="1.95"/>
<circle cx="407.20" cy="733.56" r="1.95"/>
</g>
<rect x="444.11" y="727.04" width="2.7" height="13.8" fill="#7570B3"/>
<g fill="#E6AB02" fill-opacity="0.17" stroke="#E6AB02" stroke-opacity="0.3" stroke-width="0.5">
<circle cx="436.85" cy="762.82" r="1.95"/>
<circle cx="427.81" cy="762.60" r="1.95"/>
<circle cx="426.91" cy="760.99" r="1.95"/>
<circle cx="449.82" cy="760.06" r="1.95"/>
<circle cx="430.50" cy="759.67" r="1.95"/>
<circle cx="435.94" cy="760.51" r="1.95"/>
<circle cx="426.78" cy="762.56" r="1.95"/>
<circle cx="449.54" cy="764.05" r="1.95"/>
<circle cx="428.50" cy="760.57" r="1.95"/>
<circle cx="460.22" cy="760.86" r="1.95"/>
<circle cx="454.46" cy="763.36" r="1.95"/>
<circle cx="446.19" cy="763.75" r="1.95"/>
<circle cx="436.61" cy="758.63" r="1.95"/>
<circle cx="429.83" cy="760.72" r="1.95"/>
<circle cx="442.88" cy="759.83" r="1.95"/>
<circle cx="458.84" cy="761.99" r="1.95"/>
<circle cx="437.62" cy="763.91" r="1.95"/>
<circle cx="418.41" cy="761.83" r="1.95"/>
<circle cx="449.69" cy="762.16" r="1.95"/>
<circle cx="452.96" cy="761.75" r="1.95"/>
<circle cx="441.36" cy="760.09" r="1.95"/>
<circle cx="448.88" cy="762.78" r="1.95"/>
<circle cx="433.27" cy="761.94" r="1.95"/>
<circle cx="462.13" cy="758.87" r="1.95"/>
<circle cx="437.13" cy="762.10" r="1.95"/>
<circle cx="436.32" cy="759.38" r="1.95"/>
<circle cx="433.17" cy="763.09" r="1.95"/>
<circle cx="423.21" cy="762.73" r="1.95"/>
<circle cx="442.19" cy="763.82" r="1.95"/>
<circle cx="422.05" cy="762.16" r="1.95"/>
<circle cx="461.64" cy="758.66" r="1.95"/>
<circle cx="425.72" cy="763.57" r="1.95"/>
<circle cx="417.74" cy="762.82" r="1.95"/>
<circle cx="419.81" cy="763.42" r="1.95"/>
<circle cx="444.17" cy="760.86" r="1.95"/>
<circle cx="443.73" cy="762.09" r="1.95"/>
<circle cx="438.60" cy="761.51" r="1.95"/>
<circle cx="455.23" cy="764.09" r="1.95"/>
<circle cx="436.47" cy="762.24" r="1.95"/>
<circle cx="417.17" cy="761.01" r="1.95"/>
<circle cx="441.37" cy="758.75" r="1.95"/>
<circle cx="420.51" cy="759.36" r="1.95"/>
<circle cx="450.98" cy="759.99" r="1.95"/>
<circle cx="463.36" cy="761.10" r="1.95"/>
<circle cx="442.76" cy="763.70" r="1.95"/>
<circle cx="452.94" cy="762.57" r="1.95"/>
<circle cx="424.15" cy="758.97" r="1.95"/>
<circle cx="459.98" cy="764.34" r="1.95"/>
<circle cx="407.20" cy="759.93" r="1.95"/>
<circle cx="407.20" cy="759.72" r="1.95"/>
<circle cx="407.20" cy="760.73" r="1.95"/>
<circle cx="407.20" cy="760.58" r="1.95"/>
<circle cx="407.20" cy="763.03" r="1.95"/>
</g>
<rect x="438.48" y="754.45" width="2.7" height="13.8" fill="#E6AB02"/>
<g fill="#E7298A" fill-opacity="0.17" stroke="#E7298A" stroke-opacity="0.3" stroke-width="0.5">
<circle cx="427.23" cy="786.07" r="1.95"/>
<circle cx="415.66" cy="787.84" r="1.95"/>
<circle cx="422.02" cy="785.93" r="1.95"/>
<circle cx="450.58" cy="790.62" r="1.95"/>
<circle cx="440.93" cy="786.16" r="1.95"/>
<circle cx="420.33" cy="787.15" r="1.95"/>
<circle cx="450.10" cy="786.59" r="1.95"/>
<circle cx="448.66" cy="787.49" r="1.95"/>
<circle cx="434.91" cy="791.41" r="1.95"/>
<circle cx="445.62" cy="790.10" r="1.95"/>
<circle cx="437.73" cy="789.77" r="1.95"/>
<circle cx="432.59" cy="790.61" r="1.95"/>
<circle cx="415.44" cy="786.66" r="1.95"/>
<circle cx="432.88" cy="787.01" r="1.95"/>
<circle cx="426.36" cy="790.27" r="1.95"/>
<circle cx="431.67" cy="790.36" r="1.95"/>
<circle cx="421.19" cy="789.64" r="1.95"/>
<circle cx="422.98" cy="787.93" r="1.95"/>
<circle cx="436.71" cy="786.55" r="1.95"/>
<circle cx="434.11" cy="789.27" r="1.95"/>
<circle cx="429.13" cy="789.54" r="1.95"/>
<circle cx="436.62" cy="785.93" r="1.95"/>
<circle cx="448.12" cy="791.47" r="1.95"/>
<circle cx="441.23" cy="789.46" r="1.95"/>
<circle cx="418.27" cy="786.45" r="1.95"/>
<circle cx="442.11" cy="788.52" r="1.95"/>
<circle cx="432.36" cy="790.89" r="1.95"/>
<circle cx="441.34" cy="787.23" r="1.95"/>
<circle cx="435.99" cy="789.90" r="1.95"/>
<circle cx="441.77" cy="786.07" r="1.95"/>
<circle cx="439.01" cy="786.22" r="1.95"/>
<circle cx="432.17" cy="787.97" r="1.95"/>
<circle cx="440.57" cy="786.83" r="1.95"/>
<circle cx="454.19" cy="790.42" r="1.95"/>
<circle cx="419.82" cy="788.59" r="1.95"/>
<circle cx="432.92" cy="786.85" r="1.95"/>
<circle cx="456.43" cy="791.26" r="1.95"/>
<circle cx="449.95" cy="790.10" r="1.95"/>
<circle cx="425.76" cy="786.74" r="1.95"/>
<circle cx="451.51" cy="787.21" r="1.95"/>
<circle cx="414.44" cy="791.47" r="1.95"/>
<circle cx="424.76" cy="786.81" r="1.95"/>
<circle cx="421.98" cy="786.05" r="1.95"/>
<circle cx="421.39" cy="788.09" r="1.95"/>
<circle cx="438.18" cy="791.02" r="1.95"/>
<circle cx="443.63" cy="790.39" r="1.95"/>
<circle cx="428.31" cy="785.77" r="1.95"/>
<circle cx="446.83" cy="786.82" r="1.95"/>
<circle cx="451.63" cy="788.65" r="1.95"/>
<circle cx="407.20" cy="789.01" r="1.95"/>
<circle cx="407.20" cy="789.57" r="1.95"/>
<circle cx="407.20" cy="787.36" r="1.95"/>
<circle cx="407.20" cy="789.49" r="1.95"/>
<circle cx="407.20" cy="787.28" r="1.95"/>
<circle cx="407.20" cy="787.15" r="1.95"/>
</g>
<rect x="430.80" y="781.86" width="2.7" height="13.8" fill="#E7298A"/>
<g fill="#66A61E" fill-opacity="0.17" stroke="#66A61E" stroke-opacity="0.3" stroke-width="0.5">
<circle cx="465.98" cy="814.94" r="1.95"/>
<circle cx="438.07" cy="817.65" r="1.95"/>
<circle cx="447.33" cy="813.19" r="1.95"/>
<circle cx="443.82" cy="814.92" r="1.95"/>
<circle cx="439.84" cy="817.42" r="1.95"/>
<circle cx="459.94" cy="818.26" r="1.95"/>
<circle cx="448.15" cy="814.92" r="1.95"/>
<circle cx="460.60" cy="817.13" r="1.95"/>
<circle cx="438.38" cy="815.82" r="1.95"/>
<circle cx="433.57" cy="815.87" r="1.95"/>
<circle cx="442.31" cy="815.27" r="1.95"/>
<circle cx="442.97" cy="818.22" r="1.95"/>
<circle cx="445.68" cy="814.75" r="1.95"/>
<circle cx="437.12" cy="816.81" r="1.95"/>
<circle cx="419.03" cy="817.59" r="1.95"/>
<circle cx="460.73" cy="818.48" r="1.95"/>
<circle cx="451.02" cy="816.26" r="1.95"/>
<circle cx="417.30" cy="814.90" r="1.95"/>
<circle cx="436.65" cy="817.79" r="1.95"/>
<circle cx="423.42" cy="813.24" r="1.95"/>
<circle cx="450.24" cy="813.46" r="1.95"/>
<circle cx="419.32" cy="813.62" r="1.95"/>
<circle cx="450.19" cy="814.92" r="1.95"/>
<circle cx="454.51" cy="818.28" r="1.95"/>
<circle cx="455.30" cy="814.62" r="1.95"/>
<circle cx="437.43" cy="818.74" r="1.95"/>
<circle cx="453.96" cy="817.50" r="1.95"/>
<circle cx="446.54" cy="817.34" r="1.95"/>
<circle cx="431.21" cy="819.02" r="1.95"/>
<circle cx="435.89" cy="816.15" r="1.95"/>
<circle cx="447.09" cy="818.80" r="1.95"/>
<circle cx="442.32" cy="813.72" r="1.95"/>
<circle cx="444.11" cy="814.79" r="1.95"/>
<circle cx="467.12" cy="818.00" r="1.95"/>
<circle cx="437.04" cy="817.06" r="1.95"/>
<circle cx="455.45" cy="817.57" r="1.95"/>
<circle cx="441.48" cy="814.26" r="1.95"/>
<circle cx="415.88" cy="816.31" r="1.95"/>
<circle cx="452.68" cy="815.07" r="1.95"/>
<circle cx="449.51" cy="813.54" r="1.95"/>
<circle cx="414.74" cy="817.77" r="1.95"/>
<circle cx="435.88" cy="814.98" r="1.95"/>
<circle cx="426.03" cy="813.86" r="1.95"/>
<circle cx="444.87" cy="816.49" r="1.95"/>
<circle cx="442.32" cy="816.01" r="1.95"/>
<circle cx="431.87" cy="814.00" r="1.95"/>
<circle cx="460.20" cy="817.21" r="1.95"/>
<circle cx="453.59" cy="817.82" r="1.95"/>
<circle cx="434.24" cy="818.76" r="1.95"/>
<circle cx="436.93" cy="816.85" r="1.95"/>
<circle cx="449.23" cy="817.07" r="1.95"/>
<circle cx="423.37" cy="816.27" r="1.95"/>
<circle cx="442.21" cy="814.53" r="1.95"/>
<circle cx="455.39" cy="817.61" r="1.95"/>
<circle cx="422.17" cy="818.14" r="1.95"/>
<circle cx="446.64" cy="814.50" r="1.95"/>
<circle cx="444.53" cy="816.51" r="1.95"/>
<circle cx="447.72" cy="814.84" r="1.95"/>
<circle cx="431.65" cy="818.96" r="1.95"/>
<circle cx="416.25" cy="815.54" r="1.95"/>
<circle cx="443.18" cy="818.89" r="1.95"/>
<circle cx="462.70" cy="818.52" r="1.95"/>
<circle cx="427.75" cy="817.08" r="1.95"/>
<circle cx="449.63" cy="813.32" r="1.95"/>
<circle cx="441.33" cy="813.21" r="1.95"/>
<circle cx="439.14" cy="815.87" r="1.95"/>
<circle cx="451.87" cy="816.23" r="1.95"/>
<circle cx="432.21" cy="817.87" r="1.95"/>
<circle cx="425.29" cy="817.08" r="1.95"/>
<circle cx="453.54" cy="815.70" r="1.95"/>
<circle cx="450.31" cy="813.77" r="1.95"/>
<circle cx="454.15" cy="818.39" r="1.95"/>
<circle cx="441.38" cy="813.93" r="1.95"/>
<circle cx="447.20" cy="813.81" r="1.95"/>
<circle cx="430.26" cy="814.94" r="1.95"/>
<circle cx="445.55" cy="814.50" r="1.95"/>
<circle cx="445.23" cy="819.11" r="1.95"/>
<circle cx="443.22" cy="813.91" r="1.95"/>
<circle cx="433.35" cy="817.68" r="1.95"/>
<circle cx="457.05" cy="816.65" r="1.95"/>
<circle cx="430.99" cy="817.66" r="1.95"/>
<circle cx="423.83" cy="814.31" r="1.95"/>
<circle cx="445.81" cy="819.03" r="1.95"/>
<circle cx="442.48" cy="814.57" r="1.95"/>
<circle cx="425.82" cy="818.93" r="1.95"/>
<circle cx="422.32" cy="818.94" r="1.95"/>
<circle cx="446.93" cy="813.21" r="1.95"/>
<circle cx="439.87" cy="816.84" r="1.95"/>
<circle cx="457.14" cy="816.46" r="1.95"/>
<circle cx="435.48" cy="816.32" r="1.95"/>
<circle cx="457.00" cy="815.28" r="1.95"/>
<circle cx="429.27" cy="815.43" r="1.95"/>
<circle cx="456.73" cy="814.09" r="1.95"/>
<circle cx="446.96" cy="814.07" r="1.95"/>
<circle cx="444.67" cy="817.92" r="1.95"/>
<circle cx="452.34" cy="813.73" r="1.95"/>
<circle cx="448.00" cy="817.41" r="1.95"/>
<circle cx="453.11" cy="815.50" r="1.95"/>
<circle cx="460.73" cy="817.95" r="1.95"/>
<circle cx="437.63" cy="815.21" r="1.95"/>
<circle cx="432.75" cy="819.14" r="1.95"/>
<circle cx="432.19" cy="817.05" r="1.95"/>
<circle cx="450.10" cy="815.69" r="1.95"/>
<circle cx="438.44" cy="813.58" r="1.95"/>
<circle cx="418.39" cy="815.15" r="1.95"/>
<circle cx="441.78" cy="813.68" r="1.95"/>
<circle cx="431.03" cy="818.16" r="1.95"/>
<circle cx="437.80" cy="818.43" r="1.95"/>
<circle cx="447.50" cy="818.95" r="1.95"/>
<circle cx="421.58" cy="818.86" r="1.95"/>
<circle cx="419.18" cy="813.62" r="1.95"/>
<circle cx="450.69" cy="816.07" r="1.95"/>
<circle cx="426.79" cy="813.60" r="1.95"/>
<circle cx="457.10" cy="817.47" r="1.95"/>
<circle cx="442.30" cy="813.22" r="1.95"/>
<circle cx="448.82" cy="814.03" r="1.95"/>
<circle cx="445.09" cy="816.03" r="1.95"/>
<circle cx="442.54" cy="813.87" r="1.95"/>
<circle cx="420.72" cy="813.37" r="1.95"/>
<circle cx="428.27" cy="818.06" r="1.95"/>
<circle cx="443.81" cy="817.73" r="1.95"/>
<circle cx="447.65" cy="813.32" r="1.95"/>
<circle cx="437.80" cy="816.12" r="1.95"/>
<circle cx="467.03" cy="817.46" r="1.95"/>
<circle cx="433.46" cy="817.31" r="1.95"/>
<circle cx="436.92" cy="817.79" r="1.95"/>
<circle cx="443.05" cy="818.28" r="1.95"/>
<circle cx="429.86" cy="816.97" r="1.95"/>
<circle cx="442.22" cy="816.26" r="1.95"/>
<circle cx="430.26" cy="814.61" r="1.95"/>
<circle cx="456.61" cy="813.33" r="1.95"/>
<circle cx="459.47" cy="814.57" r="1.95"/>
<circle cx="428.09" cy="815.27" r="1.95"/>
<circle cx="407.20" cy="813.72" r="1.95"/>
<circle cx="407.20" cy="818.48" r="1.95"/>
<circle cx="407.20" cy="815.91" r="1.95"/>
<circle cx="407.20" cy="814.33" r="1.95"/>
<circle cx="407.20" cy="814.44" r="1.95"/>
<circle cx="407.20" cy="815.22" r="1.95"/>
<circle cx="407.20" cy="814.96" r="1.95"/>
<circle cx="407.20" cy="814.11" r="1.95"/>
<circle cx="407.20" cy="816.81" r="1.95"/>
</g>
<rect x="443.09" y="809.27" width="2.7" height="13.8" fill="#66A61E"/>
<rect x="407.2" y="607.9" width="134.1" height="224.80" fill="none" stroke="#333333" stroke-width="1.2"/>
<line x1="404.0" y1="624.30" x2="407.2" y2="624.30" stroke="#333333" stroke-width="1.25"/>
<line x1="404.0" y1="651.71" x2="407.2" y2="651.71" stroke="#333333" stroke-width="1.25"/>
<line x1="404.0" y1="679.12" x2="407.2" y2="679.12" stroke="#333333" stroke-width="1.25"/>
<line x1="404.0" y1="706.53" x2="407.2" y2="706.53" stroke="#333333" stroke-width="1.25"/>
<line x1="404.0" y1="733.94" x2="407.2" y2="733.94" stroke="#333333" stroke-width="1.25"/>
<line x1="404.0" y1="761.35" x2="407.2" y2="761.35" stroke="#333333" stroke-width="1.25"/>
<line x1="404.0" y1="788.76" x2="407.2" y2="788.76" stroke="#333333" stroke-width="1.25"/>
<line x1="404.0" y1="816.17" x2="407.2" y2="816.17" stroke="#333333" stroke-width="1.25"/>
<line x1="412.95" y1="832.7" x2="412.95" y2="835.90" stroke="#333333" stroke-width="1.25"/>
<text x="405.19" y="844.20" textLength="15.57" lengthAdjust="spacingAndGlyphs" style='font-family:"Liberation Sans",sans-serif;font-size:8.5px;' fill="#333333" stroke="#333333" stroke-width="0.25">0.01</text>
<line x1="438.55" y1="832.7" x2="438.55" y2="835.90" stroke="#333333" stroke-width="1.25"/>
<text x="430.75" y="844.20" textLength="15.57" lengthAdjust="spacingAndGlyphs" style='font-family:"Liberation Sans",sans-serif;font-size:8.5px;' fill="#333333" stroke="#333333" stroke-width="0.25">0.10</text>
<line x1="464.15" y1="832.7" x2="464.15" y2="835.90" stroke="#333333" stroke-width="1.25"/>
<text x="461.81" y="844.20" textLength="4.45" lengthAdjust="spacingAndGlyphs" style='font-family:"Liberation Sans",sans-serif;font-size:8.5px;' fill="#333333" stroke="#333333" stroke-width="0.25">1</text>
<line x1="489.75" y1="832.7" x2="489.75" y2="835.90" stroke="#333333" stroke-width="1.25"/>
<text x="485.15" y="844.20" textLength="8.90" lengthAdjust="spacingAndGlyphs" style='font-family:"Liberation Sans",sans-serif;font-size:8.5px;' fill="#333333" stroke="#333333" stroke-width="0.25">10</text>
<line x1="515.35" y1="832.7" x2="515.35" y2="835.90" stroke="#333333" stroke-width="1.25"/>
<text x="508.53" y="844.20" textLength="13.35" lengthAdjust="spacingAndGlyphs" style='font-family:"Liberation Sans",sans-serif;font-size:8.5px;' fill="#333333" stroke="#333333" stroke-width="0.25">100</text>
<text x="467.31" y="854.30" textLength="16.25" lengthAdjust="spacingAndGlyphs" style='font-family:"Liberation Sans",sans-serif;font-size:8.0px;' fill="#111111" stroke="#111111" stroke-width="0.25">TPM</text>
<text x="450.88" y="601.00" textLength="42.70" lengthAdjust="spacingAndGlyphs" style='font-family:"Liberation Sans",sans-serif;font-size:13.2px;font-style:italic;' fill="#000" stroke="#000" stroke-width="0.25">CLDN6</text>
<line x1="587.80" y1="607.9" x2="587.80" y2="832.7" stroke="#EBEBEB" stroke-width="0.75"/>
<line x1="627.60" y1="607.9" x2="627.60" y2="832.7" stroke="#EBEBEB" stroke-width="0.75"/>
<line x1="667.40" y1="607.9" x2="667.40" y2="832.7" stroke="#EBEBEB" stroke-width="0.75"/>
<line x1="567.90" y1="607.9" x2="567.90" y2="832.7" stroke="#EBEBEB" stroke-width="1.0"/>
<line x1="607.70" y1="607.9" x2="607.70" y2="832.7" stroke="#EBEBEB" stroke-width="1.0"/>
<line x1="647.50" y1="607.9" x2="647.50" y2="832.7" stroke="#EBEBEB" stroke-width="1.0"/>
<line x1="550.1" y1="624.30" x2="684.2" y2="624.30" stroke="#EBEBEB" stroke-width="1.0"/>
<line x1="550.1" y1="651.71" x2="684.2" y2="651.71" stroke="#EBEBEB" stroke-width="1.0"/>
<line x1="550.1" y1="679.12" x2="684.2" y2="679.12" stroke="#EBEBEB" stroke-width="1.0"/>
<line x1="550.1" y1="706.53" x2="684.2" y2="706.53" stroke="#EBEBEB" stroke-width="1.0"/>
<line x1="550.1" y1="733.94" x2="684.2" y2="733.94" stroke="#EBEBEB" stroke-width="1.0"/>
<line x1="550.1" y1="761.35" x2="684.2" y2="761.35" stroke="#EBEBEB" stroke-width="1.0"/>
<line x1="550.1" y1="788.76" x2="684.2" y2="788.76" stroke="#EBEBEB" stroke-width="1.0"/>
<line x1="550.1" y1="816.17" x2="684.2" y2="816.17" stroke="#EBEBEB" stroke-width="1.0"/>
<g fill="#1B9E77" fill-opacity="0.17" stroke="#1B9E77" stroke-opacity="0.3" stroke-width="0.5">
<circle cx="654.44" cy="626.29" r="1.95"/>
<circle cx="664.48" cy="626.43" r="1.95"/>
<circle cx="642.20" cy="622.39" r="1.95"/>
<circle cx="651.60" cy="624.80" r="1.95"/>
<circle cx="653.10" cy="627.12" r="1.95"/>
<circle cx="637.42" cy="624.70" r="1.95"/>
<circle cx="638.99" cy="624.12" r="1.95"/>
<circle cx="631.21" cy="623.61" r="1.95"/>
<circle cx="634.77" cy="623.89" r="1.95"/>
<circle cx="628.54" cy="624.00" r="1.95"/>
<circle cx="632.86" cy="622.54" r="1.95"/>
<circle cx="655.01" cy="622.52" r="1.95"/>
<circle cx="628.62" cy="622.41" r="1.95"/>
<circle cx="650.70" cy="623.32" r="1.95"/>
<circle cx="631.20" cy="622.67" r="1.95"/>
<circle cx="632.33" cy="625.87" r="1.95"/>
<circle cx="632.81" cy="623.08" r="1.95"/>
<circle cx="635.82" cy="625.33" r="1.95"/>
<circle cx="634.59" cy="626.94" r="1.95"/>
<circle cx="626.84" cy="626.71" r="1.95"/>
<circle cx="648.43" cy="625.57" r="1.95"/>
<circle cx="625.94" cy="626.83" r="1.95"/>
<circle cx="667.29" cy="624.88" r="1.95"/>
<circle cx="665.22" cy="627.16" r="1.95"/>
<circle cx="655.55" cy="622.32" r="1.95"/>
<circle cx="645.44" cy="626.59" r="1.95"/>
</g>
<rect x="649.33" y="617.40" width="2.7" height="13.8" fill="#1B9E77"/>
<g fill="#666666" fill-opacity="0.17" stroke="#666666" stroke-opacity="0.3" stroke-width="0.5">
<circle cx="618.17" cy="654.38" r="1.95"/>
<circle cx="620.34" cy="649.61" r="1.95"/>
<circle cx="624.81" cy="650.21" r="1.95"/>
<circle cx="632.09" cy="653.01" r="1.95"/>
<circle cx="650.50" cy="652.39" r="1.95"/>
<circle cx="639.31" cy="650.91" r="1.95"/>
<circle cx="643.25" cy="653.49" r="1.95"/>
<circle cx="611.73" cy="649.28" r="1.95"/>
<circle cx="644.93" cy="653.68" r="1.95"/>
<circle cx="608.04" cy="654.53" r="1.95"/>
<circle cx="644.48" cy="651.73" r="1.95"/>
<circle cx="630.51" cy="654.14" r="1.95"/>
<circle cx="637.66" cy="650.46" r="1.95"/>
<circle cx="598.89" cy="651.79" r="1.95"/>
<circle cx="649.24" cy="651.25" r="1.95"/>
<circle cx="653.78" cy="652.14" r="1.95"/>
<circle cx="613.32" cy="650.80" r="1.95"/>
<circle cx="644.22" cy="654.66" r="1.95"/>
<circle cx="611.45" cy="653.91" r="1.95"/>
<circle cx="603.42" cy="648.95" r="1.95"/>
<circle cx="649.41" cy="654.51" r="1.95"/>
<circle cx="640.12" cy="651.53" r="1.95"/>
<circle cx="653.11" cy="653.03" r="1.95"/>
<circle cx="617.36" cy="650.95" r="1.95"/>
<circle cx="618.68" cy="649.22" r="1.95"/>
<circle cx="655.07" cy="653.30" r="1.95"/>
<circle cx="634.91" cy="651.76" r="1.95"/>
<circle cx="656.04" cy="650.32" r="1.95"/>
<circle cx="635.66" cy="649.48" r="1.95"/>
<circle cx="622.82" cy="653.51" r="1.95"/>
<circle cx="631.20" cy="650.02" r="1.95"/>
<circle cx="597.57" cy="650.21" r="1.95"/>
<circle cx="628.50" cy="654.29" r="1.95"/>
<circle cx="638.73" cy="652.36" r="1.95"/>
<circle cx="642.18" cy="653.86" r="1.95"/>
<circle cx="631.42" cy="654.65" r="1.95"/>
<circle cx="614.13" cy="648.73" r="1.95"/>
<circle cx="639.59" cy="649.68" r="1.95"/>
<circle cx="604.75" cy="652.75" r="1.95"/>
<circle cx="608.32" cy="652.41" r="1.95"/>
<circle cx="652.41" cy="648.74" r="1.95"/>
<circle cx="641.13" cy="654.64" r="1.95"/>
<circle cx="640.96" cy="654.63" r="1.95"/>
<circle cx="637.14" cy="649.37" r="1.95"/>
<circle cx="635.42" cy="652.30" r="1.95"/>
<circle cx="598.57" cy="652.68" r="1.95"/>
<circle cx="611.84" cy="654.70" r="1.95"/>
<circle cx="631.20" cy="648.78" r="1.95"/>
<circle cx="564.32" cy="651.08" r="1.95"/>
</g>
<rect x="631.82" y="644.81" width="2.7" height="13.8" fill="#666666"/>
<g fill="#D95F02" fill-opacity="0.17" stroke="#D95F02" stroke-opacity="0.3" stroke-width="0.5">
<circle cx="638.85" cy="678.65" r="1.95"/>
<circle cx="630.34" cy="678.75" r="1.95"/>
<circle cx="612.83" cy="677.67" r="1.95"/>
<circle cx="628.48" cy="678.98" r="1.95"/>
<circle cx="612.22" cy="677.22" r="1.95"/>
<circle cx="637.18" cy="680.35" r="1.95"/>
<circle cx="638.74" cy="678.97" r="1.95"/>
<circle cx="639.83" cy="681.34" r="1.95"/>
<circle cx="644.14" cy="679.45" r="1.95"/>
<circle cx="639.65" cy="676.24" r="1.95"/>
<circle cx="627.79" cy="680.76" r="1.95"/>
<circle cx="599.41" cy="679.01" r="1.95"/>
<circle cx="626.80" cy="680.46" r="1.95"/>
<circle cx="628.40" cy="677.21" r="1.95"/>
<circle cx="612.88" cy="681.69" r="1.95"/>
<circle cx="628.60" cy="679.05" r="1.95"/>
<circle cx="584.33" cy="679.81" r="1.95"/>
<circle cx="638.51" cy="679.64" r="1.95"/>
<circle cx="594.58" cy="680.36" r="1.95"/>
<circle cx="638.92" cy="679.70" r="1.95"/>
<circle cx="619.14" cy="676.22" r="1.95"/>
<circle cx="631.17" cy="679.79" r="1.95"/>
<circle cx="620.53" cy="681.43" r="1.95"/>
<circle cx="622.39" cy="681.81" r="1.95"/>
<circle cx="592.68" cy="680.07" r="1.95"/>
<circle cx="606.47" cy="678.80" r="1.95"/>
<circle cx="606.61" cy="680.70" r="1.95"/>
<circle cx="621.10" cy="680.82" r="1.95"/>
<circle cx="614.38" cy="676.13" r="1.95"/>
<circle cx="625.86" cy="679.16" r="1.95"/>
<circle cx="629.06" cy="679.32" r="1.95"/>
<circle cx="624.11" cy="678.88" r="1.95"/>
<circle cx="608.06" cy="678.20" r="1.95"/>
<circle cx="626.35" cy="677.20" r="1.95"/>
<circle cx="602.39" cy="680.78" r="1.95"/>
<circle cx="632.66" cy="677.95" r="1.95"/>
<circle cx="628.84" cy="676.47" r="1.95"/>
<circle cx="629.60" cy="676.24" r="1.95"/>
<circle cx="590.17" cy="680.36" r="1.95"/>
<circle cx="604.90" cy="676.21" r="1.95"/>
<circle cx="605.10" cy="680.58" r="1.95"/>
<circle cx="611.80" cy="679.90" r="1.95"/>
<circle cx="622.92" cy="680.49" r="1.95"/>
<circle cx="623.25" cy="681.22" r="1.95"/>
<circle cx="605.28" cy="679.63" r="1.95"/>
<circle cx="609.21" cy="679.02" r="1.95"/>
<circle cx="626.28" cy="678.44" r="1.95"/>
<circle cx="619.35" cy="678.00" r="1.95"/>
<circle cx="641.57" cy="677.88" r="1.95"/>
<circle cx="610.69" cy="681.55" r="1.95"/>
<circle cx="620.86" cy="677.40" r="1.95"/>
<circle cx="631.08" cy="681.60" r="1.95"/>
<circle cx="589.64" cy="678.80" r="1.95"/>
<circle cx="588.35" cy="676.21" r="1.95"/>
<circle cx="626.25" cy="680.42" r="1.95"/>
<circle cx="613.00" cy="680.38" r="1.95"/>
<circle cx="615.73" cy="682.08" r="1.95"/>
<circle cx="626.74" cy="676.62" r="1.95"/>
<circle cx="609.28" cy="679.94" r="1.95"/>
<circle cx="629.92" cy="681.89" r="1.95"/>
<circle cx="600.99" cy="680.71" r="1.95"/>
<circle cx="631.44" cy="681.92" r="1.95"/>
<circle cx="620.48" cy="676.85" r="1.95"/>
<circle cx="618.43" cy="677.42" r="1.95"/>
<circle cx="610.42" cy="680.20" r="1.95"/>
<circle cx="648.03" cy="676.86" r="1.95"/>
<circle cx="612.98" cy="676.22" r="1.95"/>
<circle cx="631.43" cy="681.78" r="1.95"/>
<circle cx="587.90" cy="680.65" r="1.95"/>
<circle cx="646.53" cy="680.41" r="1.95"/>
<circle cx="620.20" cy="678.49" r="1.95"/>
<circle cx="620.64" cy="679.05" r="1.95"/>
<circle cx="627.36" cy="677.73" r="1.95"/>
<circle cx="615.11" cy="678.80" r="1.95"/>
<circle cx="603.75" cy="677.06" r="1.95"/>
<circle cx="616.73" cy="682.05" r="1.95"/>
<circle cx="636.62" cy="680.55" r="1.95"/>
<circle cx="618.61" cy="678.45" r="1.95"/>
<circle cx="639.74" cy="680.02" r="1.95"/>
<circle cx="615.65" cy="677.17" r="1.95"/>
<circle cx="639.79" cy="676.31" r="1.95"/>
<circle cx="626.53" cy="679.85" r="1.95"/>
<circle cx="621.84" cy="677.80" r="1.95"/>
<circle cx="607.78" cy="677.84" r="1.95"/>
<circle cx="637.64" cy="678.52" r="1.95"/>
<circle cx="602.84" cy="682.09" r="1.95"/>
<circle cx="634.87" cy="681.93" r="1.95"/>
<circle cx="616.72" cy="680.81" r="1.95"/>
<circle cx="614.75" cy="679.42" r="1.95"/>
<circle cx="604.27" cy="681.20" r="1.95"/>
<circle cx="612.27" cy="677.95" r="1.95"/>
<circle cx="613.41" cy="681.64" r="1.95"/>
<circle cx="618.57" cy="680.71" r="1.95"/>
<circle cx="616.91" cy="677.85" r="1.95"/>
<circle cx="611.39" cy="680.72" r="1.95"/>
<circle cx="627.97" cy="678.74" r="1.95"/>
<circle cx="606.63" cy="677.58" r="1.95"/>
<circle cx="607.70" cy="678.35" r="1.95"/>
<circle cx="646.81" cy="678.46" r="1.95"/>
<circle cx="638.42" cy="676.86" r="1.95"/>
<circle cx="644.68" cy="681.62" r="1.95"/>
<circle cx="629.07" cy="679.74" r="1.95"/>
<circle cx="634.93" cy="680.10" r="1.95"/>
<circle cx="634.38" cy="676.28" r="1.95"/>
<circle cx="601.58" cy="676.82" r="1.95"/>
<circle cx="628.66" cy="679.79" r="1.95"/>
<circle cx="602.04" cy="679.85" r="1.95"/>
<circle cx="630.21" cy="681.27" r="1.95"/>
<circle cx="606.05" cy="677.98" r="1.95"/>
<circle cx="609.40" cy="677.42" r="1.95"/>
<circle cx="608.84" cy="678.26" r="1.95"/>
<circle cx="632.87" cy="681.99" r="1.95"/>
<circle cx="633.68" cy="681.66" r="1.95"/>
<circle cx="615.33" cy="676.40" r="1.95"/>
<circle cx="625.28" cy="680.28" r="1.95"/>
<circle cx="619.25" cy="679.48" r="1.95"/>
<circle cx="628.71" cy="682.08" r="1.95"/>
<circle cx="621.22" cy="679.65" r="1.95"/>
<circle cx="610.64" cy="679.29" r="1.95"/>
<circle cx="616.80" cy="680.32" r="1.95"/>
<circle cx="612.90" cy="678.75" r="1.95"/>
<circle cx="568.30" cy="679.14" r="1.95"/>
</g>
<rect x="623.46" y="672.22" width="2.7" height="13.8" fill="#D95F02"/>
<g fill="#A6761D" fill-opacity="0.17" stroke="#A6761D" stroke-opacity="0.3" stroke-width="0.5">
<circle cx="576.35" cy="708.99" r="1.95"/>
<circle cx="584.03" cy="709.21" r="1.95"/>
<circle cx="593.99" cy="704.66" r="1.95"/>
<circle cx="599.42" cy="706.62" r="1.95"/>
<circle cx="640.86" cy="709.30" r="1.95"/>
<circle cx="623.10" cy="707.89" r="1.95"/>
<circle cx="630.74" cy="707.57" r="1.95"/>
<circle cx="630.79" cy="704.38" r="1.95"/>
<circle cx="640.93" cy="704.82" r="1.95"/>
<circle cx="590.53" cy="707.16" r="1.95"/>
<circle cx="632.60" cy="708.81" r="1.95"/>
<circle cx="627.68" cy="709.26" r="1.95"/>
<circle cx="635.79" cy="706.48" r="1.95"/>
<circle cx="597.64" cy="706.19" r="1.95"/>
<circle cx="609.76" cy="704.87" r="1.95"/>
<circle cx="646.40" cy="706.47" r="1.95"/>
<circle cx="638.93" cy="703.78" r="1.95"/>
<circle cx="593.44" cy="708.62" r="1.95"/>
<circle cx="631.53" cy="705.87" r="1.95"/>
<circle cx="591.63" cy="707.56" r="1.95"/>
<circle cx="652.59" cy="706.12" r="1.95"/>
<circle cx="625.09" cy="705.67" r="1.95"/>
<circle cx="560.75" cy="703.57" r="1.95"/>
<circle cx="602.59" cy="705.11" r="1.95"/>
<circle cx="622.07" cy="704.39" r="1.95"/>
<circle cx="647.25" cy="703.69" r="1.95"/>
<circle cx="630.05" cy="704.93" r="1.95"/>
<circle cx="590.85" cy="706.51" r="1.95"/>
<circle cx="621.20" cy="707.09" r="1.95"/>
<circle cx="583.48" cy="707.34" r="1.95"/>
<circle cx="629.72" cy="706.97" r="1.95"/>
<circle cx="634.62" cy="704.37" r="1.95"/>
<circle cx="655.40" cy="705.76" r="1.95"/>
<circle cx="643.69" cy="706.11" r="1.95"/>
<circle cx="568.61" cy="703.98" r="1.95"/>
<circle cx="617.10" cy="703.58" r="1.95"/>
<circle cx="645.43" cy="704.90" r="1.95"/>
<circle cx="632.91" cy="703.81" r="1.95"/>
<circle cx="619.32" cy="704.52" r="1.95"/>
<circle cx="630.56" cy="703.81" r="1.95"/>
<circle cx="621.14" cy="705.53" r="1.95"/>
<circle cx="645.16" cy="703.89" r="1.95"/>
<circle cx="622.27" cy="703.81" r="1.95"/>
<circle cx="630.30" cy="707.81" r="1.95"/>
<circle cx="659.06" cy="707.87" r="1.95"/>
<circle cx="625.44" cy="708.58" r="1.95"/>
<circle cx="608.96" cy="703.67" r="1.95"/>
<circle cx="636.08" cy="708.42" r="1.95"/>
<circle cx="620.72" cy="708.96" r="1.95"/>
<circle cx="627.05" cy="705.87" r="1.95"/>
<circle cx="619.24" cy="709.31" r="1.95"/>
<circle cx="626.75" cy="706.76" r="1.95"/>
<circle cx="625.05" cy="707.05" r="1.95"/>
<circle cx="604.35" cy="705.47" r="1.95"/>
<circle cx="611.28" cy="708.38" r="1.95"/>
<circle cx="603.85" cy="706.00" r="1.95"/>
<circle cx="575.32" cy="704.47" r="1.95"/>
<circle cx="623.18" cy="707.10" r="1.95"/>
<circle cx="588.12" cy="706.62" r="1.95"/>
<circle cx="616.30" cy="705.74" r="1.95"/>
<circle cx="628.39" cy="704.66" r="1.95"/>
<circle cx="589.33" cy="708.39" r="1.95"/>
<circle cx="627.96" cy="704.71" r="1.95"/>
<circle cx="579.16" cy="704.68" r="1.95"/>
<circle cx="620.61" cy="708.97" r="1.95"/>
<circle cx="625.08" cy="709.44" r="1.95"/>
<circle cx="624.00" cy="704.88" r="1.95"/>
<circle cx="640.03" cy="704.28" r="1.95"/>
<circle cx="622.65" cy="709.19" r="1.95"/>
<circle cx="647.65" cy="704.64" r="1.95"/>
<circle cx="602.97" cy="705.81" r="1.95"/>
<circle cx="613.83" cy="704.65" r="1.95"/>
<circle cx="646.76" cy="709.38" r="1.95"/>
<circle cx="616.39" cy="707.19" r="1.95"/>
<circle cx="628.08" cy="704.73" r="1.95"/>
<circle cx="622.60" cy="709.33" r="1.95"/>
<circle cx="633.25" cy="706.49" r="1.95"/>
<circle cx="608.03" cy="705.47" r="1.95"/>
<circle cx="564.33" cy="706.45" r="1.95"/>
<circle cx="628.23" cy="704.68" r="1.95"/>
<circle cx="641.38" cy="706.47" r="1.95"/>
<circle cx="584.75" cy="704.99" r="1.95"/>
<circle cx="619.69" cy="708.46" r="1.95"/>
<circle cx="633.21" cy="704.43" r="1.95"/>
<circle cx="615.83" cy="705.31" r="1.95"/>
<circle cx="571.13" cy="708.80" r="1.95"/>
<circle cx="626.60" cy="705.30" r="1.95"/>
<circle cx="634.52" cy="708.65" r="1.95"/>
<circle cx="627.75" cy="709.52" r="1.95"/>
<circle cx="645.80" cy="707.78" r="1.95"/>
<circle cx="624.17" cy="706.83" r="1.95"/>
<circle cx="586.18" cy="707.95" r="1.95"/>
<circle cx="617.87" cy="706.35" r="1.95"/>
<circle cx="629.34" cy="706.01" r="1.95"/>
<circle cx="593.04" cy="707.48" r="1.95"/>
<circle cx="627.72" cy="703.63" r="1.95"/>
<circle cx="579.58" cy="705.36" r="1.95"/>
<circle cx="610.81" cy="703.80" r="1.95"/>
<circle cx="631.73" cy="707.63" r="1.95"/>
<circle cx="596.57" cy="704.02" r="1.95"/>
<circle cx="616.36" cy="706.37" r="1.95"/>
<circle cx="637.09" cy="707.09" r="1.95"/>
<circle cx="623.15" cy="706.00" r="1.95"/>
<circle cx="613.46" cy="707.15" r="1.95"/>
<circle cx="573.46" cy="708.87" r="1.95"/>
<circle cx="655.51" cy="704.23" r="1.95"/>
<circle cx="601.28" cy="705.80" r="1.95"/>
<circle cx="586.32" cy="707.50" r="1.95"/>
<circle cx="622.50" cy="709.02" r="1.95"/>
<circle cx="573.19" cy="708.15" r="1.95"/>
<circle cx="623.81" cy="708.92" r="1.95"/>
<circle cx="632.39" cy="705.05" r="1.95"/>
<circle cx="590.46" cy="703.97" r="1.95"/>
<circle cx="632.50" cy="705.48" r="1.95"/>
<circle cx="609.96" cy="708.73" r="1.95"/>
<circle cx="627.87" cy="705.45" r="1.95"/>
<circle cx="626.87" cy="707.15" r="1.95"/>
<circle cx="605.28" cy="703.75" r="1.95"/>
<circle cx="625.69" cy="706.51" r="1.95"/>
<circle cx="627.71" cy="707.60" r="1.95"/>
<circle cx="600.89" cy="705.31" r="1.95"/>
<circle cx="617.54" cy="708.45" r="1.95"/>
<circle cx="614.63" cy="705.49" r="1.95"/>
<circle cx="635.75" cy="708.06" r="1.95"/>
<circle cx="619.15" cy="704.47" r="1.95"/>
<circle cx="633.47" cy="704.01" r="1.95"/>
<circle cx="619.30" cy="708.18" r="1.95"/>
<circle cx="660.42" cy="705.30" r="1.95"/>
<circle cx="601.48" cy="703.89" r="1.95"/>
<circle cx="648.43" cy="707.87" r="1.95"/>
<circle cx="606.27" cy="706.26" r="1.95"/>
<circle cx="645.92" cy="704.72" r="1.95"/>
<circle cx="595.98" cy="707.80" r="1.95"/>
<circle cx="644.27" cy="704.40" r="1.95"/>
<circle cx="613.63" cy="704.47" r="1.95"/>
<circle cx="623.02" cy="704.67" r="1.95"/>
<circle cx="642.77" cy="706.31" r="1.95"/>
<circle cx="637.14" cy="704.80" r="1.95"/>
<circle cx="616.09" cy="708.95" r="1.95"/>
<circle cx="628.08" cy="704.67" r="1.95"/>
<circle cx="592.63" cy="706.63" r="1.95"/>
<circle cx="595.25" cy="703.82" r="1.95"/>
<circle cx="599.59" cy="707.00" r="1.95"/>
<circle cx="619.97" cy="704.03" r="1.95"/>
<circle cx="589.64" cy="707.52" r="1.95"/>
<circle cx="621.93" cy="704.99" r="1.95"/>
<circle cx="631.24" cy="709.20" r="1.95"/>
<circle cx="629.11" cy="707.98" r="1.95"/>
<circle cx="578.76" cy="705.64" r="1.95"/>
<circle cx="622.59" cy="703.93" r="1.95"/>
<circle cx="619.43" cy="704.85" r="1.95"/>
<circle cx="630.30" cy="708.63" r="1.95"/>
<circle cx="665.49" cy="708.32" r="1.95"/>
<circle cx="605.88" cy="706.91" r="1.95"/>
<circle cx="637.36" cy="706.45" r="1.95"/>
<circle cx="658.48" cy="709.25" r="1.95"/>
<circle cx="616.54" cy="707.80" r="1.95"/>
<circle cx="647.21" cy="706.09" r="1.95"/>
<circle cx="584.09" cy="708.77" r="1.95"/>
<circle cx="607.10" cy="708.54" r="1.95"/>
<circle cx="641.74" cy="706.38" r="1.95"/>
<circle cx="625.41" cy="705.90" r="1.95"/>
<circle cx="614.99" cy="708.71" r="1.95"/>
<circle cx="634.28" cy="706.44" r="1.95"/>
<circle cx="611.01" cy="707.88" r="1.95"/>
<circle cx="656.91" cy="708.03" r="1.95"/>
<circle cx="583.04" cy="705.27" r="1.95"/>
<circle cx="617.84" cy="709.43" r="1.95"/>
<circle cx="601.05" cy="708.54" r="1.95"/>
<circle cx="630.20" cy="705.87" r="1.95"/>
<circle cx="608.10" cy="707.44" r="1.95"/>
<circle cx="618.35" cy="706.30" r="1.95"/>
<circle cx="620.16" cy="703.68" r="1.95"/>
<circle cx="636.97" cy="708.51" r="1.95"/>
<circle cx="627.16" cy="704.17" r="1.95"/>
<circle cx="593.88" cy="704.10" r="1.95"/>
<circle cx="636.44" cy="708.42" r="1.95"/>
<circle cx="628.64" cy="707.15" r="1.95"/>
<circle cx="583.19" cy="707.80" r="1.95"/>
<circle cx="602.59" cy="709.35" r="1.95"/>
<circle cx="617.71" cy="708.92" r="1.95"/>
<circle cx="615.57" cy="708.49" r="1.95"/>
<circle cx="644.20" cy="709.05" r="1.95"/>
<circle cx="624.83" cy="706.36" r="1.95"/>
<circle cx="618.78" cy="706.63" r="1.95"/>
<circle cx="612.50" cy="704.22" r="1.95"/>
<circle cx="590.08" cy="707.48" r="1.95"/>
<circle cx="621.37" cy="705.90" r="1.95"/>
<circle cx="621.99" cy="705.46" r="1.95"/>
<circle cx="630.25" cy="706.89" r="1.95"/>
<circle cx="601.63" cy="708.98" r="1.95"/>
<circle cx="616.05" cy="705.36" r="1.95"/>
<circle cx="648.29" cy="705.39" r="1.95"/>
<circle cx="625.15" cy="707.35" r="1.95"/>
<circle cx="593.19" cy="708.54" r="1.95"/>
<circle cx="600.14" cy="707.34" r="1.95"/>
<circle cx="603.91" cy="707.10" r="1.95"/>
<circle cx="614.80" cy="707.94" r="1.95"/>
<circle cx="637.14" cy="705.54" r="1.95"/>
<circle cx="609.28" cy="706.87" r="1.95"/>
<circle cx="643.04" cy="707.56" r="1.95"/>
<circle cx="625.15" cy="708.86" r="1.95"/>
<circle cx="574.57" cy="709.09" r="1.95"/>
<circle cx="567.62" cy="708.72" r="1.95"/>
<circle cx="649.28" cy="708.35" r="1.95"/>
<circle cx="602.83" cy="708.42" r="1.95"/>
<circle cx="638.46" cy="704.82" r="1.95"/>
<circle cx="643.65" cy="709.43" r="1.95"/>
<circle cx="636.26" cy="709.49" r="1.95"/>
<circle cx="618.13" cy="707.54" r="1.95"/>
<circle cx="614.79" cy="705.26" r="1.95"/>
<circle cx="620.54" cy="706.17" r="1.95"/>
<circle cx="625.82" cy="703.64" r="1.95"/>
<circle cx="642.74" cy="704.11" r="1.95"/>
<circle cx="588.31" cy="708.76" r="1.95"/>
<circle cx="631.34" cy="705.37" r="1.95"/>
<circle cx="577.67" cy="706.31" r="1.95"/>
<circle cx="628.52" cy="709.10" r="1.95"/>
<circle cx="630.23" cy="703.53" r="1.95"/>
<circle cx="627.41" cy="707.20" r="1.95"/>
<circle cx="622.20" cy="705.63" r="1.95"/>
<circle cx="605.32" cy="707.88" r="1.95"/>
<circle cx="623.09" cy="706.25" r="1.95"/>
<circle cx="615.52" cy="709.49" r="1.95"/>
<circle cx="638.52" cy="708.19" r="1.95"/>
<circle cx="615.86" cy="703.64" r="1.95"/>
<circle cx="595.80" cy="707.72" r="1.95"/>
<circle cx="595.31" cy="704.65" r="1.95"/>
<circle cx="629.37" cy="707.82" r="1.95"/>
<circle cx="593.98" cy="706.12" r="1.95"/>
<circle cx="599.90" cy="704.80" r="1.95"/>
<circle cx="621.27" cy="706.35" r="1.95"/>
<circle cx="642.74" cy="706.08" r="1.95"/>
<circle cx="636.89" cy="709.37" r="1.95"/>
<circle cx="619.84" cy="706.92" r="1.95"/>
<circle cx="617.85" cy="706.58" r="1.95"/>
<circle cx="649.42" cy="707.52" r="1.95"/>
<circle cx="614.86" cy="707.38" r="1.95"/>
<circle cx="605.85" cy="704.57" r="1.95"/>
<circle cx="648.36" cy="704.19" r="1.95"/>
<circle cx="585.85" cy="704.42" r="1.95"/>
<circle cx="640.22" cy="706.90" r="1.95"/>
<circle cx="637.17" cy="707.50" r="1.95"/>
<circle cx="619.97" cy="706.27" r="1.95"/>
<circle cx="618.19" cy="704.52" r="1.95"/>
<circle cx="622.99" cy="706.55" r="1.95"/>
<circle cx="574.25" cy="703.92" r="1.95"/>
<circle cx="608.86" cy="704.42" r="1.95"/>
<circle cx="630.69" cy="707.47" r="1.95"/>
<circle cx="646.40" cy="705.32" r="1.95"/>
<circle cx="574.58" cy="709.42" r="1.95"/>
<circle cx="654.54" cy="707.87" r="1.95"/>
<circle cx="618.18" cy="706.28" r="1.95"/>
<circle cx="614.93" cy="708.97" r="1.95"/>
<circle cx="570.58" cy="703.99" r="1.95"/>
<circle cx="579.95" cy="709.03" r="1.95"/>
<circle cx="619.38" cy="708.88" r="1.95"/>
<circle cx="622.82" cy="703.98" r="1.95"/>
<circle cx="614.92" cy="709.14" r="1.95"/>
<circle cx="591.51" cy="708.07" r="1.95"/>
<circle cx="646.93" cy="704.23" r="1.95"/>
<circle cx="633.77" cy="705.91" r="1.95"/>
<circle cx="608.21" cy="706.69" r="1.95"/>
<circle cx="597.99" cy="709.25" r="1.95"/>
<circle cx="600.48" cy="705.81" r="1.95"/>
<circle cx="643.08" cy="708.78" r="1.95"/>
<circle cx="637.68" cy="707.13" r="1.95"/>
<circle cx="648.08" cy="707.40" r="1.95"/>
<circle cx="601.53" cy="704.83" r="1.95"/>
<circle cx="608.38" cy="709.07" r="1.95"/>
<circle cx="616.37" cy="708.86" r="1.95"/>
<circle cx="608.35" cy="707.74" r="1.95"/>
<circle cx="596.79" cy="709.33" r="1.95"/>
<circle cx="630.49" cy="703.75" r="1.95"/>
<circle cx="616.67" cy="707.36" r="1.95"/>
<circle cx="587.24" cy="708.56" r="1.95"/>
<circle cx="636.88" cy="707.34" r="1.95"/>
<circle cx="595.53" cy="703.63" r="1.95"/>
<circle cx="614.26" cy="708.15" r="1.95"/>
<circle cx="624.85" cy="709.15" r="1.95"/>
<circle cx="632.64" cy="705.62" r="1.95"/>
<circle cx="631.19" cy="707.13" r="1.95"/>
<circle cx="618.84" cy="704.49" r="1.95"/>
<circle cx="644.19" cy="703.61" r="1.95"/>
<circle cx="600.66" cy="706.50" r="1.95"/>
<circle cx="630.04" cy="707.03" r="1.95"/>
<circle cx="630.38" cy="709.32" r="1.95"/>
<circle cx="613.28" cy="705.38" r="1.95"/>
<circle cx="568.32" cy="705.62" r="1.95"/>
<circle cx="635.72" cy="709.11" r="1.95"/>
<circle cx="609.42" cy="707.07" r="1.95"/>
<circle cx="632.55" cy="706.57" r="1.95"/>
<circle cx="631.94" cy="706.88" r="1.95"/>
<circle cx="580.66" cy="706.32" r="1.95"/>
</g>
<rect x="620.28" y="699.63" width="2.7" height="13.8" fill="#A6761D"/>
<g fill="#7570B3" fill-opacity="0.17" stroke="#7570B3" stroke-opacity="0.3" stroke-width="0.5">
<circle cx="631.96" cy="736.79" r="1.95"/>
<circle cx="600.73" cy="732.98" r="1.95"/>
<circle cx="588.93" cy="733.67" r="1.95"/>
<circle cx="618.83" cy="734.82" r="1.95"/>
<circle cx="637.45" cy="733.65" r="1.95"/>
<circle cx="618.17" cy="731.58" r="1.95"/>
<circle cx="643.67" cy="733.25" r="1.95"/>
<circle cx="604.86" cy="735.19" r="1.95"/>
<circle cx="642.48" cy="733.33" r="1.95"/>
<circle cx="607.15" cy="731.54" r="1.95"/>
<circle cx="627.65" cy="731.27" r="1.95"/>
<circle cx="635.22" cy="736.07" r="1.95"/>
<circle cx="631.87" cy="732.62" r="1.95"/>
<circle cx="586.43" cy="732.94" r="1.95"/>
<circle cx="587.71" cy="735.43" r="1.95"/>
<circle cx="624.23" cy="736.36" r="1.95"/>
<circle cx="627.34" cy="736.30" r="1.95"/>
<circle cx="613.32" cy="733.85" r="1.95"/>
<circle cx="590.29" cy="736.79" r="1.95"/>
<circle cx="627.49" cy="736.02" r="1.95"/>
<circle cx="633.50" cy="731.25" r="1.95"/>
<circle cx="621.27" cy="731.63" r="1.95"/>
<circle cx="583.99" cy="735.22" r="1.95"/>
<circle cx="615.40" cy="734.23" r="1.95"/>
<circle cx="616.87" cy="735.90" r="1.95"/>
<circle cx="616.93" cy="733.33" r="1.95"/>
<circle cx="624.91" cy="736.55" r="1.95"/>
<circle cx="625.32" cy="732.71" r="1.95"/>
<circle cx="588.73" cy="734.78" r="1.95"/>
<circle cx="621.21" cy="735.57" r="1.95"/>
<circle cx="600.64" cy="731.29" r="1.95"/>
<circle cx="596.19" cy="734.81" r="1.95"/>
<circle cx="628.58" cy="732.30" r="1.95"/>
<circle cx="644.41" cy="736.66" r="1.95"/>
<circle cx="610.71" cy="734.91" r="1.95"/>
<circle cx="603.99" cy="736.86" r="1.95"/>
<circle cx="614.75" cy="732.88" r="1.95"/>
<circle cx="589.60" cy="733.64" r="1.95"/>
<circle cx="595.73" cy="735.24" r="1.95"/>
<circle cx="630.58" cy="736.12" r="1.95"/>
<circle cx="602.54" cy="735.50" r="1.95"/>
<circle cx="607.30" cy="733.40" r="1.95"/>
<circle cx="602.69" cy="734.50" r="1.95"/>
<circle cx="603.98" cy="735.78" r="1.95"/>
<circle cx="603.66" cy="733.55" r="1.95"/>
<circle cx="642.20" cy="731.28" r="1.95"/>
<circle cx="610.77" cy="733.25" r="1.95"/>
<circle cx="628.60" cy="733.54" r="1.95"/>
<circle cx="610.02" cy="733.53" r="1.95"/>
</g>
<rect x="616.70" y="727.04" width="2.7" height="13.8" fill="#7570B3"/>
<g fill="#E6AB02" fill-opacity="0.17" stroke="#E6AB02" stroke-opacity="0.3" stroke-width="0.5">
<circle cx="620.19" cy="763.63" r="1.95"/>
<circle cx="600.21" cy="758.92" r="1.95"/>
<circle cx="608.43" cy="759.97" r="1.95"/>
<circle cx="634.98" cy="764.08" r="1.95"/>
<circle cx="606.07" cy="759.74" r="1.95"/>
<circle cx="607.45" cy="764.13" r="1.95"/>
<circle cx="624.42" cy="763.73" r="1.95"/>
<circle cx="573.81" cy="759.24" r="1.95"/>
<circle cx="618.66" cy="762.34" r="1.95"/>
<circle cx="587.97" cy="761.23" r="1.95"/>
<circle cx="624.62" cy="762.30" r="1.95"/>
<circle cx="641.42" cy="761.06" r="1.95"/>
<circle cx="635.70" cy="762.96" r="1.95"/>
<circle cx="602.45" cy="762.38" r="1.95"/>
<circle cx="631.43" cy="761.87" r="1.95"/>
<circle cx="587.97" cy="762.61" r="1.95"/>
<circle cx="577.14" cy="763.40" r="1.95"/>
<circle cx="620.58" cy="761.41" r="1.95"/>
<circle cx="589.38" cy="758.65" r="1.95"/>
<circle cx="590.91" cy="760.76" r="1.95"/>
<circle cx="627.85" cy="759.42" r="1.95"/>
<circle cx="618.74" cy="759.69" r="1.95"/>
<circle cx="639.03" cy="758.73" r="1.95"/>
<circle cx="600.00" cy="761.95" r="1.95"/>
<circle cx="630.29" cy="761.27" r="1.95"/>
<circle cx="591.76" cy="762.41" r="1.95"/>
<circle cx="625.65" cy="758.41" r="1.95"/>
<circle cx="579.99" cy="762.34" r="1.95"/>
<circle cx="634.45" cy="761.32" r="1.95"/>
<circle cx="628.07" cy="760.61" r="1.95"/>
<circle cx="623.51" cy="763.23" r="1.95"/>
<circle cx="621.27" cy="763.88" r="1.95"/>
<circle cx="579.69" cy="763.23" r="1.95"/>
<circle cx="627.40" cy="763.92" r="1.95"/>
<circle cx="634.19" cy="763.35" r="1.95"/>
<circle cx="616.55" cy="759.52" r="1.95"/>
<circle cx="640.30" cy="759.40" r="1.95"/>
<circle cx="624.29" cy="763.34" r="1.95"/>
<circle cx="580.93" cy="762.11" r="1.95"/>
<circle cx="629.16" cy="760.98" r="1.95"/>
<circle cx="639.66" cy="760.13" r="1.95"/>
<circle cx="591.29" cy="761.51" r="1.95"/>
<circle cx="580.95" cy="759.79" r="1.95"/>
<circle cx="637.17" cy="761.48" r="1.95"/>
<circle cx="640.88" cy="763.92" r="1.95"/>
<circle cx="629.25" cy="761.42" r="1.95"/>
<circle cx="640.67" cy="758.52" r="1.95"/>
<circle cx="577.77" cy="761.61" r="1.95"/>
<circle cx="621.46" cy="762.78" r="1.95"/>
<circle cx="581.89" cy="762.00" r="1.95"/>
<circle cx="591.78" cy="763.73" r="1.95"/>
<circle cx="629.26" cy="764.33" r="1.95"/>
<circle cx="617.67" cy="762.88" r="1.95"/>
</g>
<rect x="618.29" y="754.45" width="2.7" height="13.8" fill="#E6AB02"/>
<g fill="#E7298A" fill-opacity="0.17" stroke="#E7298A" stroke-opacity="0.3" stroke-width="0.5">
<circle cx="619.66" cy="790.22" r="1.95"/>
<circle cx="641.47" cy="785.81" r="1.95"/>
<circle cx="569.26" cy="787.07" r="1.95"/>
<circle cx="625.43" cy="787.43" r="1.95"/>
<circle cx="607.41" cy="791.30" r="1.95"/>
<circle cx="589.83" cy="787.81" r="1.95"/>
<circle cx="593.51" cy="788.42" r="1.95"/>
<circle cx="559.09" cy="787.40" r="1.95"/>
<circle cx="641.08" cy="787.16" r="1.95"/>
<circle cx="601.29" cy="787.94" r="1.95"/>
<circle cx="609.66" cy="791.71" r="1.95"/>
<circle cx="626.15" cy="789.48" r="1.95"/>
<circle cx="623.82" cy="786.59" r="1.95"/>
<circle cx="597.84" cy="788.46" r="1.95"/>
<circle cx="583.04" cy="790.59" r="1.95"/>
<circle cx="588.36" cy="790.90" r="1.95"/>
<circle cx="559.75" cy="787.11" r="1.95"/>
<circle cx="625.18" cy="787.76" r="1.95"/>
<circle cx="565.55" cy="786.55" r="1.95"/>
<circle cx="632.93" cy="791.35" r="1.95"/>
<circle cx="615.98" cy="791.56" r="1.95"/>
<circle cx="629.27" cy="786.69" r="1.95"/>
<circle cx="564.41" cy="788.83" r="1.95"/>
<circle cx="622.78" cy="787.39" r="1.95"/>
<circle cx="588.11" cy="790.29" r="1.95"/>
<circle cx="595.68" cy="786.06" r="1.95"/>
<circle cx="593.95" cy="786.74" r="1.95"/>
<circle cx="604.09" cy="789.37" r="1.95"/>
<circle cx="638.34" cy="791.08" r="1.95"/>
<circle cx="619.22" cy="791.70" r="1.95"/>
<circle cx="625.69" cy="786.87" r="1.95"/>
<circle cx="637.81" cy="789.68" r="1.95"/>
<circle cx="613.09" cy="791.18" r="1.95"/>
<circle cx="589.86" cy="788.07" r="1.95"/>
<circle cx="612.65" cy="789.13" r="1.95"/>
<circle cx="612.11" cy="788.45" r="1.95"/>
<circle cx="621.26" cy="786.16" r="1.95"/>
<circle cx="615.82" cy="788.01" r="1.95"/>
<circle cx="607.39" cy="787.04" r="1.95"/>
<circle cx="588.59" cy="790.45" r="1.95"/>
<circle cx="631.46" cy="788.69" r="1.95"/>
<circle cx="575.57" cy="785.90" r="1.95"/>
<circle cx="589.66" cy="790.18" r="1.95"/>
<circle cx="596.48" cy="790.19" r="1.95"/>
<circle cx="562.38" cy="790.06" r="1.95"/>
<circle cx="617.21" cy="786.15" r="1.95"/>
<circle cx="619.58" cy="786.68" r="1.95"/>
<circle cx="596.35" cy="786.22" r="1.95"/>
<circle cx="589.96" cy="790.38" r="1.95"/>
<circle cx="635.73" cy="791.11" r="1.95"/>
<circle cx="606.80" cy="791.46" r="1.95"/>
<circle cx="601.07" cy="791.28" r="1.95"/>
<circle cx="618.12" cy="787.08" r="1.95"/>
<circle cx="633.30" cy="787.73" r="1.95"/>
<circle cx="585.08" cy="791.10" r="1.95"/>
</g>
<rect x="609.14" y="781.86" width="2.7" height="13.8" fill="#E7298A"/>
<g fill="#66A61E" fill-opacity="0.17" stroke="#66A61E" stroke-opacity="0.3" stroke-width="0.5">
<circle cx="603.83" cy="818.44" r="1.95"/>
<circle cx="628.29" cy="814.66" r="1.95"/>
<circle cx="619.24" cy="819.07" r="1.95"/>
<circle cx="608.58" cy="813.74" r="1.95"/>
<circle cx="625.06" cy="814.30" r="1.95"/>
<circle cx="625.32" cy="814.31" r="1.95"/>
<circle cx="634.62" cy="817.41" r="1.95"/>
<circle cx="587.80" cy="818.51" r="1.95"/>
<circle cx="607.34" cy="817.45" r="1.95"/>
<circle cx="613.12" cy="814.62" r="1.95"/>
<circle cx="635.04" cy="818.83" r="1.95"/>
<circle cx="623.65" cy="814.12" r="1.95"/>
<circle cx="591.67" cy="818.59" r="1.95"/>
<circle cx="613.91" cy="815.43" r="1.95"/>
<circle cx="586.82" cy="818.33" r="1.95"/>
<circle cx="613.44" cy="816.76" r="1.95"/>
<circle cx="634.16" cy="817.31" r="1.95"/>
<circle cx="607.73" cy="815.06" r="1.95"/>
<circle cx="603.50" cy="813.54" r="1.95"/>
<circle cx="636.32" cy="818.95" r="1.95"/>
<circle cx="619.02" cy="813.50" r="1.95"/>
<circle cx="596.71" cy="815.46" r="1.95"/>
<circle cx="595.18" cy="818.70" r="1.95"/>
<circle cx="616.03" cy="813.18" r="1.95"/>
<circle cx="598.47" cy="818.33" r="1.95"/>
<circle cx="615.62" cy="814.59" r="1.95"/>
<circle cx="648.16" cy="816.81" r="1.95"/>
<circle cx="616.23" cy="816.76" r="1.95"/>
<circle cx="611.55" cy="817.18" r="1.95"/>
<circle cx="602.42" cy="818.67" r="1.95"/>
<circle cx="593.94" cy="813.71" r="1.95"/>
<circle cx="604.94" cy="816.47" r="1.95"/>
<circle cx="616.85" cy="818.58" r="1.95"/>
<circle cx="575.70" cy="813.50" r="1.95"/>
<circle cx="592.51" cy="813.60" r="1.95"/>
<circle cx="611.36" cy="818.20" r="1.95"/>
<circle cx="647.13" cy="817.33" r="1.95"/>
<circle cx="603.26" cy="815.20" r="1.95"/>
<circle cx="622.60" cy="817.54" r="1.95"/>
<circle cx="628.86" cy="813.55" r="1.95"/>
<circle cx="627.99" cy="818.87" r="1.95"/>
<circle cx="606.17" cy="817.06" r="1.95"/>
<circle cx="616.59" cy="814.82" r="1.95"/>
<circle cx="623.03" cy="814.53" r="1.95"/>
<circle cx="628.02" cy="813.87" r="1.95"/>
<circle cx="633.30" cy="817.58" r="1.95"/>
<circle cx="634.83" cy="816.59" r="1.95"/>
<circle cx="627.32" cy="816.67" r="1.95"/>
<circle cx="598.43" cy="815.77" r="1.95"/>
<circle cx="636.82" cy="813.89" r="1.95"/>
<circle cx="623.05" cy="815.26" r="1.95"/>
<circle cx="610.04" cy="815.89" r="1.95"/>
<circle cx="594.73" cy="813.32" r="1.95"/>
<circle cx="625.33" cy="814.60" r="1.95"/>
<circle cx="592.15" cy="814.34" r="1.95"/>
<circle cx="614.00" cy="817.28" r="1.95"/>
<circle cx="603.20" cy="816.80" r="1.95"/>
<circle cx="622.10" cy="813.43" r="1.95"/>
<circle cx="611.51" cy="814.09" r="1.95"/>
<circle cx="619.03" cy="813.98" r="1.95"/>
<circle cx="619.09" cy="815.07" r="1.95"/>
<circle cx="617.80" cy="817.15" r="1.95"/>
<circle cx="627.33" cy="816.11" r="1.95"/>
<circle cx="633.14" cy="816.43" r="1.95"/>
<circle cx="592.96" cy="815.20" r="1.95"/>
<circle cx="601.90" cy="818.75" r="1.95"/>
<circle cx="621.63" cy="817.96" r="1.95"/>
<circle cx="640.66" cy="813.38" r="1.95"/>
<circle cx="615.92" cy="814.92" r="1.95"/>
<circle cx="621.44" cy="814.24" r="1.95"/>
<circle cx="631.77" cy="813.62" r="1.95"/>
<circle cx="629.87" cy="815.03" r="1.95"/>
<circle cx="631.27" cy="813.79" r="1.95"/>
<circle cx="644.58" cy="818.17" r="1.95"/>
<circle cx="635.27" cy="817.76" r="1.95"/>
<circle cx="623.76" cy="815.41" r="1.95"/>
<circle cx="626.43" cy="815.38" r="1.95"/>
<circle cx="625.23" cy="816.88" r="1.95"/>
<circle cx="597.61" cy="816.66" r="1.95"/>
<circle cx="594.54" cy="818.97" r="1.95"/>
<circle cx="607.12" cy="813.55" r="1.95"/>
<circle cx="574.22" cy="813.84" r="1.95"/>
<circle cx="623.23" cy="818.26" r="1.95"/>
<circle cx="607.06" cy="813.79" r="1.95"/>
<circle cx="605.14" cy="816.14" r="1.95"/>
<circle cx="626.47" cy="817.44" r="1.95"/>
<circle cx="627.95" cy="815.93" r="1.95"/>
<circle cx="615.12" cy="814.34" r="1.95"/>
<circle cx="618.26" cy="815.48" r="1.95"/>
<circle cx="610.06" cy="816.38" r="1.95"/>
<circle cx="601.77" cy="815.52" r="1.95"/>
<circle cx="629.18" cy="815.19" r="1.95"/>
<circle cx="609.80" cy="814.82" r="1.95"/>
<circle cx="641.80" cy="814.25" r="1.95"/>
<circle cx="622.92" cy="813.75" r="1.95"/>
<circle cx="606.76" cy="813.83" r="1.95"/>
<circle cx="591.84" cy="816.25" r="1.95"/>
<circle cx="619.37" cy="818.97" r="1.95"/>
<circle cx="634.70" cy="818.72" r="1.95"/>
<circle cx="590.69" cy="818.05" r="1.95"/>
<circle cx="609.97" cy="816.92" r="1.95"/>
<circle cx="623.36" cy="817.91" r="1.95"/>
<circle cx="597.69" cy="813.82" r="1.95"/>
<circle cx="610.65" cy="816.79" r="1.95"/>
<circle cx="591.87" cy="815.78" r="1.95"/>
<circle cx="626.49" cy="814.58" r="1.95"/>
<circle cx="601.06" cy="815.90" r="1.95"/>
<circle cx="584.63" cy="815.13" r="1.95"/>
<circle cx="635.19" cy="813.36" r="1.95"/>
<circle cx="628.01" cy="818.26" r="1.95"/>
<circle cx="602.23" cy="818.23" r="1.95"/>
<circle cx="622.84" cy="813.70" r="1.95"/>
<circle cx="641.16" cy="814.97" r="1.95"/>
<circle cx="626.93" cy="816.99" r="1.95"/>
<circle cx="640.16" cy="817.02" r="1.95"/>
<circle cx="614.45" cy="817.01" r="1.95"/>
<circle cx="632.85" cy="816.24" r="1.95"/>
<circle cx="626.32" cy="817.92" r="1.95"/>
<circle cx="635.24" cy="815.41" r="1.95"/>
<circle cx="623.73" cy="816.23" r="1.95"/>
<circle cx="642.13" cy="817.21" r="1.95"/>
<circle cx="598.62" cy="816.86" r="1.95"/>
<circle cx="604.36" cy="818.42" r="1.95"/>
<circle cx="623.01" cy="815.26" r="1.95"/>
<circle cx="582.69" cy="814.80" r="1.95"/>
<circle cx="618.55" cy="816.06" r="1.95"/>
<circle cx="597.62" cy="813.57" r="1.95"/>
<circle cx="579.39" cy="814.70" r="1.95"/>
<circle cx="627.36" cy="813.32" r="1.95"/>
<circle cx="639.60" cy="814.22" r="1.95"/>
<circle cx="608.15" cy="813.86" r="1.95"/>
<circle cx="595.15" cy="818.38" r="1.95"/>
<circle cx="617.93" cy="814.12" r="1.95"/>
<circle cx="612.80" cy="816.42" r="1.95"/>
<circle cx="607.53" cy="818.03" r="1.95"/>
<circle cx="627.65" cy="814.62" r="1.95"/>
<circle cx="630.23" cy="817.87" r="1.95"/>
<circle cx="628.12" cy="814.32" r="1.95"/>
<circle cx="627.38" cy="817.47" r="1.95"/>
<circle cx="625.81" cy="813.57" r="1.95"/>
<circle cx="618.90" cy="815.32" r="1.95"/>
<circle cx="627.30" cy="818.40" r="1.95"/>
</g>
<rect x="619.88" y="809.27" width="2.7" height="13.8" fill="#66A61E"/>
<rect x="550.1" y="607.9" width="134.1" height="224.80" fill="none" stroke="#333333" stroke-width="1.2"/>
<line x1="546.9" y1="624.30" x2="550.1" y2="624.30" stroke="#333333" stroke-width="1.25"/>
<line x1="546.9" y1="651.71" x2="550.1" y2="651.71" stroke="#333333" stroke-width="1.25"/>
<line x1="546.9" y1="679.12" x2="550.1" y2="679.12" stroke="#333333" stroke-width="1.25"/>
<line x1="546.9" y1="706.53" x2="550.1" y2="706.53" stroke="#333333" stroke-width="1.25"/>
<line x1="546.9" y1="733.94" x2="550.1" y2="733.94" stroke="#333333" stroke-width="1.25"/>
<line x1="546.9" y1="761.35" x2="550.1" y2="761.35" stroke="#333333" stroke-width="1.25"/>
<line x1="546.9" y1="788.76" x2="550.1" y2="788.76" stroke="#333333" stroke-width="1.25"/>
<line x1="546.9" y1="816.17" x2="550.1" y2="816.17" stroke="#333333" stroke-width="1.25"/>
<line x1="567.90" y1="832.7" x2="567.90" y2="835.90" stroke="#333333" stroke-width="1.25"/>
<text x="565.56" y="844.20" textLength="4.45" lengthAdjust="spacingAndGlyphs" style='font-family:"Liberation Sans",sans-serif;font-size:8.5px;' fill="#333333" stroke="#333333" stroke-width="0.25">1</text>
<line x1="607.70" y1="832.7" x2="607.70" y2="835.90" stroke="#333333" stroke-width="1.25"/>
<text x="603.10" y="844.20" textLength="8.90" lengthAdjust="spacingAndGlyphs" style='font-family:"Liberation Sans",sans-serif;font-size:8.5px;' fill="#333333" stroke="#333333" stroke-width="0.25">10</text>
<line x1="647.50" y1="832.7" x2="647.50" y2="835.90" stroke="#333333" stroke-width="1.25"/>
<text x="640.68" y="844.20" textLength="13.35" lengthAdjust="spacingAndGlyphs" style='font-family:"Liberation Sans",sans-serif;font-size:8.5px;' fill="#333333" stroke="#333333" stroke-width="0.25">100</text>
<text x="611.21" y="854.30" textLength="16.25" lengthAdjust="spacingAndGlyphs" style='font-family:"Liberation Sans",sans-serif;font-size:8.0px;' fill="#111111" stroke="#111111" stroke-width="0.25">TPM</text>
<text x="594.11" y="601.00" textLength="42.27" lengthAdjust="spacingAndGlyphs" style='font-family:"Liberation Sans",sans-serif;font-size:13.2px;font-style:italic;' fill="#000" stroke="#000" stroke-width="0.25">ERBB2</text>
<text x="-0.15" y="600.40" textLength="9.02" lengthAdjust="spacingAndGlyphs" style='font-family:"Liberation Sans",sans-serif;font-size:15.8px;' fill="#000" stroke="#000" stroke-width="0.25">b</text>
<text x="36.14" y="628.00" textLength="78.81" lengthAdjust="spacingAndGlyphs" style='font-family:"Liberation Sans",sans-serif;font-size:11.9px;' fill="#000" stroke="#000" stroke-width="0.25">DSRCT (n=26)</text>
<text x="48.45" y="655.41" textLength="66.48" lengthAdjust="spacingAndGlyphs" style='font-family:"Liberation Sans",sans-serif;font-size:11.9px;' fill="#000" stroke="#000" stroke-width="0.25">SySa (n=49)</text>
<text x="42.50" y="682.82" textLength="72.45" lengthAdjust="spacingAndGlyphs" style='font-family:"Liberation Sans",sans-serif;font-size:11.9px;' fill="#000" stroke="#000" stroke-width="0.25">Bone (n=122)</text>
<text x="15.43" y="710.23" textLength="99.53" lengthAdjust="spacingAndGlyphs" style='font-family:"Liberation Sans",sans-serif;font-size:11.9px;' fill="#000" stroke="#000" stroke-width="0.25">STS: OTH (n=294)</text>
<text x="26.20" y="737.64" textLength="88.74" lengthAdjust="spacingAndGlyphs" style='font-family:"Liberation Sans",sans-serif;font-size:11.9px;' fill="#000" stroke="#000" stroke-width="0.25">ES/PNET (n=49)</text>
<text x="62.38" y="765.05" textLength="52.59" lengthAdjust="spacingAndGlyphs" style='font-family:"Liberation Sans",sans-serif;font-size:11.9px;' fill="#000" stroke="#000" stroke-width="0.25">LS (n=53)</text>
<text x="49.34" y="792.46" textLength="65.59" lengthAdjust="spacingAndGlyphs" style='font-family:"Liberation Sans",sans-serif;font-size:11.9px;' fill="#000" stroke="#000" stroke-width="0.25">GIST (n=55)</text>
<text x="45.83" y="819.87" textLength="69.13" lengthAdjust="spacingAndGlyphs" style='font-family:"Liberation Sans",sans-serif;font-size:11.9px;' fill="#000" stroke="#000" stroke-width="0.25">LMS (n=142)</text>
<text x="-748.93" y="8.70" textLength="56.29" lengthAdjust="spacingAndGlyphs" style='font-family:"Liberation Sans",sans-serif;font-size:13.6px;' fill="#000" stroke="#000" stroke-width="0.25" transform="rotate(-90)">Diagnosis</text>
</svg>
</body></html>
